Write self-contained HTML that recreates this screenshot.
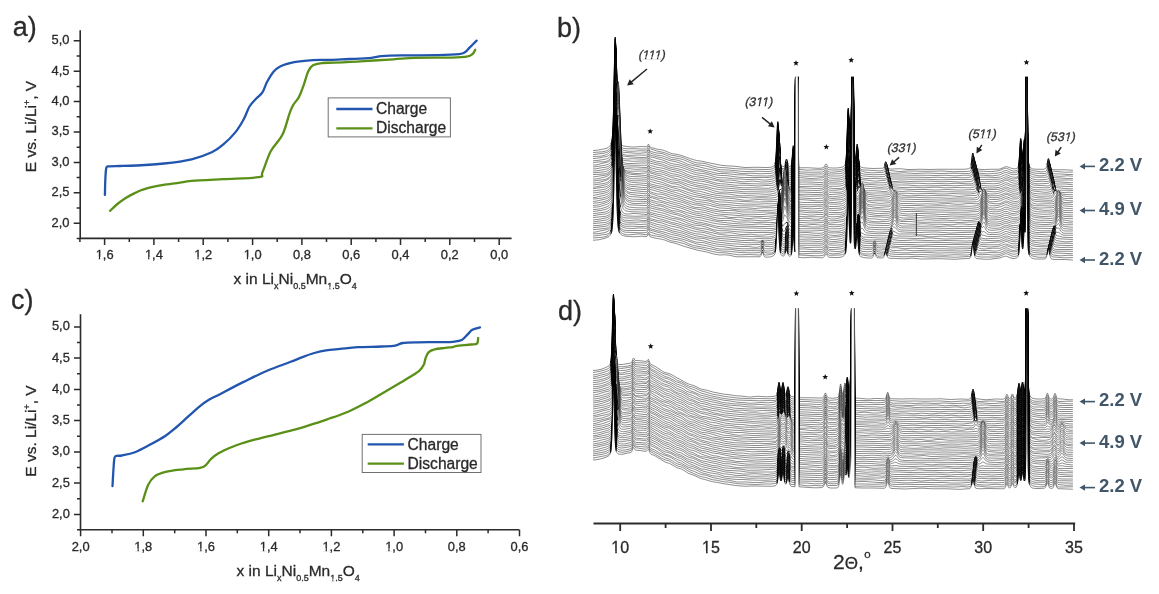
<!DOCTYPE html>
<html><head><meta charset="utf-8"><style>
html,body{margin:0;padding:0;background:#fff;}
svg{display:block;filter:blur(0.6px);}
text{font-family:"Liberation Sans", sans-serif;}
</style></head><body>
<svg width="1159" height="594" viewBox="0 0 1159 594">
<rect width="1159" height="594" fill="#fff"/>
<path d="M80.2 30.2V238.4H511.6" fill="none" stroke="#2b2b2b" stroke-width="1.6"/>
<text x="69.5" y="226.6" text-anchor="end" font-size="12.9" fill="#2a2a2a" stroke="#2a2a2a" stroke-width="0.30">2,0</text>
<text x="69.5" y="196.2" text-anchor="end" font-size="12.9" fill="#2a2a2a" stroke="#2a2a2a" stroke-width="0.30">2,5</text>
<text x="69.5" y="165.8" text-anchor="end" font-size="12.9" fill="#2a2a2a" stroke="#2a2a2a" stroke-width="0.30">3,0</text>
<text x="69.5" y="135.4" text-anchor="end" font-size="12.9" fill="#2a2a2a" stroke="#2a2a2a" stroke-width="0.30">3,5</text>
<text x="69.5" y="105.0" text-anchor="end" font-size="12.9" fill="#2a2a2a" stroke="#2a2a2a" stroke-width="0.30">4,0</text>
<text x="69.5" y="74.6" text-anchor="end" font-size="12.9" fill="#2a2a2a" stroke="#2a2a2a" stroke-width="0.30">4,5</text>
<text x="69.5" y="44.2" text-anchor="end" font-size="12.9" fill="#2a2a2a" stroke="#2a2a2a" stroke-width="0.30">5,0</text>
<text x="104.6" y="259.2" text-anchor="middle" font-size="12.9" fill="#2a2a2a" stroke="#2a2a2a" stroke-width="0.30">1,6</text>
<text x="153.9" y="259.2" text-anchor="middle" font-size="12.9" fill="#2a2a2a" stroke="#2a2a2a" stroke-width="0.30">1,4</text>
<text x="203.2" y="259.2" text-anchor="middle" font-size="12.9" fill="#2a2a2a" stroke="#2a2a2a" stroke-width="0.30">1,2</text>
<text x="252.6" y="259.2" text-anchor="middle" font-size="12.9" fill="#2a2a2a" stroke="#2a2a2a" stroke-width="0.30">1,0</text>
<text x="301.9" y="259.2" text-anchor="middle" font-size="12.9" fill="#2a2a2a" stroke="#2a2a2a" stroke-width="0.30">0,8</text>
<text x="351.2" y="259.2" text-anchor="middle" font-size="12.9" fill="#2a2a2a" stroke="#2a2a2a" stroke-width="0.30">0,6</text>
<text x="400.5" y="259.2" text-anchor="middle" font-size="12.9" fill="#2a2a2a" stroke="#2a2a2a" stroke-width="0.30">0,4</text>
<text x="449.8" y="259.2" text-anchor="middle" font-size="12.9" fill="#2a2a2a" stroke="#2a2a2a" stroke-width="0.30">0,2</text>
<text x="499.2" y="259.2" text-anchor="middle" font-size="12.9" fill="#2a2a2a" stroke="#2a2a2a" stroke-width="0.30">0,0</text>
<path d="M73.7 223.2H80.2M76.7 208.0H80.2M73.7 192.8H80.2M76.7 177.6H80.2M73.7 162.4H80.2M76.7 147.2H80.2M73.7 132.0H80.2M76.7 116.8H80.2M73.7 101.6H80.2M76.7 86.4H80.2M73.7 71.2H80.2M76.7 56.0H80.2M73.7 40.8H80.2M76.7 238.4H80.2M79.9 238.4V241.9M104.6 238.4V244.9M129.3 238.4V241.9M153.9 238.4V244.9M178.6 238.4V241.9M203.2 238.4V244.9M227.9 238.4V241.9M252.6 238.4V244.9M277.2 238.4V241.9M301.9 238.4V244.9M326.5 238.4V241.9M351.2 238.4V244.9M375.9 238.4V241.9M400.5 238.4V244.9M425.2 238.4V241.9M449.8 238.4V244.9M474.5 238.4V241.9M499.2 238.4V244.9" fill="none" stroke="#2b2b2b" stroke-width="1.5"/>
<path d="M104.9 194.9C105.0 192.4 105.1 184.4 105.3 180.0C105.5 175.6 105.7 170.8 106.2 168.5C106.7 166.2 106.2 166.7 108.5 166.3C110.8 165.9 115.3 166.1 120.0 166.0C124.7 165.9 129.1 165.9 136.4 165.5C143.7 165.1 154.8 164.5 164.0 163.5C173.2 162.5 183.6 161.2 191.6 159.3C199.6 157.4 206.5 154.8 211.8 152.3C217.1 149.8 219.7 147.5 223.6 144.2C227.5 140.9 232.0 136.5 235.3 132.4C238.6 128.3 241.2 123.8 243.6 119.5C246.0 115.2 247.3 110.0 249.5 106.5C251.7 103.0 254.3 100.6 256.5 98.3C258.6 96.0 260.6 95.2 262.4 92.4C264.2 89.7 265.3 85.1 267.1 81.8C268.9 78.5 270.8 75.0 273.0 72.4C275.2 69.9 276.6 68.2 280.1 66.5C283.6 64.8 288.7 63.3 294.2 62.2C299.7 61.1 307.0 60.5 313.0 60.1C319.0 59.7 323.9 60.1 330.0 59.9C336.1 59.7 342.4 59.3 349.3 59.0C356.2 58.7 365.9 58.4 371.3 57.9C376.7 57.4 376.7 56.5 381.6 56.1C386.5 55.7 391.4 55.5 400.7 55.4C410.0 55.2 427.5 55.4 437.3 55.2C447.1 55.0 454.7 54.7 459.3 54.2C463.9 53.7 463.5 53.1 465.2 52.0C466.9 50.9 467.7 49.5 469.6 47.6C471.5 45.7 475.4 41.8 476.6 40.6" fill="none" stroke="#2155ae" stroke-width="2.3" stroke-linejoin="round" stroke-linecap="round"/>
<path d="M110.1 210.8C111.2 209.8 114.3 206.6 116.8 204.5C119.3 202.4 122.5 200.0 125.3 198.2C128.1 196.4 130.9 195.0 133.7 193.6C136.5 192.2 139.3 190.9 142.1 189.8C144.9 188.8 147.7 188.0 150.5 187.3C153.3 186.6 156.1 186.1 158.9 185.6C161.7 185.1 163.9 184.8 167.4 184.3C170.9 183.8 176.0 183.2 180.0 182.6C184.0 182.0 184.3 181.5 191.6 180.9C198.9 180.3 212.4 179.7 223.6 179.1C234.8 178.5 252.4 178.3 258.9 177.2C265.4 176.1 260.4 176.8 262.4 172.5C264.4 168.2 267.4 157.6 270.7 151.3C274.0 145.0 279.3 141.1 282.4 134.8C285.5 128.5 287.7 118.5 289.5 113.6C291.3 108.7 291.4 108.0 293.0 105.3C294.6 102.5 297.1 100.4 298.9 97.1C300.7 93.8 302.0 89.6 303.6 85.3C305.2 81.0 306.7 74.5 308.3 71.2C309.9 67.9 310.6 66.7 313.0 65.3C315.4 63.9 318.9 63.5 322.5 63.0C326.1 62.5 327.8 62.9 334.7 62.6C341.6 62.3 354.2 61.7 364.0 61.1C373.8 60.5 384.8 59.8 393.3 59.3C401.9 58.8 405.5 58.2 415.3 57.9C425.1 57.6 443.4 57.8 452.0 57.6C460.6 57.4 463.3 57.3 466.7 56.7C470.1 56.1 471.1 55.4 472.5 54.2C473.9 53.1 474.8 50.5 475.2 49.8" fill="none" stroke="#5a9018" stroke-width="2.3" stroke-linejoin="round" stroke-linecap="round"/>
<rect x="328.2" y="97.9" width="122.2" height="39.0" fill="#fff" stroke="#707070" stroke-width="1"/>
<path d="M336.3 109.0H372.5" stroke="#2155ae" stroke-width="2.3"/>
<path d="M336.3 128.4H372.5" stroke="#5a9018" stroke-width="2.3"/>
<text x="376.0" y="114.1" font-size="15.6" fill="#2a2a2a" stroke="#2a2a2a" stroke-width="0.30">Charge</text>
<text x="376.0" y="133.4" font-size="15.6" fill="#2a2a2a" stroke="#2a2a2a" stroke-width="0.30">Discharge</text>
<text x="233.5" y="283.5" font-size="15.5" fill="#2a2a2a" stroke="#2a2a2a" stroke-width="0.30">x in Li<tspan font-size="9" dy="5">x</tspan><tspan dy="-5">Ni</tspan><tspan font-size="9" dy="5">0.5</tspan><tspan dy="-5">Mn</tspan><tspan font-size="9" dy="5">1.5</tspan><tspan dy="-5">O</tspan><tspan font-size="9" dy="5">4</tspan></text>
<text transform="translate(35.8 126.5) rotate(-90)" text-anchor="middle" font-size="15.5" fill="#2a2a2a" stroke="#2a2a2a" stroke-width="0.30">E vs. Li/Li<tspan font-size="9" dy="-6">+</tspan><tspan dy="6">, V</tspan></text>
<text x="12.8" y="36.4" font-size="27" fill="#2a2a2a" stroke="#2a2a2a" stroke-width="0.30">a)</text>
<path d="M80.5 314.3V529.8H519.3" fill="none" stroke="#2b2b2b" stroke-width="1.6"/>
<text x="69.8" y="517.8" text-anchor="end" font-size="12.9" fill="#2a2a2a" stroke="#2a2a2a" stroke-width="0.30">2,0</text>
<text x="69.8" y="486.5" text-anchor="end" font-size="12.9" fill="#2a2a2a" stroke="#2a2a2a" stroke-width="0.30">2,5</text>
<text x="69.8" y="455.3" text-anchor="end" font-size="12.9" fill="#2a2a2a" stroke="#2a2a2a" stroke-width="0.30">3,0</text>
<text x="69.8" y="424.0" text-anchor="end" font-size="12.9" fill="#2a2a2a" stroke="#2a2a2a" stroke-width="0.30">3,5</text>
<text x="69.8" y="392.8" text-anchor="end" font-size="12.9" fill="#2a2a2a" stroke="#2a2a2a" stroke-width="0.30">4,0</text>
<text x="69.8" y="361.5" text-anchor="end" font-size="12.9" fill="#2a2a2a" stroke="#2a2a2a" stroke-width="0.30">4,5</text>
<text x="69.8" y="330.3" text-anchor="end" font-size="12.9" fill="#2a2a2a" stroke="#2a2a2a" stroke-width="0.30">5,0</text>
<text x="80.6" y="550.6" text-anchor="middle" font-size="12.9" fill="#2a2a2a" stroke="#2a2a2a" stroke-width="0.30">2,0</text>
<text x="143.3" y="550.6" text-anchor="middle" font-size="12.9" fill="#2a2a2a" stroke="#2a2a2a" stroke-width="0.30">1,8</text>
<text x="206.0" y="550.6" text-anchor="middle" font-size="12.9" fill="#2a2a2a" stroke="#2a2a2a" stroke-width="0.30">1,6</text>
<text x="268.7" y="550.6" text-anchor="middle" font-size="12.9" fill="#2a2a2a" stroke="#2a2a2a" stroke-width="0.30">1,4</text>
<text x="331.4" y="550.6" text-anchor="middle" font-size="12.9" fill="#2a2a2a" stroke="#2a2a2a" stroke-width="0.30">1,2</text>
<text x="394.1" y="550.6" text-anchor="middle" font-size="12.9" fill="#2a2a2a" stroke="#2a2a2a" stroke-width="0.30">1,0</text>
<text x="456.8" y="550.6" text-anchor="middle" font-size="12.9" fill="#2a2a2a" stroke="#2a2a2a" stroke-width="0.30">0,8</text>
<text x="519.5" y="550.6" text-anchor="middle" font-size="12.9" fill="#2a2a2a" stroke="#2a2a2a" stroke-width="0.30">0,6</text>
<path d="M74.0 514.4H80.5M77.0 498.8H80.5M74.0 483.1H80.5M77.0 467.5H80.5M74.0 451.9H80.5M77.0 436.3H80.5M74.0 420.6H80.5M77.0 405.0H80.5M74.0 389.4H80.5M77.0 373.8H80.5M74.0 358.1H80.5M77.0 342.5H80.5M74.0 326.9H80.5M77.0 529.8H80.5M80.6 529.8V536.3M112.0 529.8V533.3M143.3 529.8V536.3M174.7 529.8V533.3M206.0 529.8V536.3M237.3 529.8V533.3M268.7 529.8V536.3M300.0 529.8V533.3M331.4 529.8V536.3M362.8 529.8V533.3M394.1 529.8V536.3M425.5 529.8V533.3M456.8 529.8V536.3M488.1 529.8V533.3M519.5 529.8V536.3" fill="none" stroke="#2b2b2b" stroke-width="1.5"/>
<path d="M112.5 486.1C112.7 483.0 113.2 472.3 113.6 467.5C113.9 462.7 114.0 459.4 114.6 457.5C115.2 455.6 115.8 456.1 117.0 455.8C118.2 455.5 118.9 456.1 121.9 455.5C124.9 454.9 130.3 454.0 135.0 452.2C139.7 450.4 145.2 447.3 150.3 444.6C155.4 441.9 161.2 438.7 165.6 435.8C170.0 432.9 172.9 430.1 176.6 427.0C180.2 423.9 183.6 420.7 187.5 417.2C191.4 413.7 196.4 409.0 200.0 406.1C203.6 403.2 206.0 401.6 209.3 399.6C212.6 397.6 214.3 397.1 220.0 394.2C225.7 391.2 235.7 385.8 243.6 381.9C251.5 378.0 259.3 374.0 267.2 370.7C275.1 367.4 284.8 364.1 290.7 361.8C296.6 359.5 298.6 358.6 302.5 357.1C306.4 355.6 310.4 354.1 314.3 353.0C318.2 351.9 321.8 351.0 326.1 350.3C330.4 349.6 334.7 349.4 340.0 348.9C345.3 348.4 350.9 347.6 357.8 347.2C364.7 346.8 375.2 346.8 381.4 346.5C387.6 346.2 391.6 346.2 395.2 345.6C398.8 345.0 398.9 343.6 402.7 343.0C406.5 342.4 411.6 342.4 417.9 342.3C424.2 342.2 434.8 342.2 440.6 342.1C446.4 342.0 449.2 342.2 452.7 341.8C456.2 341.4 459.3 341.3 461.8 340.0C464.3 338.7 466.1 335.9 467.9 334.2C469.7 332.5 470.4 330.8 472.4 329.7C474.4 328.6 478.7 327.8 480.0 327.4" fill="none" stroke="#2155ae" stroke-width="2.3" stroke-linejoin="round" stroke-linecap="round"/>
<path d="M142.7 501.4C143.6 498.7 146.1 489.2 148.1 485.0C150.1 480.8 151.8 478.5 154.7 476.3C157.6 474.1 160.8 473.1 165.6 471.9C170.3 470.7 177.5 470.0 183.2 469.3C188.9 468.6 196.3 468.5 200.0 467.8C203.7 467.1 203.8 466.9 205.6 465.4C207.4 463.9 208.9 460.9 211.1 458.9C213.2 456.9 215.7 455.0 218.5 453.3C221.3 451.6 224.7 450.1 227.8 448.7C230.9 447.3 232.4 446.6 237.0 445.0C241.6 443.4 249.4 441.1 255.6 439.4C261.8 437.7 267.9 436.3 274.1 434.8C280.3 433.3 286.4 431.9 292.6 430.2C298.8 428.5 304.9 426.6 311.1 424.6C317.3 422.7 323.4 420.6 329.6 418.5C335.8 416.4 341.9 414.4 348.1 411.7C354.3 409.0 361.4 405.2 366.7 402.4C372.0 399.6 375.2 397.6 380.0 394.8C384.8 392.0 390.1 388.8 395.2 385.8C400.2 382.8 406.3 379.2 410.3 376.7C414.3 374.2 417.1 372.6 419.4 370.6C421.7 368.6 422.9 366.5 423.9 364.5C424.9 362.5 424.7 360.5 425.5 358.5C426.3 356.5 427.0 353.9 428.5 352.4C430.0 350.9 431.7 350.1 434.5 349.4C437.3 348.6 442.2 348.3 445.2 347.9C448.2 347.5 450.9 347.4 452.7 347.1C454.5 346.8 452.8 346.5 455.8 346.1C458.8 345.7 467.4 344.9 470.9 344.5C474.4 344.1 475.8 344.7 477.0 343.6C478.2 342.5 478.0 338.9 478.2 338.0" fill="none" stroke="#5a9018" stroke-width="2.3" stroke-linejoin="round" stroke-linecap="round"/>
<rect x="362.2" y="434.4" width="118.8" height="38.1" fill="#fff" stroke="#707070" stroke-width="1"/>
<path d="M367.7 444.3H403.9" stroke="#2155ae" stroke-width="2.3"/>
<path d="M367.7 463.7H403.9" stroke="#5a9018" stroke-width="2.3"/>
<text x="407.6" y="449.7" font-size="15.6" fill="#2a2a2a" stroke="#2a2a2a" stroke-width="0.30">Charge</text>
<text x="407.6" y="469.0" font-size="15.6" fill="#2a2a2a" stroke="#2a2a2a" stroke-width="0.30">Discharge</text>
<text x="236.5" y="575.6" font-size="15.5" fill="#2a2a2a" stroke="#2a2a2a" stroke-width="0.30">x in Li<tspan font-size="9" dy="5">x</tspan><tspan dy="-5">Ni</tspan><tspan font-size="9" dy="5">0.5</tspan><tspan dy="-5">Mn</tspan><tspan font-size="9" dy="5">1.5</tspan><tspan dy="-5">O</tspan><tspan font-size="9" dy="5">4</tspan></text>
<text transform="translate(35.8 431.0) rotate(-90)" text-anchor="middle" font-size="15.5" fill="#2a2a2a" stroke="#2a2a2a" stroke-width="0.30">E vs. Li/Li<tspan font-size="9" dy="-6">+</tspan><tspan dy="6">, V</tspan></text>
<text x="11.0" y="309.3" font-size="27" fill="#2a2a2a" stroke="#2a2a2a" stroke-width="0.30">c)</text>
<defs><path id="b0" d="M2372 602l16-1 15-3 17-3 9-3 4-2 3-3 3-3 2-2 3-6 3-10 2-14 1-11 2-35 1-27 2-78 4-211 1-33 1-8 1 18 1 41 3 161 2 87 1 32 2 41 2 22 2 12 2 6 3 5 4 5 4 2 6 3 6 1 8 1 18 2 11 0 28-2 20 1 2 0 2-2 4-8 1 0 1 1 4 9 2 1 3 2 15 4 12 3 12 2 8 1 8 3 24 10 8 2 20 3 12 3 12 4 24 9 16 5 12 3 20 3 28 6 48 10 20 2 36 2 32 4 8 1 12 0 28-1 40 1 13 0 10-1 5-1 4-2 3-1 3-3 2-3 1-3 2-11 2-21 1-16 4-93 1-19 1-9 1 4 1 16 3 72 2 39 2 24 2 12 2 6 1 1 2 2 2 2 3 1 2 0 2-1 2-3 1-2 2-7 3-12 1-3 1-1 1 1 1 3 4 16 2 6 1 1 2 2 2 1 2-1 2-1 2-4 2-10 2-22 3-40 1-6 1 3 1 10 4 52 1 2 1-294 1-52 11 0 1 320 1 47 8 0 29 0 36 2 12 0 8-1 4-1 3-2 3-4 4-8 1-1 1 0 1 0 1 1 4 8 2 3 2 2 3 1 12 1 16 0 11-1 10-2 4-1 4-2 3-3 2-3 2-4 1-3 2-13 2-27 1-21 4-129 1-23 1-7 1 12 5 142 1 16 1 9 1 2 1-4 1-17 1-44 2-245 6 0 1 17 1 162 1 86 1 39 1 17 1 8 1 3 1 1 1-3 2-14 3-34 1-8 1-1 1 6 4 50 2 18 1 6 2 6 2 3 2 2 5 2 6 1 9 1 12 1 17 1 38-1 3-1 2-2 1-2 2-6 3-11 1-2 1-2 1 1 1 2 4 15 1 3 2 4 1 1 2 1 6 2 9 0 21-1 10 0 31 3 8 0 40-1 40 1 32-1 56 0 40 0 10 0 9-1 7-1 4-2 2-1 2-4 2-8 1-5 4-33 1-7 1-3 1 2 1 5 4 33 2 12 1 3 2 5 2 2 2 1 4 1 6 1 13 1 10 0 26-1 28 0 5-1 5-1 5-2 11-5 3-1 3 0 5 0 12 5 6 2 8 1 7 0 5-2 3-2 2-4 2-10 2-20 4-68 1-12 1-3 1 6 1 13 3 49 1 10 1 6 1 0 1-5 1-12 3-53 1-11 1 0 2 15 1-6 1-45 2-217 5 0 2 264 1 50 1 21 1 10 2 10 2 6 3 5 3 2 5 3 6 1 8 1 13 0 18 0 4-1 3 0 2-2 1-1 2-5 2-8 4-22 1-3 1 0 1 2 1 5 3 18 2 9 2 5 1 1 2 2 5 1 8 1 38 0 35 2l0 2-132-2-332-1-254-2-178-2-329-3-88-1-96-8-20-3-48-12-28-5-12-2-12-4-32-12-16-5-32-7-32-11-20-4-21-6-10-2-43-1-77 3-15 2-37 6-56 5z"/><path id="b1" d="M2372 610l39-3 9-2 7-2 4-2 3-2 3-3 3-3 4-8 3-9 2-12 1-10 2-32 1-24 2-73 4-210 1-40 1-18 1 9 1 33 5 252 2 61 2 34 2 18 2 10 2 5 3 5 3 4 4 3 6 2 6 1 8 1 28 0 37 1 11 0 3 0 2-2 4-9 1 0 1 0 4 9 2 2 2 0 10 3 18 6 20 4 8 2 20 8 8 2 28 5 16 4 12 5 28 12 8 2 12 3 20 1 12 2 12 4 20 6 12 3 12 2 24 1 40 4 56 2 65 1 10 0 8-1 5-1 4-2 3-1 3-2 2-3 1-3 2-8 2-17 1-14 2-39 3-72 1-16 1-4 1 8 1 19 3 73 2 37 2 21 2 11 2 5 3 4 4 2 2 0 2-1 2-2 2-4 4-16 1-3 1-2 1 1 1 2 4 17 2 5 1 2 2 2 2 0 2 0 2-2 2-4 2-11 2-21 3-41 1-6 1 2 1 10 4 52 1 2 1-295 1-58 11 0 1 326 1 47 25 3 12 1 12-1 24-1 22 0 3-1 3-2 2-3 4-7 1-1 1-1 1 1 1 1 4 8 2 3 2 1 3 1 10 1 22 0 11-1 8-1 6-3 3-2 2-3 2-4 1-3 2-11 2-25 1-20 4-127 1-27 1-12 1 8 1 23 4 118 1 17 1 10 1 4 1-4 1-16 1-44 2-253 6 0 1 25 1 163 1 85 1 39 1 18 1 8 1 4 1 1 1-2 2-12 3-33 1-10 1-4 1 2 1 9 4 51 2 16 2 7 2 4 2 1 3 2 4 1 10 1 51 3 11 0 9-1 2-1 2-1 2-3 2-4 4-15 1-3 1-1 1 1 1 2 5 18 2 3 2 2 2 1 4 1 24 3 9 1 8 0 25-2 12 0 48 1 40 0 40-1 32 2 12 1 32-1 23 0 8-1 4 0 3-2 2-4 1-3 2-10 4-32 1-7 1-4 1 0 1 5 4 33 2 12 1 3 2 5 1 1 2 1 6 1 38 2 10 0 11 0 15-2 10-2 8-3 12-5 3-1 3 0 3 0 3 1 12 6 7 3 7 1 8-1 5-1 3-3 2-3 2-9 2-18 4-66 1-15 1-6 1 2 1 11 4 61 1 7 1 1 1-4 1-11 3-53 1-11 1-2 2 15 1-6 1-45 2-223 5 0 2 272 1 50 1 20 1 10 2 10 2 6 3 5 3 3 4 2 6 1 13 2 16 2 11 0 5-1 3 0 3-2 2-4 1-2 2-9 4-23 1-3 1 0 1 2 4 23 2 8 2 5 1 1 2 2 6 1 36 3 11 1 31-1l0 3-132-2-332-1-254-2-178-2-329-3-88-1-96-8-20-3-48-12-28-4-12-3-12-4-32-12-16-5-32-7-32-11-20-4-21-6-10-2-43 0-77 2-15 2-37 6-56 5z"/><path id="b2" d="M2372 619l12-2 36-5 6-2 5-2 6-4 3-3 2-3 2-4 2-5 2-8 2-15 1-11 2-39 1-29 2-83 4-208 1-27 1-1 1 25 1 45 4 207 2 67 2 38 1 12 2 14 2 8 2 4 3 5 4 4 5 3 6 2 10 2 12 1 11 0 31-2 25 1 2 0 1-1 4-8 1-1 1 1 4 9 2 1 2 1 24 6 20 2 4 1 8 3 20 9 8 3 8 1 20 3 12 3 12 4 28 12 12 4 8 2 20 2 12 2 12 3 28 8 16 4 8 1 32 1 48 5 16 1 16 0 37-1 37 1 8 0 6-1 5-1 4-1 3-2 3-3 2-3 1-3 2-9 2-20 1-15 5-113 1-12 1 1 1 12 4 94 2 33 2 19 2 10 2 4 3 3 3 2 2 0 2 0 1-1 2-3 1-3 5-19 1-1 1 0 1 2 4 17 2 6 1 2 2 2 2 1 2-1 2-1 2-4 2-11 2-21 3-40 1-6 1 2 1 10 4 52 1 2 1-294 1-68 11 0 1 335 1 48 37 2 12 0 46-1 3-1 3-2 2-3 4-7 1-2 1 0 1 1 1 1 4 8 2 3 2 1 3 1 9 1 15-1 19-2 10-2 4-2 3-2 2-2 2-4 2-7 2-15 2-31 1-24 4-129 1-17 1 2 1 20 3 93 2 45 1 11 1 5 1-3 1-16 1-43 1-96 1-165 6 0 1 33 1 163 1 85 1 40 1 17 1 9 1 4 1 1 1-1 1-3 2-16 3-35 1-7 1-1 1 6 4 51 2 17 1 6 2 6 2 3 2 1 6 2 9 3 12 2 11 1 15 0 37-2 3-1 2-3 1-2 2-5 3-11 1-3 1-1 1 2 1 2 4 15 1 3 2 4 2 2 2 1 8 1 13 0 24-1 11-1 44 3 48-2 48 2 60-1 45 1 13 0 6-1 3-2 2-2 2-5 2-9 1-7 4-33 1-4 1-1 1 4 4 33 2 12 1 4 2 5 2 2 2 1 4 1 6 1 25 2 14 0 14-1 15-1 9-2 8-2 13-6 5-1 3 0 3 1 12 6 6 2 7 0 7 0 6-2 2-1 2-1 2-4 2-7 2-16 1-12 4-69 1-9 1-1 1 8 4 61 1 8 1 3 1-3 1-10 3-52 1-12 1-2 2 13 1-5 1-44 2-230 5 0 2 280 1 50 1 20 1 10 2 11 2 5 3 5 3 3 4 2 5 1 10 2 31 1 7 0 4-1 2-2 1-1 2-4 2-9 4-22 1-3 1 0 1 3 4 22 2 9 2 5 1 1 2 1 2 1 4 1 26 1 30 2 10 0 10 0l0 1-132-2-332 0-254-3-178-2-329-3-88-1-96-8-20-3-48-12-28-4-12-3-12-4-32-12-16-5-32-7-32-11-20-4-21-6-10-2-43 0-77 2-15 2-37 6-56 5z"/><path id="b3" d="M2372 626l24-1 10-1 13-3 8-3 4-2 4-3 3-3 3-3 4-7 3-10 2-13 1-11 2-34 1-26 2-77 4-210 1-35 1-10 1 16 1 39 5 250 1 32 2 43 2 23 2 12 2 6 3 6 3 4 4 2 4 2 7 1 20 1 26 2 8 0 32-2 2 0 2-2 4-8 1-1 1 1 4 9 2 2 3 1 15 5 12 3 12 1 8 2 8 3 20 8 8 3 4 0 16 2 8 2 12 4 24 11 12 3 36 8 20 5 8 2 28 5 28 7 12 1 24 0 8 0 8 1 24 4 12 1 28-1 28 1 11 1 38-1 10-1 4-1 4-1 3-2 2-2 2-4 1-3 2-11 2-22 1-16 4-94 1-18 1-8 1 5 1 16 3 73 2 38 2 23 2 12 2 6 3 3 2 1 3 1 2 0 1-1 2-2 1-3 5-19 1-2 1 0 1 2 1 3 3 13 2 7 1 2 2 2 2 1 2 0 2-2 2-4 2-10 2-22 3-40 1-6 1 2 1 10 4 52 1 2 1-295 1-75 11 0 1 343 1 47 25 2 12 1 12 0 24-1 23 0 3-1 2-2 2-2 4-8 1-1 1-1 1 1 1 1 4 8 2 3 2 1 3 1 9 0 29-1 9-1 6-2 4-1 3-2 2-2 2-4 2-6 2-13 2-29 1-23 4-129 1-21 1-4 1 16 3 92 2 47 1 13 1 7 1-2 1-16 1-43 1-96 1-172 6 0 1 41 1 163 1 86 1 39 1 18 1 9 1 4 1 2 1 0 1-3 2-13 4-44 1-4 1 3 1 10 3 39 2 20 1 6 2 7 2 4 2 1 4 2 7 2 10 1 12 1 19 1 34-1 6 0 3-1 2-3 2-5 4-14 1-2 1-1 1 1 1 3 4 14 2 5 1 2 2 1 2 1 4 1 9 0 28 0 45 1 56 0 40 1 40-1 28 2 8 0 8 0 26-2 22 0 5 0 3-1 2-1 2-3 1-2 2-9 1-7 4-33 1-5 1 0 1 3 1 7 3 25 2 13 1 4 2 5 1 1 2 2 5 0 19 1 25 2 10 0 10-1 11-1 8-2 7-3 12-5 3-1 3 0 5 1 12 5 7 2 8 1 8-1 5-1 3-2 2-4 2-10 2-19 4-68 1-12 1-5 1 5 1 13 3 47 1 10 1 4 1-2 1-9 4-64 1-3 2 13 1-5 1-44 2-238 5 0 2 288 1 50 1 20 1 10 2 10 2 6 3 5 2 2 3 1 7 3 10 2 12 2 10 0 12-1 9-2 3-2 2-3 1-3 2-8 4-23 1-3 1 0 1 3 4 23 2 9 1 3 2 3 3 2 4 2 6 1 11 1 9 0 18-1 8-1 9 1 14 1l0 3-132-2-332-1-254-2-178-3-329-2-88-2-96-8-20-3-48-12-28-4-12-3-12-4-32-11-16-6-32-7-32-11-20-4-21-6-10-1-43-1-77 3-15 1-37 6-56 5z"/><path id="b4" d="M2372 634l16-1 32-6 7-1 5-2 3-2 3-2 3-3 2-3 2-3 2-6 2-8 2-16 1-13 2-42 1-31 2-87 3-163 1-41 1-21 1 7 1 31 5 252 2 63 2 35 2 18 2 10 2 5 3 5 4 5 4 2 6 2 10 3 12 0 10 0 29-1 28 1 2-1 2-2 4-8 1-1 1 1 4 8 1 2 2 1 13 3 16 4 16 3 28 10 8 2 20 4 8 2 52 19 20 6 8 2 36 7 32 8 8 2 8 1 8 0 16 0 12 1 36 4 36 1 28 3 59 1 8-1 6 0 5-2 4-1 3-2 3-2 2-3 1-3 2-8 2-18 1-14 5-112 1-15 1-4 1 10 1 19 3 73 2 36 2 20 2 11 2 4 3 4 2 1 2 0 2 0 1 0 2-3 1-2 2-7 3-12 1-3 1 0 1 1 1 3 4 17 2 5 1 1 2 2 3 0 2-2 2-4 2-10 2-22 3-40 1-6 1 2 1 10 4 52 1 2 1-294 1-83 11 0 1 351 1 47 13 2 16 1 32-1 26 1 8 0 3-1 3-2 2-3 4-8 1-1 1-1 1 1 1 1 4 7 2 3 2 2 2 0 6 1 31 0 9-1 7-2 6-3 3-2 2-3 2-4 1-3 2-13 2-26 1-21 4-128 1-25 1-9 1 11 5 139 1 15 1 8 1-1 1-15 1-42 1-96 1-179 1 0 5 0 1 50 1 163 1 85 1 40 1 18 1 9 1 5 1 2 1 1 1-2 2-11 4-45 1-6 1 0 1 6 4 51 2 17 2 9 2 4 2 1 5 2 7 1 39 3 19 0 23-1 2-1 2-1 2-3 2-5 4-14 1-2 1-1 1 1 1 3 4 15 2 5 2 2 2 1 7 2 11 0 30 0 33 1 32 0 40 1 36-1 36 2 32-1 33 1 10 0 11-1 8-2 4-1 2-1 2-3 2-6 1-5 5-39 1-6 1-1 1 2 1 7 4 33 2 10 2 6 2 2 2 1 6 2 8 0 30 0 26 1 8-1 5 0 5-2 5-2 11-5 3-1 3 0 3 0 3 1 12 6 7 2 8 1 7 0 5-2 3-2 2-4 2-8 2-18 4-66 1-15 1-8 1 2 1 10 3 47 1 11 1 5 1-1 1-8 4-63 1-4 2 12 1-5 1-44 2-244 5 0 2 296 1 50 1 20 1 10 2 11 2 5 3 5 3 3 5 3 6 1 8 1 8 0 32 0 6-1 2-1 1-2 2-4 2-9 4-22 1-3 1 1 1 3 4 22 2 9 2 5 1 1 2 1 3 1 5 1 22 1 25 2 13 0 10 0l0 2-132-2-332-1-254-2-178-3-329-2-88-2-96-8-20-3-48-11-28-5-12-3-12-3-32-12-16-5-32-8-32-11-20-4-21-5-10-2-43-1-77 3-15 1-37 6-56 5z"/><path id="b5" d="M2372 643l16-1 32-5 6-2 5-1 4-3 3-2 3-3 2-3 3-6 2-6 1-4 2-15 1-11 2-37 1-29 2-81 4-210 1-28 1-4 1 23 1 43 4 208 2 68 2 40 2 20 2 11 2 6 3 5 3 3 4 3 5 2 5 1 7 1 39 3 20 1 14 0 6-1 3-1 2-3 3-7 1-1 1 1 4 8 2 2 13 2 17 5 16 4 8 3 20 8 8 3 8 2 16 3 12 2 16 5 28 11 16 5 8 1 24 4 40 11 12 2 8 2 12 1 16 0 12 1 44 6 24 1 71 0 22 0 15-2 4 0 4-2 3-1 2-2 2-3 1-3 2-10 2-20 1-15 4-92 1-20 1-11 1 2 1 13 5 112 2 26 2 13 2 6 2 3 2 1 2 1 2 1 2-1 2-2 1-2 2-6 3-13 1-3 1-1 1 0 1 3 4 16 2 6 1 1 2 2 1 0 2 0 2-1 2-4 2-11 2-21 3-41 1-6 1 3 1 9 4 53 1 1 1-294 1-91 11 0 1 359 1 47 33 3 16 1 20-1 25-2 4 0 3-3 2-3 4-7 1-2 1 0 1 1 1 1 4 8 2 3 3 2 3 1 15 1 16 0 11-1 9-3 6-2 3-3 2-2 2-4 1-3 2-11 2-24 1-20 5-154 1-14 1 6 1 21 4 117 1 16 1 9 1 0 1-13 1-42 1-96 1-178 1-8 5 0 1 57 1 163 1 86 1 39 1 18 1 9 1 6 1 3 1 1 1-1 1-4 2-14 4-44 1-3 1 3 1 10 3 40 2 19 1 6 2 7 2 3 2 2 3 1 5 2 11 1 38 0 31 1 7 0 3-2 2-2 2-5 4-15 1-2 1 0 1 1 5 18 2 4 1 1 2 2 5 1 40 0 47 1 48 0 56 2 52-1 57 0 14 0 4-1 3-1 2-3 1-2 2-8 1-6 4-34 1-5 1-3 1 2 1 6 4 33 2 11 2 6 2 2 2 2 6 1 9 0 62-1 5-1 5-1 15-6 3-1 3-1 5 1 12 5 6 2 7 1 8-1 6-2 4-2 2-3 2-7 2-16 1-12 4-69 1-10 1-2 1 7 4 58 1 7 1 1 1-7 1-12 3-50 1-4 2 11 1-5 1-44 2-250 5 0 2 304 1 50 1 20 1 10 2 11 2 6 3 5 3 3 5 2 7 2 11 2 11 0 23-1 9-1 3-1 2-4 1-2 2-9 4-22 1-3 1 0 1 3 4 23 2 9 2 4 1 2 2 1 5 1 10 1 41 0 20 1l0 3-132-2-332-1-254-2-178-2-329-3-88-2-96-7-20-4-48-11-28-5-12-3-12-3-32-12-16-5-32-7-32-12-20-3-21-6-10-2-43-1-77 3-15 2-37 6-56 4z"/><path id="b6" d="M2372 651l20-3 28-1 5-2 5-2 4-2 3-2 5-6 4-7 3-11 2-12 1-11 2-33 1-26 2-75 4-212 1-36 1-13 1 14 1 36 5 251 2 59 2 32 2 17 2 9 2 6 3 5 3 3 4 3 5 2 5 1 7 1 22-1 28 1 28 0 2-1 2-1 4-9 1 0 1 1 4 8 2 2 3 2 19 6 8 2 12 1 8 2 8 2 20 9 8 2 8 2 16 2 12 3 12 4 32 12 12 4 12 3 20 2 12 2 12 3 24 8 8 2 12 2 16 0 8 0 32 4 28 1 20 2 16 0 20-1 8 0 8 1 17 2 8 0 7 0 8-1 15-3 5-2 3-2 2-1 2-3 2-5 1-4 2-16 1-13 2-37 3-73 1-17 1-7 1 6 1 18 3 73 2 38 2 23 2 11 2 5 1 2 2 2 2 1 2 0 2 0 1-1 2-3 1-3 5-19 1-2 1 0 2 6 3 12 2 6 1 2 2 2 1 0 2 0 2-2 2-4 2-10 2-22 3-40 1-6 1 3 1 10 4 52 1 2 1-294 1-100 11 0 1 368 1 47 7 1 10 0 79 0 3-1 2-2 2-2 4-8 1-1 1 0 1 0 1 1 4 8 2 3 2 2 3 1 10 0 28-1 9-1 7-2 4-2 3-2 2-2 2-4 2-6 2-15 2-31 1-24 4-130 1-18 1 0 1 18 4 117 1 19 1 10 1 1 1-13 1-41 1-95 1-179 1-16 5 0 1 66 1 163 1 86 1 39 1 18 1 9 1 6 1 3 1 1 1 0 1-2 2-13 4-45 1-6 1 0 1 7 4 51 2 16 2 8 2 4 2 2 3 1 5 1 44 5 11 0 19-2 15-1 3-1 2-2 2-5 4-14 1-2 1 0 1 2 1 3 4 15 2 4 1 1 2 2 2 1 4 1 8 0 25-2 35 2 28-1 32 0 28 0 36 2 36-1 40 2 24-1 17-1 6-1 4-2 2-1 2-4 2-8 1-6 4-33 1-6 1-3 1 1 1 6 4 33 2 11 1 4 2 4 2 2 2 1 8 2 11 1 9-1 24-1 25 0 5-1 4-1 14-7 3-1 3 0 3 0 3 1 13 5 7 2 8 1 7 0 4-2 3-2 2-4 2-9 2-19 5-81 1-6 1 5 1 11 3 45 1 8 1 2 1-5 1-12 3-49 1-6 1 4 1 6 1-5 1-43 2-258 5 0 2 312 1 50 1 21 1 9 2 11 2 6 3 5 4 4 5 2 6 1 11 1 22-1 20 1 4 0 2-2 1-1 2-5 2-8 4-22 1-3 1 0 1 3 4 23 2 8 2 5 2 2 2 1 3 0 22 1 28 2 10 1 10-1l0 2-132-2-332-1-254-2-178-2-329-3-88-2-96-7-20-3-48-12-28-5-12-3-12-3-32-12-16-5-32-7-32-11-20-4-21-6-10-2-43-1-77 3-15 2-37 6-56 4z"/><path id="b7" d="M2372 660l8 0 12-2 18-5 15-3 9-3 3-2 3-2 4-5 2-3 2-5 2-9 2-15 1-12 2-41 1-31 2-85 3-163 1-42 1-23 1 4 1 30 4 208 2 80 1 28 2 36 2 19 2 9 2 6 3 5 3 3 4 3 4 1 6 1 7 1 23 2 11 0 20-1 24 0 2 0 2-2 4-8 1-1 1 1 4 8 1 1 2 2 25 7 16 3 8 2 24 10 8 2 8 2 16 3 12 3 12 3 28 11 16 5 12 3 20 3 16 3 20 5 28 8 12 2 12 0 24 0 8 1 12 1 20 4 12 1 8 0 20-2 12 0 12 0 22 3 12 0 14-1 15-2 9-2 3-1 3-2 2-3 1-3 2-9 2-18 1-14 5-112 1-14 1-2 1 11 4 93 2 35 2 20 2 9 2 5 3 3 3 1 2 0 1-1 2-3 1-2 5-20 1-2 1 0 1 2 4 16 2 6 1 2 2 2 2 1 2-1 2-2 1-3 2-10 2-21 3-41 1-5 1 2 1 10 4 53 1 1 1-294 1-108 11 0 1 376 1 48 11 0 30 0 40 2 13 0 4-1 3-3 2-3 4-8 1-1 1 0 1 0 1 1 4 8 2 3 2 1 3 1 12 1 20-1 13-1 9-2 4-2 3-2 2-2 2-3 2-6 2-14 2-28 1-22 4-129 1-23 1-5 1 13 4 117 1 20 1 12 1 2 1-12 1-41 1-94 1-179 1-23 5 0 1 73 1 163 1 86 1 40 1 17 1 10 2 8 1 2 1 0 1-1 2-11 4-44 1-9 1-3 1 4 1 10 3 40 2 18 1 6 2 7 2 3 2 2 5 2 8 2 10 2 9 1 13 0 28-1 21 0 4 0 3-1 2-3 2-5 4-14 1-2 1 0 1 1 4 15 2 5 1 2 2 2 2 1 2 0 6 0 17-1 10 0 32 2 40 0 36 2 36-1 40 1 40-2 39 2 10 0 8 0 5-1 3-1 2-2 2-3 2-8 1-5 4-33 1-7 1-4 1 1 1 5 4 32 2 12 1 4 2 5 1 1 2 1 3 1 4 1 13 0 33 1 15-1 7-1 6-2 5-2 12-6 3-1 3-1 3 0 3 1 13 7 7 2 8 2 4 0 4-1 4-1 3-2 2-4 2-7 2-17 1-14 3-53 1-15 1-9 1 1 1 9 3 45 1 9 1 4 1-4 1-11 3-49 1-6 1 3 1 6 1-5 1-43 2-265 5 0 1 198 1 122 1 50 1 20 1 10 2 11 2 6 3 5 4 3 6 3 8 2 8 1 12 0 27-1 8-1 3-2 2-3 1-3 2-8 3-18 1-5 1-2 1 0 1 4 4 22 2 9 2 4 1 2 2 1 3 1 6 1 32 0 31 3l0 1-132-2-332-1-254-2-178-2-329-3-88-1-96-8-20-3-48-12-28-5-12-2-12-4-32-12-16-5-32-7-32-11-20-4-21-6-10-2-43-1-77 3-15 2-37 6-56 5z"/><path id="b8" d="M2372 668l8-1 8-1 32-5 7-2 6-2 6-4 3-3 2-3 3-6 2-6 1-4 2-14 1-11 2-36 1-28 2-80 4-210 1-31 1-6 1 21 1 42 3 162 2 85 1 31 2 41 2 21 2 11 2 7 3 5 4 5 5 3 6 2 11 3 13 0 12 0 27-2 24 0 2-1 2-1 4-8 1-1 1 1 4 8 1 1 2 2 29 7 16 3 8 3 20 8 8 2 8 2 16 3 8 2 12 4 20 9 12 5 8 3 12 2 28 4 36 8 36 7 24 3 40 3 28 3 12 0 32 1 38 1 15 0 15-2 11-3 3-1 3-2 2-2 2-3 2-7 2-14 2-28 4-93 1-19 1-10 1 3 1 14 5 113 2 24 2 13 2 6 2 2 2 2 2 1 2 0 1-1 2-2 1-2 5-19 1-3 1-1 1 2 1 3 4 17 2 4 1 2 2 1 2 0 1 0 2-2 1-3 2-11 2-21 3-40 1-6 1 3 1 9 4 53 1 1 1-294 1-116 11 0 1 384 1 48 13 1 36-1 36 2 10-1 3 0 3-3 2-3 4-7 1-2 1 0 1 0 1 1 4 8 2 3 2 1 3 1 8 0 30 0 10-1 7-2 3-2 3-2 2-2 2-3 2-6 2-11 2-26 1-20 4-129 1-26 1-10 1 8 1 24 2 64 2 49 1 14 1 3 1-11 1-39 1-95 1-178 1-31 5 0 1 82 1 164 1 85 1 40 1 18 1 10 2 9 1 2 1 1 1-1 1-3 2-13 4-46 1-6 1 1 1 8 4 51 2 16 2 8 2 3 2 2 5 2 7 0 26 1 27 2 19 0 10-1 5 0 3-1 2-3 1-1 2-6 4-14 1-2 1 0 1 2 4 15 1 3 2 4 1 1 2 1 3 1 4 1 15 0 36 0 44 3 36 0 32 0 40-1 40 1 37-2 27 0 7 0 4-1 2-2 2-3 1-2 2-10 1-7 4-32 1-5 1 0 1 4 4 33 2 12 1 4 2 5 2 2 2 1 4 1 6 1 24 2 14 0 13-1 8-1 7-2 6-2 13-6 3-1 3 0 5 1 13 6 6 2 8 1 8-1 5-1 4-3 2-3 2-7 2-15 1-12 4-69 1-11 1-3 1 7 3 43 1 11 1 4 1-2 1-9 3-48 1-7 1 2 1 6 1-5 1-43 2-271 5 0 1 206 1 122 1 50 1 21 1 9 2 11 2 6 3 5 3 2 4 2 5 2 10 1 19 1 23 1 7 1 4-1 2-1 1-1 2-3 1-3 2-9 3-17 1-5 1-3 1 1 1 3 4 23 2 8 2 4 2 2 3 1 6 1 43 2 19 0l0 2-132-2-332 0-254-3-178-2-329-3-88-1-96-8-20-3-48-12-28-4-12-3-12-4-32-12-16-5-32-7-32-11-20-4-21-6-10-2-43 0-77 2-15 2-37 6-56 5z"/><path id="b9" d="M2372 676l12-1 22-4 17-2 5-2 5-1 6-4 3-3 2-2 3-5 3-10 2-12 1-10 2-33 1-25 2-73 4-211 1-39 1-15 1 11 1 35 5 251 2 60 2 33 2 17 2 9 2 5 3 5 3 3 4 3 5 2 6 1 7 1 20 1 12 0 44 0 2-1 2-1 4-9 1-1 1 1 4 9 2 2 2 1 28 8 16 2 8 2 32 11 16 3 12 3 16 6 28 11 16 5 12 3 16 1 12 2 12 3 28 8 16 4 12 1 20 1 40 5 16 0 32 0 41 3 18-1 41-2 7-2 3-2 2-2 2-4 1-3 2-12 2-22 1-18 4-93 1-17 1-6 1 8 1 18 3 72 2 38 2 21 2 11 2 5 1 2 2 1 3 1 2 0 1-1 2-4 1-3 4-16 1-3 1-1 1 1 1 3 4 17 2 5 1 1 2 2 2 0 1 0 2-2 1-3 2-10 2-21 3-41 1-5 1 2 1 10 4 53 1 2 1-295 1-124 11 0 1 393 1 48 9 1 12 0 36-1 30 0 8 0 3-1 3-2 2-3 4-7 1-2 1 0 1 0 1 1 4 8 2 3 2 2 3 1 12 0 24 0 11-2 8-2 4-2 3-2 2-2 2-4 2-8 2-15 2-33 1-25 4-130 1-15 1 3 1 20 4 114 1 15 1 6 1-10 1-39 1-94 1-178 1-38 5 0 3 338 1 40 1 18 1 9 2 10 1 2 1 1 1 0 1-2 2-12 4-45 1-8 1-3 1 5 1 10 3 40 2 18 2 9 2 5 2 2 5 2 9 1 45 4 12 1 11 0 10-1 8 0 2-1 2-1 2-2 1-2 2-6 3-11 1-3 1-2 1 1 1 2 5 17 1 2 2 3 2 2 2 0 10 1 24 2 44-1 40 2 12 0 24-2 12 0 12 0 24 2 12 0 40-1 39 1 11 0 9-1 6-1 4-1 2-2 2-3 2-6 1-5 5-40 1-5 1-1 1 4 1 6 3 26 2 13 1 4 2 6 2 2 2 1 4 1 6 1 17 2 16 0 16-1 8-1 7-1 7-3 12-6 3-1 3 0 3 0 3 1 12 5 7 3 8 0 5 0 4 0 5-2 3-3 2-3 2-9 2-19 4-67 1-14 1-7 1 4 4 52 1 7 1-1 1-9 3-46 1-8 1 2 1 6 1-5 1-43 2-279 5 0 1 215 1 122 1 50 1 21 1 9 2 11 2 6 3 5 3 2 5 3 7 1 15 1 27 1 13 0 7-1 3-2 2-4 1-3 2-9 3-17 1-5 1-2 1 0 1 3 4 23 2 8 2 5 2 2 3 1 5 1 30 3 17 1 14 0l0 2-132-2-332-1-254-2-178-3-329-3-88-1-96-8-20-3-48-12-28-4-12-3-12-4-32-12-16-5-32-7-32-11-20-4-21-6-10-1-43-1-77 3-15 1-37 6-56 5z"/><path id="b10" d="M2372 684l16-1 20-3 14-3 5-1 5-2 4-2 3-3 5-5 2-3 2-5 2-6 1-5 2-15 1-12 2-40 1-29 2-84 3-163 1-44 1-25 1 2 1 27 5 252 2 65 2 38 2 19 2 10 2 6 3 6 3 3 4 3 5 2 6 1 8 1 35 0 16 1 17 1 7 0 2 0 2-2 4-8 1-1 1 1 4 8 2 2 2 1 28 7 16 3 8 2 28 10 8 2 16 3 12 3 12 4 32 12 12 4 12 2 20 2 12 2 16 4 28 8 12 3 8 1 32 2 44 5 16 1 40 0 47 2 12 0 11-2 6-1 4-1 4-2 3-2 2-3 2-4 2-9 2-19 1-15 5-112 1-13 1-1 1 11 1 21 4 91 2 27 2 13 2 7 2 3 2 2 2 0 2 0 1-1 2-3 1-2 4-16 1-3 1-2 1 1 1 2 4 17 2 6 1 1 2 2 2 1 1-1 2-2 1-2 2-11 2-21 3-41 1-6 1 3 1 10 4 52 1 2 1-294 1-132 11 0 1 399 1 48 61 3 16 0 17-1 4-1 3-2 2-3 4-8 1-1 1-1 1 1 1 1 4 8 2 2 2 2 3 1 16 2 20 0 11-1 8-2 4-2 3-2 2-3 2-3 2-7 2-14 2-30 1-23 4-131 1-20 1-2 1 17 3 89 2 42 1 6 1-9 1-38 1-93 1-177 1-47 5 0 1 99 1 163 1 86 1 39 1 18 1 10 2 9 1 3 1 1 1 0 1-1 1-4 1-5 1-9 4-46 1-5 1 2 1 8 3 39 2 20 2 11 2 5 2 3 3 1 4 1 12 2 38 1 35 1 7 0 4 0 3-1 2-3 1-2 2-5 3-11 1-3 1-2 1 1 1 2 4 14 2 5 1 2 2 2 2 0 3 1 32 0 42 2 44 0 44 2 52-2 16 1 28 1 16 0 21-1 19-1 5-1 3-1 2-2 2-4 2-9 1-6 4-33 1-5 1-2 1 3 1 6 4 33 2 11 2 5 2 3 2 1 7 1 11 1 31-1 15-1 6 0 5-2 5-1 11-5 3-1 3 0 5 1 12 5 7 2 8 1 9-1 5-2 2-1 2-2 2-3 2-8 2-16 1-13 4-69 1-10 1 0 1 8 3 42 1 7 1 1 1-7 3-45 1-8 1 1 1 5 1-5 1-42 2-285 5 0 1 222 1 122 1 50 1 21 1 10 2 10 2 6 3 5 4 4 5 2 7 2 10 1 17 0 27 1 6-1 3 0 2-1 1-1 2-4 1-2 2-9 3-18 1-4 1-3 1 1 1 4 4 22 2 8 2 5 2 2 4 1 8 1 36 0 19 1l0 3-132-2-332-1-254-2-178-3-329-2-88-2-96-8-20-3-48-12-28-4-12-3-12-4-32-11-16-6-32-7-32-11-20-4-21-6-10-1-43-1-77 3-15 1-37 6-56 5z"/><path id="b11" d="M2372 691l31-2 9-1 10-2 8-3 4-2 4-3 3-3 3-3 2-3 2-5 3-10 2-13 1-10 2-34 1-26 2-74 4-201 1-32 1-10 1 15 1 35 5 224 2 51 2 31 3 25 2 10 3 10 3 8 3 4 4 4 4 2 8 1 35 3 8 0 24-1 12 0 2 0 2-2 4-8 1-1 1 1 4 9 2 2 3 2 11 3 12 4 8 1 8 0 8 2 8 3 20 8 8 3 20 2 8 2 12 5 24 10 8 3 8 2 16 4 20 3 36 7 32 8 8 1 4 1 32 2 32 3 24 2 52 1 38 1 13 0 14-1 8-2 3-1 3-2 2-1 2-4 2-6 2-14 2-26 4-87 1-17 1-8 1 3 1 14 3 67 2 35 2 22 2 10 1 2 1 2 2 0 3 0 3-2 2-2 1-2 4-13 1-2 1-2 1 1 1 2 4 16 2 6 1 2 2 2 2 0 1 0 1 0 1-1 1-3 2-10 2-21 3-40 1-5 1 2 1 10 4 53 1 2 1-294 1-141 11 0 1 409 1 48 9 0 24 0 32 1 12 0 16-2 4-1 3-2 3-3 4-8 1-1 1-1 1 1 1 1 4 8 2 3 3 3 4 1 10 0 12 0 25-3 5-1 4-1 3-2 3-3 2-3 1-2 2-8 2-17 2-36 1-26 3-96 1-23 1-8 1 10 3 77 2 38 1 6 1-9 1-38 1-93 1-176 1-43 5 0 2 265 1 87 1 40 1 19 2 16 1 4 2 5 1 0 1 0 1-3 1-4 2-16 3-33 1-8 1-1 1 5 1 9 4 45 1 7 2 8 2 3 6 3 7 5 4 2 5 1 7 0 26 0 24 2 9 1 10 0 8-2 3-1 2-2 1-2 2-6 3-10 1-3 1-1 1 0 1 2 4 13 1 3 2 3 1 1 2 0 5 1 9 3 5 0 10 1 31-2 32 2 60 1 76 0 40 1 46 0 7-1 4-1 3-2 2-3 1-4 2-10 4-30 1-6 1-2 1 2 1 5 3 23 2 12 2 7 1 2 2 2 2 0 5 0 3 0 11 3 10 1 14 1 12 0 7-1 7-2 7-2 12-6 3-1 3 0 3 0 3 1 12 6 6 2 4 1 4 0 8-1 6-2 4-2 2-2 2-4 2-10 2-19 5-76 1-4 1 5 3 35 1 7 1 1 1-7 3-43 1-9 1-1 1 3 1-6 1-43 2-283 5 0 1 227 1 123 1 51 1 21 1 10 2 11 2 6 3 5 3 3 4 1 5 2 36 4 8 1 12 0 11-2 4-1 2-3 1-2 2-6 5-25 1-3 1 1 1 3 4 21 2 7 2 4 2 2 7 1 10 3 6 1 7 0 21-1 14 1l0 3-132-2-332-1-254-2-178-3-329-2-88-2-96-8-20-3-48-11-28-5-12-3-12-3-32-12-16-5-32-8-32-11-20-4-21-5-10-2-43-1-77 3-15 1-37 6-56 5z"/><path id="b12" d="M2372 698l28-1 11-1 10-1 8-3 4-2 4-3 3-3 3-3 3-5 2-4 3-10 2-11 1-9 2-29 1-21 2-62 4-180 1-36 1-20 1 0 1 18 4 138 2 56 2 39 3 41 4 38 2 14 3 17 2 7 3 8 2 4 2 2 4 4 4 2 5 1 5 1 6 1 10 0 31-1 24 1 2 0 2-2 4-8 1-1 1 1 4 9 2 2 3 1 23 6 8 2 12 1 8 2 32 12 24 6 12 3 16 5 28 10 12 4 12 3 16 2 12 2 40 10 16 3 8 1 32 2 40 4 20 2 36 0 45 1 15 0 12-1 12-2 4-1 3-1 2-2 2-2 2-4 1-4 2-13 1-11 2-30 3-55 1-13 1-3 1 6 1 14 4 67 1 12 2 13 1 3 1 1 1 0 2-2 5-8 2-1 3-2 4-4 1 1 1 1 1 3 4 15 2 6 1 2 2 2 2 2 2 0 1-1 1-2 2-10 2-20 3-39 1-6 1 3 1 10 4 53 1 1 1-294 1-148 11 0 1 416 1 48 13 0 44 2 24 0 14-1 3-1 3-2 2-3 4-8 1-1 1 0 1 0 1 1 4 8 2 3 2 2 3 1 5 0 11 0 20 0 12-1 8-3 4-2 3-2 2-2 2-4 2-7 2-14 2-29 5-129 1-12 1 1 1 13 2 38 2 26 1 3 1-11 1-39 1-93 1-176 1-22 5 0 1 97 1 166 1 88 1 42 1 20 1 11 2 12 1 4 2 4 1 0 1-1 1-2 1-5 5-41 1-4 1 2 1 6 4 35 1 5 1 4 1 2 1 1 4 0 2 1 2 2 6 10 4 4 4 2 7 2 16 1 32 0 27 0 6 0 3-2 2-2 2-5 3-9 1-2 1-1 1 0 1 1 4 9 2 2 2 1 5 1 10 6 3 1 4 1 30 0 32 2 12 0 36-1 12 0 12 0 24 2 12 0 12 0 32-2 12 1 36 1 13 0 14-1 9-1 6-1 3-1 2-2 2-4 1-4 2-10 3-20 1-5 1-2 1 1 1 3 4 24 1 4 2 5 1 1 1 1 1 0 5-2 2 0 3 2 7 7 3 2 3 1 6 1 10 1 12-1 11-1 10-3 5-2 11-5 3-1 3 0 3 0 3 1 14 6 7 3 8 0 5 0 4-1 5-1 3-3 2-3 2-7 2-14 5-67 1-7 1 0 3 21 1 4 1-1 1-7 4-55 1-3 1 0 1-9 1-45 2-271 5 0 1 227 1 124 1 52 1 22 1 11 2 13 2 6 3 6 4 4 5 3 8 2 13 1 15 1 25 0 12-1 2-1 2-1 2-3 1-2 2-7 3-13 1-4 1-2 1 0 1 3 3 12 2 6 1 2 2 2 1 0 5-1 2 0 2 1 6 5 3 2 3 2 4 1 14 1 25 1l0 2-132-2-332-1-254-2-178-2-329-3-88-2-96-7-20-4-48-11-28-5-12-3-12-3-32-12-16-5-32-7-32-11-20-4-21-6-10-2-43-1-77 3-15 2-37 6-56 4z"/><path id="b13" d="M2372 708l20-3 27-4 6-1 5-2 7-5 3-2 3-4 3-4 2-4 3-10 2-10 2-18 2-30 1-22 2-59 4-155 1-27 1-14 1 1 1 12 5 100 4 70 4 62 4 48 3 24 2 11 2 8 2 5 3 5 3 4 3 2 4 2 5 1 14 3 15 2 8 0 8 0 26-2 4-1 2-1 4-9 1 0 1 0 4 9 3 2 25 8 8 2 8 1 8 3 28 11 8 2 16 2 8 2 12 4 24 9 12 4 24 6 24 4 16 3 12 3 24 8 12 3 12 2 16-1 12 1 28 2 52 4 12 0 27 0 27 2 11 0 15-1 14-3 4-1 3-1 2-2 2-2 2-6 2-11 2-19 4-52 1-7 1-1 1 6 4 46 1 8 1 5 1 3 1 1 1-1 1-2 6-21 1-2 1-2 1 0 2 2 6 10 2 6 4 15 2 5 3 5 2 2 2 1 1 0 1-1 1-3 1-6 2-19 3-38 1-6 1 4 1 10 4 53 1 2 1-294 1-156 11 0 1 425 1 48 9 0 28 0 28 1 31-1 3-1 2-2 2-2 4-8 1-1 1-1 1 1 1 1 4 8 2 3 3 2 3 1 11 0 33-3 8-1 5-2 5-3 2-2 2-3 2-6 2-11 2-21 1-16 4-89 1-16 1-6 1 2 3 23 1 3 1-3 1-15 1-41 1-93 1-171 6 0 1 90 1 169 1 90 1 44 1 21 2 21 2 10 1 4 2 3 1 1 1-1 1-2 2-9 3-20 1-4 1-1 1 2 3 16 2 8 1 1 1 1 1-1 3-3 1-1 1 0 1 1 2 4 7 19 2 3 3 4 3 2 5 1 30 4 10 0 10 0 30-2 5-1 2-1 2-2 2-4 4-10 1-1 1-1 1 1 4 3 5 0 2 1 2 2 7 9 3 2 3 2 7 1 29 3 12 0 32-1 28 1 32-1 32 1 24 0 12 0 24 2 8 1 8-1 24-2 28-1 6 0 4-1 2-1 2-2 2-5 1-3 5-23 1-3 1 0 1 2 4 13 2 3 1 1 1-1 5-4 2 1 1 0 2 3 6 11 3 4 4 4 4 1 6 1 9 0 13 0 10-1 10-3 15-6 5-1 5 1 13 5 7 2 9 1 5-1 5-1 5-1 3-3 2-3 2-7 2-14 5-52 1-5 1 0 2 4 1 0 1-4 2-22 3-44 2-11 1-13 1-47 2-253 5 0 1 224 1 126 1 54 1 23 1 12 2 14 2 8 3 6 2 2 3 3 3 2 4 2 10 2 8 2 12 1 39-1 4 0 2-1 2-2 1-1 3-7 4-13 1-2 1 0 1 1 3 6 2 2 1 0 1 0 3-2 2-1 2 1 2 2 8 11 3 3 3 2 6 1 13 2 12 1 10 0l0 2-132-2-332-1-254-2-178-2-329-3-88-2-96-7-20-3-48-12-28-5-12-2-12-4-32-12-16-5-32-7-32-11-20-4-21-6-10-2-43-1-77 3-15 2-37 6-56 4z"/><path id="b14" d="M2372 716l12 0 16-3 20-5 8-3 8-5 6-5 3-4 2-4 3-7 2-9 2-12 2-21 1-14 3-66 5-156 1-20 1-12 1-4 1 0 1 4 1 6 2 18 1 13 9 172 2 30 3 34 3 22 3 12 2 5 2 4 3 4 4 3 7 2 10 2 47 4 14 1 4-1 2-1 4-9 1-1 1 1 4 8 1 1 2 2 12 2 17 5 16 4 28 10 8 3 8 2 16 2 12 2 12 5 28 12 12 4 12 2 20 2 12 2 12 3 24 8 8 2 8 2 16 1 12 0 12 1 12 1 24 4 16 2 12 0 32 0 32 2 13 0 18 0 29-3 5-1 4-2 2 0 2-2 2-3 1-3 2-9 5-38 1-5 1-1 1 2 3 17 2 7 1 1 1 0 1-3 2-8 6-35 1-3 1-2 1 0 1 2 1 3 9 38 3 11 2 4 3 5 3 4 1 0 1 0 1-1 1-2 1-5 2-19 3-38 1-5 1 3 1 11 4 53 1 2 1-294 1-162 11 0 1 430 1 48 17 2 20 1 12 0 47-1 3-1 2-1 2-3 4-8 1-1 1 0 1 0 1 2 4 8 2 3 3 2 4 1 14 1 16-2 15-2 10-3 5-2 4-4 2-4 1-3 2-8 2-16 1-12 4-68 2-26 1-6 3-9 1-6 1-10 1-20 1-44 2-238 6 0 1 85 1 171 1 93 1 45 1 23 2 23 1 7 2 9 1 3 2 4 1 0 1-1 1-2 2-6 2-8 1-3 1-2 1 0 3 6 1 0 1 0 2-3 4-10 1-2 1 0 1 1 2 6 5 20 3 9 2 5 3 4 3 2 5 2 10 1 14 2 14 1 14 0 22-2 10-1 3-2 2-2 7-13 8-6 2 0 1 0 2 2 7 13 4 6 2 2 3 1 3 1 4 1 13 0 38 0 44 2 48 0 48 2 44-1 39 0 16 0 10-2 3 0 2-2 2-2 1-2 2-5 3-10 1-3 1-1 1 0 3 3 1 0 1 0 2-2 5-9 1-1 1-1 1 1 2 2 7 18 4 7 2 3 2 1 5 2 7 1 11 1 9-1 8 0 9-3 16-7 3-1 3-1 3 0 3 1 13 6 8 3 9 1 5-1 4 0 5-2 3-3 2-3 2-7 2-12 4-33 1-6 3-10 1-6 2-21 3-47 1-13 2-18 1-16 1-50 2-237 5 0 1 223 1 128 1 56 1 25 1 13 2 15 1 5 2 6 3 5 4 4 5 3 8 2 12 2 18 1 19 1 16-1 4-1 3-2 3-4 4-9 2-3 1-1 3 1 2-1 5-7 2-2 1 0 1 1 2 3 6 14 3 5 3 4 3 2 5 1 7 1 10 0 18 0l0 3-132-2-332-1-254-2-178-2-329-3-88-1-96-8-20-3-48-12-28-5-12-2-12-4-32-12-16-5-32-7-32-11-20-4-21-6-10-2-43-1-77 3-15 2-37 6-56 5z"/><path id="b15" d="M2372 724l41-5 8-2 7-2 4-3 4-2 6-6 3-5 2-4 3-8 3-14 2-16 3-37 3-63 6-156 3-44 1-8 1-2 1 3 2 22 9 204 2 34 3 37 3 23 2 9 2 7 2 5 3 5 3 3 3 2 3 1 4 2 9 2 34 1 20 2 7 0 3 0 2-2 4-8 1-1 1 1 4 8 1 1 2 1 13 3 32 8 8 3 16 6 12 4 8 2 12 1 12 3 12 5 24 11 8 3 8 2 12 3 20 2 8 2 32 9 16 3 16 3 52 5 36 2 36 2 16 1 33-1 30 1 11 0 8-1 7-1 6-2 3-1 2-3 2-4 6-21 1-1 1-1 2 2 1 0 1-1 1-1 2-8 2-11 6-48 2-10 1-2 1 0 1 3 1 4 6 40 4 20 2 6 2 4 6 10 2 2 1-1 1-2 1-4 2-18 3-37 1-5 1 3 1 11 4 54 1 2 1-294 1-172 11 0 1 440 1 47 57 4 16-1 21-1 4-1 3-2 2-3 4-8 1-1 1 0 1 0 1 1 4 8 2 3 3 2 3 1 11 1 16-1 16-2 7-1 5-2 5-3 3-2 3-4 2-4 2-7 1-5 3-25 10-132 2-40 1-46 2-216 6 0 1 79 1 173 1 94 1 48 1 24 2 25 1 8 2 10 2 6 2 3 1 1 1 0 1-1 5-8 3-3 1-2 2-5 5-21 1-3 1-1 1-1 1 2 2 6 7 34 2 7 3 7 3 4 4 2 7 2 11 1 13 1 14 0 34 0 5-1 3 0 3-2 3-3 12-22 2-2 1 0 1 0 2 2 7 16 4 7 2 2 3 2 6 1 60 2 44 1 44 1 56 0 62 0 18-1 13 0 8-2 3-1 2-2 5-9 4-4 2-3 2-4 5-15 2-4 1 0 1 0 2 3 7 22 3 8 2 3 2 3 2 1 3 2 6 1 9 0 12 0 9-1 9-2 16-7 3-1 3 0 5 1 13 5 8 3 9 0 5 0 5-1 6-2 3-3 2-3 2-6 3-15 4-26 3-27 6-90 2-24 1-20 1-52 2-223 5 0 1 223 1 130 1 57 1 26 1 14 2 17 1 5 2 7 3 6 4 4 5 3 7 2 13 1 38 2 12 0 7 0 4-2 3-3 9-13 7-17 2-2 1 0 1 1 2 3 8 22 3 5 3 3 4 2 7 1 16 2 14 0l0 2-132-2-332 0-254-3-178-2-329-3-88-1-96-8-20-3-48-12-28-4-12-3-12-4-32-12-16-5-32-7-32-11-20-4-21-6-10-2-43 0-77 2-15 2-37 6-56 5z"/><path id="b16" d="M2372 732l16-1 14-3 18-5 9-4 4-2 4-3 3-3 3-4 3-4 2-5 3-10 2-10 2-14 2-21 2-28 3-60 7-183 2-35 1-9 1-2 1 6 2 31 8 204 2 39 3 41 3 26 2 11 2 7 2 5 3 5 3 4 4 3 4 2 5 2 6 2 6 1 12 0 43 2 3-1 2-1 4-9 1-1 1 1 4 9 1 1 2 1 29 8 12 3 8 2 24 10 8 3 8 2 24 3 12 3 16 6 32 12 12 3 28 6 40 9 16 3 12 1 20 1 16 1 12 1 32 5 16 2 16 0 28-2 14-1 13 1 30 1 14-1 11-1 4-1 3-1 3-3 3-3 3-5 2-4 3-11 2-12 3-24 5-47 2-12 1-2 1 0 1 3 1 6 6 47 3 17 3 10 9 15 1 1 1-1 1-1 1-5 2-17 3-37 1-5 1 4 1 11 4 53 1 2 1-294 1-178 11 0 1 447 1 47 33 2 36 3 12 0 12 0 4-1 3-2 3-4 4-8 1-1 1 0 1 0 1 1 4 8 2 2 2 2 3 1 9 0 31-2 10-1 8-2 5-3 3-3 3-5 2-6 2-10 2-14 3-32 5-81 3-57 1-27 1-48 2-206 6 0 1 79 1 174 1 96 1 48 1 25 1 16 2 18 1 7 2 9 2 5 1 2 2 2 2 1 2-1 2-3 2-4 3-11 6-30 1-3 1-2 1-1 1 2 2 7 7 39 2 8 2 5 3 5 3 2 4 2 6 1 10 1 30 0 29 1 7 0 4-1 2 0 2-2 3-3 4-8 6-16 2-3 1 0 1 0 2 3 7 18 4 7 2 2 3 2 3 1 3 1 60 1 52 0 36 2 16 1 52-2 55 1 31-1 5-1 4-2 3-2 3-5 2-4 2-5 7-25 2-4 1-1 1 1 2 3 7 26 3 8 2 4 2 3 2 1 3 2 5 1 9 0 13-1 8-1 10-2 15-7 3-1 3-1 3 1 3 0 14 7 7 3 4 0 5 1 5 0 5-1 5-2 4-3 3-4 2-5 2-7 2-11 2-16 2-22 9-137 1-22 1-53 2-219 5 0 1 225 1 131 1 59 1 26 1 15 2 17 1 5 2 7 3 6 4 4 3 2 3 2 7 2 12 1 13 1 38 1 9-1 3-1 2-1 2-2 2-3 4-8 7-21 1-2 1-1 1 0 1 1 2 4 6 19 3 8 3 5 3 3 4 2 7 0 10 0 19-1l0 5-132-2-332-1-254-2-178-3-329-3-88-1-96-8-20-3-48-12-28-4-12-3-12-4-32-12-16-5-32-7-32-11-20-4-21-6-10-1-43-1-77 3-15 1-37 6-56 5z"/><path id="b17" d="M2372 740l44-6 7-2 7-3 7-5 3-3 3-4 3-5 2-4 3-10 2-11 2-14 2-21 2-28 4-82 7-184 1-16 1-10 1-3 1 6 2 31 8 206 2 40 3 42 3 26 2 11 2 7 2 6 3 5 4 5 4 3 4 2 4 1 9 2 8 1 27 0 24 2 2 0 2-2 4-8 1-1 1 1 4 9 2 1 2 1 28 8 12 2 8 2 32 11 8 2 16 4 8 2 12 4 28 10 20 6 12 3 20 4 44 10 28 5 60 5 36 2 40 2 22 0 62-2 10-1 3-1 3-1 3-3 2-2 3-8 3-12 2-12 2-16 6-57 2-12 1-2 1 0 1 3 1 5 6 48 3 18 3 9 9 16 1 1 1 0 1-2 1-5 2-17 3-36 1-5 1 4 1 10 4 55 1 2 2-481 11 0 1 457 1 47 9 1 12 1 56 0 17 0 4-1 3-2 2-3 4-8 1-1 1-1 1 1 1 1 4 8 2 3 3 2 3 0 15 1 16-1 13-2 10-3 6-3 4-3 3-4 2-5 2-7 2-11 2-17 2-22 4-64 4-78 1-27 1-48 2-211 6 0 1 85 1 175 1 96 1 48 1 26 1 15 2 19 1 7 2 9 2 5 1 2 2 3 2 1 2-1 2-2 2-5 3-11 6-32 1-4 1-2 1 0 1 1 2 7 5 29 3 14 2 7 3 6 3 3 5 2 14 3 18 2 12 1 12 0 24-2 4 0 3-1 2-1 2-2 3-4 3-7 6-15 2-3 1 0 1 0 2 3 7 18 4 8 2 3 3 2 3 1 4 1 8 0 27 0 36 2 36-1 36 2 12-1 20-1 12-1 12 1 20 2 8 0 12 0 19-2 10-1 10 0 20 1 7 0 3-1 3-1 3-3 2-3 2-4 2-6 7-27 2-4 1-1 1 0 2 4 7 25 3 8 2 4 2 3 2 1 3 2 7 1 16 2 8 0 6 0 5-1 4-1 16-8 3-1 3 0 5 1 13 5 8 3 5 0 5 0 5 0 4-1 5-2 4-3 3-5 2-5 2-9 2-13 3-32 9-139 1-22 1-54 2-224 5 0 1 232 1 132 1 58 1 27 1 14 2 18 1 5 2 7 3 7 2 2 3 3 3 2 4 2 9 2 8 1 8 0 27-1 21 0 5 0 4-2 2-2 2-2 2-4 2-5 7-22 2-3 1 0 1 1 2 4 6 19 2 6 3 5 3 4 3 1 4 1 20 1 14 1l0 4-132-2-332-1-254-2-178-3-329-2-88-2-96-8-20-3-48-12-28-4-12-3-12-4-32-11-16-6-32-7-32-11-20-4-21-6-10-1-43-1-77 3-15 1-37 6-56 5z"/><path id="b18" d="M2372 749l16-2 26-6 9-2 7-3 4-3 4-3 3-3 3-4 4-8 3-10 2-10 2-15 2-20 2-28 4-82 7-184 1-16 1-10 1-2 1 5 2 31 8 206 2 39 3 42 3 26 2 11 2 8 2 5 3 5 3 4 4 3 4 2 4 2 10 2 9 1 26 2 24 2 2 0 2-2 4-8 1 0 1 1 4 8 2 2 2 1 24 6 8 2 8 1 8 1 8 3 24 9 8 2 16 2 12 3 12 5 28 11 12 4 12 2 20 3 8 1 12 3 28 9 16 3 16 2 12 0 12 1 44 5 28 2 44 1 39-2 34 0 11-2 5-1 3-2 3-2 2-3 3-7 3-13 2-12 2-16 6-57 2-12 1-2 1 0 1 3 1 6 6 48 3 17 3 10 9 15 1 1 1 0 1-2 1-4 2-17 3-37 1-4 1 3 1 11 4 54 1 2 2-488 11 0 1 465 1 47 12 2 17 1 44 0 12 0 9-1 4-1 3-2 2-3 4-8 1-2 1 0 1 0 1 2 4 7 2 3 2 1 3 1 20 1 17-1 11-1 5-1 4-2 5-3 4-4 3-5 2-6 2-9 2-13 3-32 4-64 4-79 1-27 1-48 2-218 6 0 1 92 1 175 1 96 1 48 1 26 1 15 2 19 1 7 2 8 2 6 3 5 2 1 2-1 2-2 2-4 3-12 6-31 1-3 1-2 1 0 1 1 1 3 8 44 2 8 2 6 3 5 3 2 4 2 7 1 18 1 35 1 17-1 5 0 4-1 4-3 2-2 2-3 3-6 6-16 2-4 1 0 1 0 2 3 8 21 2 4 2 3 2 2 3 2 3 1 5 0 10 1 11 0 40 0 36 2 12 0 48-1 32 1 36 0 38 1 12 0 13-1 11-1 6-2 4-2 3-2 3-6 2-5 8-29 2-4 1-1 1 1 2 3 7 26 3 9 2 4 2 3 2 2 3 1 5 2 9 0 9 0 11-1 10-3 5-2 12-5 3-1 3-1 5 1 14 7 7 2 5 1 5 0 5 0 5-1 5-2 4-3 3-5 2-5 2-9 2-13 3-31 9-139 1-22 1-53 2-234 5 0 1 242 1 131 1 59 1 26 1 15 2 17 1 6 2 7 3 6 4 5 5 2 7 2 5 1 8 0 26 0 26 1 8-1 3-1 2-1 2-2 2-3 2-4 2-5 7-22 2-3 1 0 1 1 2 4 8 25 3 5 3 4 3 2 5 1 33 2l0 4-132-2-332-1-254-2-178-2-329-3-88-2-96-7-20-4-48-11-28-5-12-3-12-3-32-12-16-5-32-8-32-11-20-4-21-5-10-2-43-1-77 3-15 1-37 6-56 5z"/><path id="b19" d="M2372 755l48-7 6-2 5-2 4-2 3-3 3-3 3-4 4-8 3-9 2-11 2-14 2-21 2-28 4-82 7-184 1-16 1-10 1-3 1 6 2 30 8 207 2 39 3 42 3 26 2 11 2 8 2 5 3 6 4 4 4 3 7 3 9 2 8 1 24 0 22 3 6 0 2 0 2-2 4-8 1-1 1 1 4 8 2 2 2 1 28 7 12 2 8 2 32 11 8 2 12 3 12 4 64 22 12 2 24 3 16 2 12 3 20 7 12 3 8 1 28 1 32 4 16 1 103 2 17-1 17-1 8-2 6-2 4-2 3-2 2-2 2-3 3-9 3-14 3-23 6-56 2-11 1-3 1 1 1 3 1 6 6 48 3 18 3 10 9 15 1 1 1 0 1-2 1-4 2-17 3-37 1-5 1 4 1 10 4 54 1 2 2-497 11 0 1 472 1 48 21 2 16 1 12 0 24-2 23 0 3-1 2-2 2-3 4-7 1-2 1 0 1 1 1 1 4 8 2 3 3 2 3 1 15 0 22-1 11-2 8-2 5-3 4-4 3-5 2-6 2-9 2-13 3-32 4-64 4-78 1-27 1-48 2-228 6 0 1 102 1 174 1 96 1 48 1 26 1 15 2 20 1 6 2 9 2 5 3 5 2 1 2-1 2-2 2-4 3-12 6-31 1-4 1-2 1 0 1 1 2 7 5 29 3 15 2 6 3 6 3 3 5 2 9 2 18 3 13 1 13-1 27-2 4-1 3-1 2-1 2-2 3-4 3-6 6-15 2-3 1-1 1 0 2 3 7 19 4 8 2 2 3 3 3 1 3 0 7 1 25 0 32 2 40-1 48 0 12 0 32 2 40-1 36 1 9 0 11-1 10-1 6-2 4-1 3-3 3-5 2-5 8-29 2-4 1 0 1 0 2 4 7 26 3 9 2 4 2 2 2 2 3 2 5 0 8 1 14-1 9-2 10-2 16-7 5-1 5 1 13 6 8 2 5 1 6 0 5-1 5 0 5-2 3-3 3-4 2-6 2-9 2-13 2-19 2-25 5-83 3-43 1-22 1-53 2-242 5 0 1 249 1 132 1 58 1 27 1 14 2 17 1 6 2 7 3 6 2 3 3 2 3 2 4 2 9 2 12 1 10 0 27-1 15 0 5-1 4-1 2-2 2-3 2-4 2-5 7-21 1-2 1-1 1 0 1 1 2 4 8 25 3 6 3 4 3 1 5 1 19 1 14 1l0 3-132-2-332-1-254-2-178-2-329-3-88-2-96-7-20-4-48-11-28-5-12-3-12-3-32-12-16-5-32-7-32-11-20-4-21-6-10-2-43-1-77 3-15 2-37 6-56 4z"/><path id="b20" d="M2372 764l42-6 8-2 7-4 4-2 4-3 3-3 3-4 3-5 2-5 3-10 2-10 2-14 2-21 2-28 4-82 7-182 1-17 1-9 1-3 1 6 2 31 8 207 2 39 3 43 3 26 2 11 2 7 2 5 3 6 3 3 3 2 6 3 8 2 24 2 24 3 11 1 5-1 3-1 2-3 3-7 1 0 1 0 4 9 1 1 2 1 11 2 18 6 20 5 12 3 28 9 12 4 20 6 28 8 28 10 8 3 8 1 20 2 12 2 12 3 20 6 12 2 12 2 12 0 12 1 28 5 12 1 36 0 28 2 8 1 10-1 28-2 36 0 12-1 8-3 3-1 2-2 2-3 2-4 3-11 3-17 2-16 6-56 2-12 1-2 1 1 1 3 1 5 6 49 3 17 3 10 9 16 1 1 1-1 1-2 1-4 2-17 3-37 1-4 1 3 1 11 4 53 1 2 2-505 11 0 1 480 1 47 29 3 16 1 12 0 38-2 3-1 3-2 2-3 4-7 1-2 1 0 1 1 1 1 4 8 2 3 3 2 3 1 6 0 9 0 21-1 12-1 5-2 4-1 5-3 3-3 3-5 2-6 2-9 2-14 3-31 4-65 4-78 1-27 1-48 2-236 6 0 2 284 1 96 1 48 1 26 1 15 2 19 1 7 2 9 2 5 3 5 2 1 2-1 2-2 2-5 3-11 6-31 1-4 1-2 1 0 1 1 2 8 6 34 2 9 2 7 2 4 3 4 4 3 6 1 8 1 57 2 11 0 6-1 4-2 2-2 2-4 3-6 6-16 2-3 1-1 1 1 2 2 7 19 4 7 2 3 3 2 3 1 3 0 11 1 41 1 16 1 48-1 72 2 40-1 41 1 10 0 11-1 12-1 6-2 4-1 3-3 3-5 2-5 8-29 2-5 1 0 1 0 2 4 7 25 3 9 2 4 2 3 2 2 3 1 5 1 9 1 14 0 9 0 9-2 5-2 10-5 3-1 3 0 5 0 14 6 8 1 5 1 6 0 5-1 5-1 5-2 3-3 3-6 2-6 2-11 2-16 3-36 5-82 3-43 1-22 1-54 2-250 4 0 1 6 1 251 1 132 1 58 1 26 1 15 2 17 1 5 2 8 3 5 4 4 5 3 8 2 19 3 17 2 20 0 11-1 5 0 3-1 2-2 2-1 2-3 2-4 2-6 5-16 2-5 1-2 1-1 1 0 1 1 2 4 8 25 3 6 3 4 3 2 5 1 33 1l0 3-132-2-332-1-254-2-178-2-329-3-88-2-96-7-20-3-48-12-28-5-12-2-12-4-32-12-16-5-32-7-32-11-20-4-21-6-10-2-43-1-77 3-15 2-37 6-56 5z"/><path id="b21" d="M2372 772l16-2 27-4 8-2 7-3 7-5 3-3 3-4 3-5 2-4 3-10 2-10 2-15 2-20 2-28 4-82 7-183 1-17 1-10 1-2 1 5 2 31 8 207 2 39 3 42 3 26 2 11 2 8 2 5 3 5 3 3 4 4 4 2 4 1 10 2 47 4 10 0 4-1 2-1 4-9 1-1 1 1 4 9 1 1 2 1 12 3 17 5 20 5 32 10 24 6 12 4 32 12 20 6 12 4 8 1 28 4 16 3 32 8 12 3 4 0 32 2 32 5 12 0 12 1 28-1 30 2 13 1 49-1 7-1 6-1 5-1 4-2 3-2 2-2 2-3 2-4 3-11 3-17 2-16 6-57 2-12 1-3 1 1 1 3 1 5 6 48 3 18 3 10 9 15 1 1 1 0 1-2 1-4 2-17 3-36 1-5 1 4 1 10 4 55 1 2 2-513 11 0 1 488 1 48 13 1 32 3 12 0 16 0 20-2 4-1 3-2 3-4 4-7 1-2 1 0 1 0 1 2 4 7 2 3 3 3 3 0 15 1 16-1 16-2 5-1 5-2 5-3 2-1 2-3 3-6 2-7 2-11 2-16 3-37 6-107 2-48 1-48 1-95 1-150 6 0 2 293 1 96 1 48 1 25 1 16 2 19 1 6 2 9 2 5 1 2 2 2 2 1 2-1 2-2 2-5 3-11 6-32 1-4 1-2 1 0 1 2 2 7 7 39 2 8 3 8 3 4 4 3 6 2 10 1 13 1 44 2 9 0 6-1 4-2 2-2 2-4 3-6 6-17 2-3 1 0 1 0 2 2 7 18 4 8 2 2 3 2 3 1 4 1 15 1 16 0 36 0 40 2 40 0 40 1 32 0 40 0 43-3 5 0 4-2 3-3 2-3 2-4 2-6 7-25 2-5 1 0 1 0 2 4 7 25 3 9 2 4 2 2 2 2 3 1 5 1 8 1 16 0 9-1 8-2 5-2 10-4 3-1 3-1 3 1 3 0 13 6 8 2 5 1 6 0 5-1 5-1 5-2 3-3 3-6 2-7 2-11 2-16 3-36 5-82 3-43 1-22 1-54 2-258 4 0 1 14 1 252 1 131 1 58 1 27 1 14 2 18 1 5 2 7 3 6 4 4 5 3 8 2 12 2 16 1 36 0 8-1 3-1 2-1 2-2 2-2 2-4 2-6 5-16 2-5 1-2 1-1 1 0 1 1 2 5 8 25 3 6 3 3 4 2 5 1 32 1l0 3-132-2-332-1-254-2-178-2-329-3-88-1-96-8-20-3-48-12-28-5-12-2-12-4-32-12-16-5-32-7-32-11-20-4-21-6-10-2-43 0-77 2-15 2-37 6-56 5z"/><path id="b22" d="M2372 782l48-10 6-2 5-2 7-6 3-3 3-3 4-8 3-10 2-10 2-15 2-20 2-28 4-82 7-183 1-16 1-10 1-3 1 6 2 31 8 206 2 39 3 42 3 26 2 11 2 7 2 5 3 5 3 4 3 2 4 2 4 1 12 3 30 4 16 1 10 1 4-1 2-1 4-9 1 0 1 0 4 9 2 2 2 1 16 5 12 3 16 1 12 3 28 11 8 2 16 3 12 4 32 12 12 4 12 3 24 3 8 2 32 10 16 3 16 3 12 2 28 0 12 0 12 1 24 4 12 1 24 0 30 1 34-1 25 1 9 0 6-1 5-1 4-1 3-2 3-2 2-3 3-8 3-12 2-13 2-16 6-56 2-12 1-3 1 1 1 3 1 5 6 48 3 18 3 10 9 15 1 1 1-1 1-2 1-4 2-17 3-37 1-5 1 4 1 10 4 54 1 2 2-520 11 0 1 495 1 47 29 4 12 1 12 0 42-1 3 0 3-3 2-2 4-8 1-2 1 0 1 0 1 2 4 7 2 3 2 2 3 1 41 0 9-1 7-2 5-3 4-4 3-6 2-6 2-9 2-13 3-32 4-65 4-78 1-27 1-48 1-95 1-157 6 0 2 300 1 96 1 48 1 25 1 16 2 19 1 6 2 9 2 5 3 5 2 1 2-1 2-2 2-5 3-11 6-32 1-3 1-2 1-1 1 2 2 7 5 29 3 15 2 6 3 7 3 3 5 2 11 3 13 2 10 1 11 0 35-1 4-1 3-1 2-1 2-2 3-4 3-6 6-16 2-3 1-1 1 0 2 3 8 21 2 3 2 3 3 3 3 1 4 1 6 1 18 2 12 0 32-2 12 0 52 2 28 2 8 0 12 0 28-2 36 1 24 0 23 0 11-1 5-1 4-1 3-3 3-4 2-5 2-6 7-26 2-5 1-1 1 1 2 3 7 26 2 6 2 4 2 4 2 2 2 1 3 2 7 1 10 1 9 1 8-1 5 0 5-2 16-7 3 0 3-1 5 1 12 6 7 2 4 0 5 0 10-2 6-2 4-2 3-3 3-6 2-7 2-11 2-16 2-22 9-139 1-21 1-54 2-265 4 0 1 21 1 252 1 132 1 58 1 27 1 14 2 18 1 5 2 7 3 7 4 4 5 3 8 2 17 2 19 1 16 0 19-2 3-1 3-2 2-2 2-2 2-4 2-6 5-16 2-5 1-1 1-1 1 0 1 1 2 4 6 20 3 8 3 5 3 3 4 2 6 1 30 1l0 2-132-2-332 0-254-3-178-2-329-3-88-1-96-8-20-3-48-12-28-4-12-3-12-4-32-12-16-5-32-7-32-11-20-4-21-6-10-2-43 0-77 2-15 2-37 6-56 5z"/><path id="b23" d="M2372 790l8 0 12-3 30-7 5-2 5-2 4-3 3-2 5-6 4-8 3-10 2-10 2-15 2-21 2-28 4-82 7-184 1-17 1-10 1-2 1 5 2 31 8 207 2 39 3 42 3 26 2 11 2 8 2 5 3 6 4 4 4 3 3 2 4 2 8 1 25 2 24 2 10 1 4-1 2-2 4-8 1-1 1 1 4 8 2 2 13 4 17 6 4 1 20 4 12 3 24 7 40 11 12 4 24 11 8 3 4 1 8 1 16 1 8 1 8 2 24 7 12 3 52 7 8 0 20 1 8 0 8 1 20 4 8 0 32 0 22 1 9 0 9 0 24-3 27 0 8-1 3-1 3-2 2-2 2-3 3-7 3-13 2-12 2-16 6-57 2-12 1-2 1 0 1 3 1 6 6 48 3 18 3 10 9 16 1 1 1 0 1-2 1-4 2-18 3-36 1-5 1 4 1 11 4 54 1 2 2-531 11 0 1 505 1 47 17 1 24 3 8 0 8 0 20-2 19 0 3-1 2-2 2-2 4-8 1-1 1-1 1 1 1 1 4 8 2 2 2 2 3 1 5 0 19-1 23 0 7-1 5-2 5-3 3-4 3-7 2-7 2-11 2-17 3-36 6-109 2-48 1-48 1-95 1-165 6 0 2 309 1 95 1 49 1 25 1 16 2 19 1 6 2 9 2 6 3 4 2 1 2 0 2-2 2-5 3-12 6-31 1-4 1-2 1 0 1 1 2 8 5 28 3 14 2 7 3 6 3 3 5 2 16 3 12 2 8 1 9 0 19-1 18 0 3-1 3-1 3-2 3-4 3-6 6-16 2-3 1-1 1 0 2 3 7 18 4 7 2 3 3 2 3 1 5 0 30 3 12 0 20-2 12 0 28 2 32 0 24 2 8 0 8 0 28-2 32 1 29-1 27 1 10-1 5-1 4-1 3-3 3-4 2-5 2-6 7-26 2-4 1-1 1 0 2 4 7 26 2 6 2 4 2 4 2 2 2 2 3 1 6 2 9 0 11 1 7-1 10-2 5-2 12-6 3-1 3 0 5 1 13 5 7 2 5 0 5 0 6-1 5-1 5-2 4-3 3-5 2-5 2-9 2-13 2-19 2-25 5-82 3-43 1-22 1-54 2-273 4 0 1 30 1 251 1 132 1 58 1 27 1 15 2 17 1 5 2 8 3 6 2 2 3 3 3 1 4 2 9 2 14 2 15 1 28-1 11-1 3-1 2-1 2-2 2-3 2-4 2-5 7-22 1-2 1-1 1 0 1 1 2 4 8 25 3 6 3 4 4 2 5 1 32 1l0 4-132-2-332-1-254-2-178-3-329-3-88-1-96-8-20-3-48-12-28-4-12-3-12-4-32-12-16-5-32-7-32-11-20-4-21-6-10-1-43-1-77 3-15 1-37 6-56 5z"/><path id="b24" d="M2372 796l16-1 21-3 12-3 5-2 4-2 4-2 4-3 3-3 3-4 4-8 3-10 2-10 2-15 2-20 2-28 4-83 7-183 1-17 1-10 1-2 1 5 2 31 8 206 2 39 3 42 3 25 2 11 2 8 2 5 3 5 3 3 4 4 4 2 5 2 6 2 7 1 19 3 24 2 10 0 4 0 2-2 4-8 1-1 1 1 4 9 2 2 2 0 28 8 16 2 8 2 28 10 8 2 16 4 12 3 36 13 16 5 16 3 16 3 12 2 12 3 32 9 16 3 8 1 32 2 64 5 55 2 18 0 17-1 23-1 8-2 7-1 5-2 3-1 3-3 2-3 2-4 2-6 3-15 3-22 6-57 2-12 1-2 1 1 1 3 1 5 6 49 3 17 3 10 9 16 1 1 1-1 1-1 1-5 2-17 3-36 1-5 1 4 1 10 4 55 1 2 2-538 11 0 1 513 1 48 13 1 20 1 40 0 22 0 3-1 3-2 2-3 4-8 1-1 1-1 1 1 1 1 4 8 2 3 3 2 3 0 7 1 12 0 18-1 12-2 5-2 4-1 5-4 3-3 3-7 2-7 2-11 2-16 3-36 6-108 2-48 1-48 1-95 1-173 1-1 5 0 2 317 1 96 1 49 1 25 1 15 2 19 1 7 2 9 2 5 1 2 2 2 2 1 2 0 2-2 2-5 3-12 6-31 1-4 1-2 1 0 1 1 2 8 7 39 2 8 2 5 3 5 3 3 4 1 7 1 16 1 46 2 11 0 6-1 4-2 2-2 2-3 3-7 6-15 2-3 1-1 1 1 2 2 7 19 4 8 2 2 3 2 3 1 5 1 9 1 13 0 44-1 20 0 56 2 20 1 68-2 20 0 37 1 15-1 5-1 3-1 3-3 2-3 2-4 2-6 7-26 2-5 1 0 1 0 2 4 7 25 3 9 2 4 2 2 2 2 3 2 5 1 10 0 13 0 9-1 5-1 5-2 15-6 5-1 5 1 14 6 7 2 5 1 5 0 5-1 5-1 5-2 4-3 3-5 2-6 2-8 2-14 2-19 2-26 5-82 3-43 1-22 1-54 2-281 4 0 1 37 1 252 1 131 1 59 1 26 1 15 2 17 1 5 2 8 3 6 4 4 5 3 7 2 13 2 32 2 18 1 10-1 3-1 2-1 2-2 2-3 2-4 2-5 7-22 2-3 1 0 1 1 2 4 8 25 3 6 3 3 4 2 6 1 31 1l0 4-132-2-332-1-254-2-178-3-329-2-88-2-96-8-20-3-48-12-28-4-12-3-12-4-32-11-16-6-32-7-32-11-20-4-21-5-10-2-43-1-77 3-15 1-37 6-56 5z"/><path id="b25" d="M2372 806l8-1 12-2 30-7 5-2 5-2 4-3 3-2 5-6 4-8 3-10 2-10 2-15 2-20 2-28 4-83 7-183 1-17 1-10 1-2 1 5 2 31 8 207 2 39 3 42 3 26 2 11 2 8 2 5 3 5 3 4 4 3 6 3 8 2 27 2 24 3 9 1 4-1 2-1 2-2 3-7 1-1 1 0 4 8 1 1 2 1 8 2 5 1 20 7 20 6 48 13 20 6 28 9 28 10 8 2 4 1 16 1 12 2 8 2 20 7 12 3 8 1 24 1 8 1 16 4 8 1 8 0 20-1 8 0 8 2 12 2 8 1 12 0 20-2 8 0 9 0 19 2 12 0 43-5 3 0 3-2 2-2 2-2 2-4 2-7 3-14 3-23 6-57 2-12 1-2 1 0 1 3 1 6 6 47 3 18 3 9 9 15 1 1 1 0 1-2 1-4 2-17 3-36 1-5 1 4 1 11 4 54 1 2 2-546 11 0 1 522 1 48 8 0 17-1 8 0 8 1 16 2 8 1 8 0 8-1 14-3 4-1 3-3 5-10 1-1 1 0 1 0 1 2 4 8 3 4 2 2 2 0 8 2 8 0 12-1 22-5 6-2 4-1 3-2 2-2 3-3 3-8 2-9 2-13 2-19 3-41 5-93 2-47 1-48 1-95 1-174 1-9 5 0 2 326 1 95 1 49 1 25 1 15 2 19 1 6 2 9 2 5 1 2 2 3 2 0 2 0 2-2 2-5 3-12 6-31 1-3 1-2 1 0 1 1 2 8 6 35 2 9 2 7 3 6 3 3 4 2 5 1 25 1 23 3 9 0 12-1 11-2 3-1 2-2 2-1 2-3 3-6 7-18 2-3 1 0 1 0 2 3 7 19 4 8 2 3 3 3 3 1 4 1 9 0 18-2 8 0 8 0 20 3 8 0 8 0 20-2 8 0 32 2 8 0 24-1 32 2 32-2 8 1 23 1 14 0 26-4 4-1 3-3 3-4 2-4 3-9 6-21 2-5 1 0 1 0 2 4 7 26 3 9 2 4 2 2 2 2 2 1 3 1 5 0 34-2 7-2 14-5 5-1 5 0 13 5 8 2 6 0 6 0 6-1 4 0 3-1 3-2 2-2 2-4 3-9 3-18 2-19 2-26 5-82 3-43 1-22 1-54 2-290 4 0 1 46 1 252 1 131 1 58 1 27 1 15 2 17 1 5 2 7 3 7 2 2 3 3 3 1 4 2 9 2 8 1 8 1 24 0 21 1 7-1 3-1 2-1 2-2 2-3 2-4 2-5 7-22 2-3 1-1 1 1 2 4 8 25 3 5 3 4 4 2 5 1 18 3 14 1l0 2-132-2-332-1-254-2-178-2-329-3-88-2-96-7-20-4-48-11-28-5-12-3-12-3-32-12-16-5-32-8-32-11-20-4-21-5-10-2-43-1-77 3-15 2-37 5-56 5z"/><path id="b26" d="M2372 813l20-2 18-3 11-3 8-3 4-2 4-4 3-3 3-3 3-6 2-4 3-10 2-10 2-15 2-21 2-28 4-82 7-184 1-16 1-10 1-2 1 5 2 31 8 207 2 39 3 42 3 26 2 11 2 8 3 7 3 5 4 4 4 3 4 2 5 2 6 2 6 1 10 0 20 1 24 0 2 0 2-1 4-9 1 0 1 0 4 9 2 2 2 1 24 7 8 1 12 2 8 2 24 9 8 3 20 4 16 4 40 15 12 4 12 2 16 3 12 2 12 3 24 7 16 4 8 1 8 1 20-1 12 1 12 1 28 4 12 1 12 1 24-1 42 3 10 0 9 0 23-3 20-3 5-1 3-2 3-2 2-3 2-4 2-6 3-15 3-22 6-57 2-11 1-3 1 1 1 3 1 5 6 49 3 18 3 9 9 16 1 1 1-1 1-1 1-5 2-17 3-36 1-5 1 3 1 11 4 54 1 2 2-554 11 0 1 529 1 48 13 1 20 1 53 0 9 0 3-1 3-2 2-3 4-7 1-1 1-1 1 1 1 1 4 8 2 2 3 3 3 0 15 0 23-2 12-2 8-2 5-4 3-3 3-6 2-8 2-11 2-16 2-22 2-30 5-92 2-48 1-48 1-95 1-174 1-16 5 0 2 333 1 96 1 48 1 25 1 16 2 19 1 6 2 9 2 5 1 2 2 2 2 1 2 0 2-3 2-4 3-12 6-31 1-4 1-2 1 0 1 1 2 8 7 40 2 8 3 7 3 5 2 1 3 2 8 2 11 2 12 1 13 0 36-2 5-1 3-1 2-1 2-1 3-5 3-6 6-16 2-3 1 0 1 0 2 3 7 18 4 8 2 2 3 2 3 1 3 1 36 0 36 3 16 0 44 0 52 0 52 1 69-3 4 0 3-2 3-2 2-3 2-5 2-5 7-26 2-4 1-1 1 0 2 4 7 26 3 8 2 4 2 3 2 2 3 1 5 1 8 0 16 0 9-1 8-2 15-6 3-1 3 0 5 1 13 5 7 1 9 0 6-1 5-1 6-2 4-3 3-5 2-5 2-9 2-13 2-19 2-26 5-82 3-43 1-21 1-54 2-297 4 0 1 54 1 252 1 131 1 58 1 27 1 15 2 17 1 6 2 7 3 7 4 4 3 2 3 2 7 2 8 1 15 0 35 1 8 0 5-1 3-1 3-1 2-2 2-3 4-10 7-22 2-2 1-1 1 1 2 4 8 25 3 6 3 3 4 3 5 1 12 1 20 1l0 3-132-2-332-1-254-2-178-2-329-3-88-2-96-7-20-4-48-11-28-5-12-3-12-3-32-12-16-5-32-7-32-11-20-4-21-6-10-2-43-1-77 3-15 2-37 6-56 4z"/><path id="b27" d="M2372 822l12-1 12-2 24-7 6-2 5-3 7-5 3-3 3-3 4-8 3-10 2-10 2-14 2-20 2-28 4-82 7-183 1-17 1-9 1-3 1 5 2 31 8 207 2 39 3 42 3 26 2 10 2 8 2 5 3 5 4 5 4 3 5 3 5 1 6 2 6 1 10 0 20 0 24 1 2-1 2-1 4-8 1-1 1 1 4 9 2 2 2 0 28 9 12 2 8 2 32 11 28 7 36 12 28 8 12 3 20 3 16 4 12 3 24 7 12 3 12 1 16 0 12 0 12 1 20 4 12 1 36 0 32 2 33-1 26 1 10 0 6 0 6-2 5-1 4-2 3-2 2-3 2-3 2-4 3-11 3-17 2-16 6-57 2-12 1-2 1 1 1 3 1 5 6 49 3 18 3 10 9 16 1 1 1 0 1-2 1-4 2-18 3-36 1-5 1 4 1 11 4 54 1 2 2-563 11 0 1 537 1 48 45 3 12 0 20-1 19-1 3-1 2-1 2-3 4-7 1-2 1 0 1 0 1 2 4 8 2 3 3 2 3 1 6 0 9-1 25-3 12-2 7-2 3-2 2-2 3-4 3-7 2-9 2-14 2-19 3-41 5-93 2-47 1-48 1-95 1-174 1-25 5 0 2 342 1 96 1 48 1 26 1 15 2 19 1 7 2 8 2 6 3 4 2 1 2 0 2-3 2-4 3-12 6-31 1-4 1-2 1 0 1 1 2 8 7 39 2 8 2 5 3 5 3 2 4 2 6 1 57 3 15 0 5 0 3-1 4-2 2-2 2-4 3-6 6-16 2-3 1-1 1 1 2 2 7 18 4 8 2 2 3 3 3 1 3 0 48 3 12 0 24-2 12 0 32 2 36 0 28 2 12 0 24-3 8 0 12 0 24 2 8 0 9-1 12-1 7-2 4-1 3-3 3-5 2-5 8-29 2-4 1-1 1 1 2 4 7 26 3 8 2 4 2 3 2 2 3 1 5 1 7 0 18 0 9-1 8-2 14-6 3-1 3 0 5 1 12 4 8 2 5 0 6-1 7 0 5-2 3-1 3-1 2-2 2-4 3-9 3-18 2-18 2-26 5-82 3-42 1-22 1-54 2-307 4 0 1 63 1 252 1 132 1 58 1 26 1 15 2 17 2 10 3 7 2 3 2 2 5 3 8 3 17 2 17 1 16 0 22-2 3-1 3-2 2-1 2-3 2-4 2-5 5-16 2-6 1-1 1-1 1 0 1 1 2 4 6 20 3 7 3 6 3 3 4 1 5 1 31 0l0 4-132-2-332-1-254-2-178-2-329-3-88-2-96-7-20-3-48-12-28-5-12-2-12-4-32-12-16-5-32-7-32-11-20-4-21-6-10-2-43-1-77 3-15 2-37 6-56 5z"/><path id="b28" d="M2372 829l16-1 12-2 20-6 6-2 5-2 7-5 3-3 3-3 2-3 2-5 3-9 2-10 2-14 2-21 2-28 3-60 7-183 2-35 1-9 1-2 1 5 2 31 8 203 2 38 3 42 3 25 2 10 2 7 2 5 3 6 4 4 4 3 8 4 9 3 9 2 10 0 24-1 16 0 2 0 2-1 4-8 1-1 1 1 4 9 2 2 2 1 10 3 10 3 8 1 12 1 8 2 8 4 16 7 8 4 8 2 12 1 8 1 8 2 12 4 20 9 8 3 8 2 12 3 24 3 40 10 20 4 16 3 56 6 48 3 24 1 32-2 29 2 11 0 8-1 9-1 9-2 5-2 3-1 3-3 4-5 2-4 3-8 3-16 3-24 5-46 2-12 1-2 1 1 1 3 1 5 6 47 3 18 3 9 9 15 1 1 1-1 1-2 1-4 2-18 3-36 1-5 1 3 1 11 4 54 1 2 2-570 11 0 1 545 1 48 13 2 12 1 8 0 20-2 8 0 26 2 8 0 3-1 3-2 2-3 4-8 1-2 1 0 1 0 1 1 4 8 2 3 2 1 3 1 32 1 7 0 6-1 5-1 8-3 5-3 4-5 3-6 2-8 2-11 2-17 4-53 5-89 2-47 1-47 1-95 1-174 1-35 5 0 2 351 1 96 1 48 1 25 1 16 2 18 1 7 2 9 2 5 1 2 2 2 2 1 2-1 2-3 2-4 3-11 6-30 1-4 1-2 1 0 1 1 2 8 7 38 2 8 2 5 3 5 3 2 5 2 8 2 16 1 40 1 13 0 7-1 4-2 2-2 2-3 3-6 7-17 2-3 1-1 1 1 2 2 8 21 2 4 2 3 2 2 3 2 4 1 5 1 12 0 32 0 32 1 8 0 28-1 8 0 28 2 36-2 36 3 33-2 28 1 12 0 7-1 5-2 4-3 3-4 3-6 2-5 7-25 2-5 1 0 1 0 2 4 7 25 3 9 2 3 2 3 2 2 3 2 6 1 8 0 9 0 12-1 10-2 15-6 3-1 3-1 3 0 3 1 13 6 8 2 5 0 6 0 6 0 5-1 3-2 3-2 2-2 2-4 3-10 3-18 2-18 2-25 5-82 3-42 1-22 1-53 2-317 4 0 1 72 1 251 1 132 1 58 1 26 1 15 2 17 2 9 3 8 2 3 2 2 3 2 3 1 8 3 12 2 12 0 41 0 6 0 3-1 3-2 2-2 2-3 4-9 7-21 2-2 1 0 1 0 2 4 8 25 3 6 3 3 3 2 5 1 19 2 14 1l0 2-132-2-332-1-254-2-178-2-329-3-88-1-96-8-20-3-48-12-28-5-12-2-12-4-32-12-16-5-32-7-32-11-20-4-21-6-10-2-43 0-77 2-15 2-37 6-56 5z"/><path id="b29" d="M2372 838l16-1 14-2 18-5 8-3 4-2 4-3 6-6 3-4 2-4 3-8 3-14 2-15 3-38 3-62 6-156 3-44 1-8 1-2 1 3 2 22 9 203 2 35 3 37 3 22 2 10 2 6 2 5 3 5 3 3 4 3 4 2 5 1 11 2 57 2 2 0 2-2 4-8 1-1 1 1 4 9 2 2 2 1 24 7 8 2 12 2 8 2 28 10 8 2 12 3 12 3 44 15 16 5 12 3 24 4 36 9 20 4 16 2 16 1 36 4 20 1 44 2 39 1 28 0 23-1 12-1 6-2 2-1 2-2 3-7 5-18 1-1 1-1 3 2 1 0 1-2 1-3 3-16 6-48 2-10 1-2 1 1 1 2 1 5 6 39 4 19 2 6 2 4 6 10 2 2 1-1 1-2 1-5 2-18 3-37 1-4 1 3 1 10 4 54 1 2 2-579 11 0 1 554 1 47 17 1 36 2 24 0 17-1 4-1 3-2 2-3 4-8 1-1 1-1 1 1 1 1 4 8 2 2 3 3 3 0 19 1 18-1 12-2 5-1 4-2 5-3 2-3 2-3 2-5 1-4 2-12 3-31 9-120 2-41 1-46 1-94 1-174 1-61 5 0 2 365 1 94 1 48 1 24 2 25 1 8 2 10 2 6 2 4 1 0 1 0 1-1 5-8 3-2 1-2 2-5 5-20 1-3 1-2 1 0 1 2 2 6 7 35 2 7 2 5 3 4 3 2 5 2 8 1 16 1 45 1 10-1 5 0 3-2 3-3 12-22 2-2 1-1 1 1 2 2 7 16 4 7 2 2 2 1 3 1 3 1 77 2 60-1 56 2 52 0 38 0 16 0 5-1 3-1 2-1 2-2 5-9 4-4 2-3 2-5 5-14 2-4 1-1 1 0 2 4 7 22 3 7 2 4 2 2 2 2 3 1 6 1 12 1 11 0 8-1 5-1 4-1 15-7 3-1 3-1 5 1 14 5 8 2 5 1 5 0 5-1 5-1 3-1 3-2 2-3 2-4 3-13 5-32 2-16 2-22 5-79 2-23 1-20 1-52 2-337 4 0 1 86 1 250 1 131 1 57 1 26 2 23 1 7 2 9 3 8 3 4 2 1 3 2 7 3 7 1 13 1 37 1 14 0 3 0 2-1 3-3 9-13 7-16 2-3 1 0 1 1 2 4 8 21 3 5 3 3 4 2 5 1 32 2l0 2-132-2-332 0-254-3-178-2-329-3-88-1-96-8-20-3-48-12-28-4-12-3-12-4-32-12-16-5-32-7-32-11-20-4-21-6-10-2-43 0-77 2-15 2-37 6-56 5z"/><path id="b30" d="M2372 846l16-2 19-3 13-3 9-3 7-4 3-2 3-3 3-4 2-4 3-8 2-8 2-13 2-20 1-14 3-66 5-157 1-20 1-11 1-5 1 0 1 4 1 5 2 19 1 13 9 171 2 31 3 34 3 21 2 10 2 6 2 5 3 4 3 3 4 3 5 2 5 1 13 2 15 1 39 1 3-1 2-1 4-9 1-1 1 1 4 9 2 1 2 1 28 7 12 2 8 2 8 3 24 8 8 2 16 3 8 3 16 5 32 13 16 5 12 3 20 3 40 10 16 4 16 2 28 0 60 4 103 3 15 0 10-1 6-2 2-1 2-3 2-4 2-9 5-38 1-5 1-2 1 2 3 17 2 8 1 1 1-1 1-3 2-8 6-35 1-3 1-2 1 0 1 2 1 3 9 39 3 10 2 5 3 5 3 3 1 1 1 0 1-1 1-2 1-5 2-19 3-38 1-5 1 4 1 10 4 53 1 2 2-588 11 0 1 563 1 47 9 1 16 0 56 0 14 0 3-1 3-2 2-3 4-8 1-1 1 0 1 0 1 1 4 8 2 3 3 2 3 1 7 0 12 0 18 0 12-2 5-1 4-2 5-4 3-4 2-4 2-9 2-16 1-12 4-69 2-25 1-6 3-10 1-6 1-10 1-20 1-43 3-368 5 0 2 385 1 92 1 46 1 23 2 23 1 7 2 9 1 3 2 3 1 1 1-1 1-2 2-6 2-8 1-3 1-2 1 0 3 6 1 1 1 0 2-4 4-10 1-1 1 0 1 1 2 6 7 27 2 5 3 5 3 3 4 2 6 1 8 1 19 1 27 1 17 0 8-1 3-1 3-3 7-13 8-6 2 0 1 0 2 2 7 13 4 5 2 2 3 1 7 2 13 0 22 1 120 0 107 2 18 0 13-1 8 0 2-1 2-1 2-2 1-2 2-5 3-10 1-3 1-1 1 0 3 3 1 0 1 0 2-2 5-9 1-1 1 0 1 0 2 2 7 18 3 6 2 2 2 2 2 1 3 1 7 1 11 0 11-1 8-1 5-1 5-1 15-8 5-1 5 1 14 6 8 2 5 1 5 0 5-1 5-1 4-2 2-2 2-3 1-3 2-9 1-7 4-33 1-5 3-11 1-6 2-20 3-47 1-13 2-18 1-17 1-49 1-130 1-237 4 0 1 105 1 248 1 129 1 55 1 25 2 22 1 6 2 9 3 7 2 2 2 2 5 3 7 3 10 1 18 2 22 0 16 0 5-1 3-1 3-4 4-10 2-3 1-1 3 1 2-1 5-7 2-2 1 0 1 1 2 3 8 17 3 4 3 2 4 2 6 1 31 0l0 4-132-2-332-1-254-2-178-3-329-2-88-2-96-8-20-3-48-12-28-4-12-3-12-4-32-11-16-6-32-7-32-11-20-4-21-6-10-1-43-1-77 3-15 1-37 6-56 5z"/><path id="b31" d="M2372 855l20-3 24-3 8-2 7-3 7-4 3-3 3-4 4-7 3-10 2-10 2-18 2-30 1-22 2-60 4-155 1-27 1-13 1 1 1 12 5 99 4 70 4 62 4 48 3 24 2 11 2 8 2 5 3 6 3 3 4 3 5 2 5 2 6 1 7 1 10 0 24 0 24 1 2-1 2-1 4-9 1 0 1 1 4 8 2 2 2 1 24 6 8 2 8 1 8 2 8 2 20 8 8 3 24 6 12 3 16 5 28 10 12 4 12 2 16 2 16 3 12 3 28 8 16 3 8 1 44 2 36 3 12 1 32 1 39 1 15 0 17-1 14-2 5-2 3-1 2-2 2-3 2-5 2-11 2-19 4-53 1-7 1 0 1 6 4 45 1 8 1 6 1 3 1 1 1-1 1-2 6-21 1-2 1-1 1 0 2 2 6 10 2 7 4 15 2 5 3 5 2 2 2 1 1 0 1-1 1-3 1-6 2-19 3-39 1-5 1 3 1 10 4 53 1 2 2-597 10 0 1 1 1 570 1 48 17 1 28 0 50-2 3 0 3-2 2-3 4-8 1-1 1 0 1 0 1 1 4 8 2 3 3 3 4 1 8 1 10 0 8 0 8 0 7-1 6-2 5-1 4-2 5-3 2-3 2-3 2-6 2-11 2-21 1-16 4-90 1-15 1-7 1 3 3 23 1 3 1-4 1-14 1-41 1-93 2-317 5 0 2 405 1 90 1 44 1 21 1 13 1 8 2 10 1 4 2 3 1 1 1-1 1-2 2-9 3-20 1-4 1-2 1 3 3 16 2 7 1 2 1 0 1 0 3-3 1-1 1 0 1 1 2 4 7 19 2 3 3 4 3 2 5 2 10 2 15 1 16 1 14 0 18-1 7-1 4-1 3-2 2-2 2-4 4-10 1-2 1 0 1 0 4 3 5 1 2 1 2 2 7 9 2 2 3 2 3 1 4 1 15 1 23 1 44 1 16-1 32-1 12 0 16 1 28 2 16 1 12-1 36-1 34-1 13-1 5 0 3-1 2-1 2-3 2-6 1-4 4-19 1-2 1 0 1 1 4 14 2 3 1 0 1 0 5-4 2 0 1 1 2 3 6 11 3 4 4 3 5 2 7 1 10 0 10-1 8-1 9-2 5-3 12-6 3-1 3-1 3 1 3 0 14 7 8 2 5 1 5 0 5 0 4-1 3-2 2-1 2-4 1-2 2-10 1-8 5-53 1-4 1 0 2 4 1 0 1-5 2-21 3-44 2-11 1-13 1-47 1-129 1-253 1-19 3 0 3 499 1 54 1 23 2 20 2 10 3 8 3 4 2 2 3 2 4 1 4 1 11 2 11 0 44-1 4 0 2-1 2-1 1-2 3-6 4-14 1-1 1-1 1 2 3 6 2 3 1 0 1 0 3-2 2 0 2 0 2 2 8 13 3 3 3 1 5 2 7 0 29 0l0 3-132-2-332-1-254-2-178-3-329-2-88-2-96-8-20-3-48-12-28-4-12-3-12-4-32-11-16-6-32-7-32-11-20-4-21-5-10-2-43-1-77 3-15 1-37 6-56 5z"/><path id="b32" d="M2372 863l28-5 21-2 6-2 5-2 4-2 3-2 5-5 4-7 3-10 2-11 1-9 2-28 1-22 2-61 4-180 1-37 1-20 1 0 1 18 4 138 2 56 2 39 3 41 4 37 2 14 3 16 2 8 3 8 3 4 4 4 4 2 4 1 11 2 11 1 28 1 27 1 3 0 2-2 4-8 1-1 1 1 4 8 1 1 2 2 29 7 16 3 8 2 20 7 8 3 8 2 16 2 8 2 12 4 28 12 12 4 8 2 8 1 20 2 8 2 12 3 28 10 8 2 8 1 16 2 24 0 40 4 32 2 32 1 37 0 29 0 11 0 9-2 3-1 3-1 2-2 2-3 2-7 2-13 1-10 2-30 3-56 1-12 1-4 1 6 1 14 4 67 2 20 1 5 1 3 1 1 1 0 1-1 6-9 2-1 3-2 4-3 1 0 1 1 1 3 4 16 3 8 2 2 2 2 2 0 1-1 1-2 1-4 1-6 2-20 3-39 1-6 1 3 1 10 4 53 1 2 2-607 10 0 1 9 1 571 1 47 33-1 32 3 12 0 9 0 8-1 4-1 3-2 2-3 4-8 1-1 1-1 1 1 1 1 4 7 2 3 2 2 3 1 20 1 19-1 12-1 4-1 4-2 3-2 2-2 3-5 2-7 2-14 2-29 5-128 1-13 1 1 1 13 2 38 2 27 1 3 1-11 1-39 1-93 2-362 4 0 1 4 1 257 1 166 1 89 1 41 1 20 2 18 2 9 2 4 1 1 1-1 1-3 1-4 5-42 1-3 1 1 1 6 4 34 1 6 1 3 1 2 1 1 4 0 2 1 2 2 6 9 4 4 4 2 6 1 21 2 20 1 31-1 10 0 3-2 2-3 2-4 3-9 1-2 1-2 1 1 1 1 4 9 2 3 2 0 5 2 8 5 3 2 3 1 4 0 7 0 22 0 12 0 12 0 24 3 12 0 12 0 24-2 12 0 40 1 36 0 36 0 23 0 27-1 4-1 3-1 2-1 2-5 2-7 4-26 1-5 1-2 1 1 1 3 4 24 1 4 2 5 1 1 1 1 1 0 5-2 2 0 3 2 7 6 3 2 3 1 6 1 13 0 14 0 9-1 5-1 4-1 16-8 3-1 3 0 5 1 13 5 8 1 5 1 6 0 5-1 4 0 2-1 2-2 2-3 2-6 1-6 2-20 4-55 1-7 1 0 3 21 1 5 1-1 1-7 4-54 1-4 1 0 1-9 1-45 1-128 1-254 1-53 3 0 1 148 1 243 1 124 1 53 1 22 2 18 2 8 2 5 3 5 4 3 6 2 7 1 43 3 12 1 8-1 4-1 2-2 1-2 2-5 4-18 1-3 1-2 1 0 1 3 3 11 2 7 1 2 2 1 1 0 5-1 2 1 2 1 6 5 3 2 3 1 4 1 6 1 10 0 23 0l0 3-132-2-332-1-254-2-178-2-329-3-88-2-96-7-20-4-48-11-28-5-12-3-12-3-32-12-16-5-32-7-32-12-20-4-21-5-10-2-43-1-77 3-15 2-37 6-56 4z"/><path id="b33" d="M2372 870l43-4 8-1 7-3 4-2 4-3 3-3 3-3 4-8 3-10 2-14 1-10 2-34 1-26 2-74 4-201 1-32 1-10 1 15 1 35 5 224 1 29 2 40 1 14 2 18 2 12 2 9 2 7 3 8 3 5 4 4 3 2 3 1 7 1 7 0 18-2 9 0 12 1 20 2 11 1 3-1 2-2 4-8 1-1 1 1 4 8 1 1 2 1 11 2 18 6 16 3 36 11 24 6 40 14 36 11 8 2 32 4 12 3 12 3 20 7 12 3 8 0 24-1 8 0 8 1 24 4 12 2 12 0 24-1 8 0 22 3 10 0 14 0 38-4 4-1 4-1 3-1 2-2 2-3 1-3 2-10 2-19 1-15 4-86 1-18 1-8 1 3 1 14 3 67 2 36 2 21 2 10 2 4 2 1 3-1 3-1 2-3 1-2 4-12 1-2 1-1 1 0 1 3 4 16 2 6 1 2 2 2 2 1 2-1 1-1 1-2 2-11 2-20 3-40 1-6 1 3 1 10 4 52 1 2 2-615 10 0 1 17 1 571 1 48 33-1 28 2 8 1 12-1 12-1 4-1 3-1 3-4 4-8 1-1 1-1 1 1 1 1 4 8 3 4 3 2 4 0 9 1 8 1 12-1 7-1 7-2 6-1 5-3 5-3 2-2 2-3 2-6 2-12 2-26 1-20 4-123 1-22 1-8 1 10 3 77 2 39 1 6 1-9 1-38 1-92 2-398 4 0 1 25 1 256 1 164 1 87 1 40 1 19 2 16 1 5 2 5 1 0 1 0 1-3 1-4 2-16 3-33 1-7 1-2 1 5 1 9 4 45 1 6 2 8 1 2 2 1 5 2 9 5 7 1 21 2 14 1 44 0 6 0 3-2 2-3 2-5 3-11 1-2 1-1 1 0 1 2 4 13 1 2 2 4 1 0 2 1 17 3 51 1 28-1 12 0 28 3 12 0 12 0 20-2 8 0 12 0 20 2 12 0 36-1 34 1 15-1 6-1 3-1 2-2 2-4 2-7 1-6 4-31 1-5 1-3 1 2 1 5 4 31 2 9 2 5 1 2 2 1 8 0 11 4 8 1 15 0 16 0 8-1 6-1 6-2 13-6 3-1 3 0 5 0 12 5 8 2 5 1 6 0 5-1 4-1 4-2 2-3 2-6 1-5 2-19 5-76 1-4 1 5 3 34 1 8 1 0 1-6 3-44 1-9 1-1 1 4 1-6 1-43 1-128 1-255 1-81 3 0 2 407 1 123 1 51 1 21 1 10 2 11 2 6 3 5 4 3 6 3 12 1 34 2 13 0 10-1 2 0 2-1 2-3 1-2 2-6 5-25 1-3 1 1 1 3 5 25 2 5 2 2 2 1 7 1 13 4 8 1 17 1 19 0l0 2-132-2-332-1-254-2-178-2-329-3-88-2-96-7-20-4-48-11-28-5-12-3-12-3-32-12-16-5-32-7-32-11-20-4-21-6-10-2-43-1-77 3-15 2-37 6-56 4z"/><path id="b34" d="M2372 880l16-2 14-2 20-4 6-2 5-2 4-3 3-2 3-3 2-3 2-3 2-6 2-8 2-15 1-12 2-39 1-30 2-84 3-162 1-45 1-24 1 1 1 28 5 252 1 37 2 50 2 27 1 8 2 11 2 5 2 4 3 4 3 3 4 2 4 1 5 1 7 1 40 1 33-1 4 0 2-1 2-3 3-7 1-1 1 1 4 9 1 1 2 1 11 3 18 6 20 5 28 9 8 3 16 3 12 3 44 14 24 7 20 4 36 8 36 8 8 1 28 3 68 4 40 1 40 2 13 0 11-1 10-2 4-2 3-2 2-1 2-3 2-4 1-4 2-13 2-26 5-113 1-13 1 0 1 11 1 21 4 91 2 27 2 14 2 6 2 3 2 2 2 1 2 0 1-1 2-3 1-2 4-16 1-3 1-1 1 0 1 3 4 17 2 6 1 1 2 2 2 1 1-1 2-2 1-2 2-11 2-21 3-41 1-5 1 2 1 10 4 52 1 2 2-623 10 0 1 25 1 571 1 47 25 1 40 1 20 0 10 0 3-1 3-2 2-3 4-8 1-1 1 0 1 0 1 1 4 8 2 3 3 2 3 1 15-1 22-1 13-3 4-1 4-1 4-3 3-5 2-6 2-14 2-30 1-23 4-130 1-20 1-2 1 17 3 90 2 41 1 7 1-9 1-38 1-93 2-420 4 0 1 41 1 254 1 164 1 85 1 40 1 18 2 16 1 3 1 3 1 1 1 0 1-1 1-4 1-6 5-54 1-5 1 1 1 8 4 50 1 9 2 11 1 3 2 3 3 2 5 2 64 4 20 0 12-1 3-1 2-2 1-2 2-6 3-11 1-3 1-1 1 0 1 2 4 15 1 3 2 3 1 2 2 1 6 1 12 0 36 1 32 1 12 0 12 0 28-2 12 0 12 1 28 2 16 1 77-2 29-1 9 0 4-1 2-1 2-3 1-2 2-9 1-6 4-33 1-5 1-2 1 3 1 6 4 33 2 11 2 5 2 3 2 1 6 1 9 1 51-2 5-1 5-1 5-2 10-4 3-1 3 0 5 0 13 5 7 2 5 0 5 0 5 0 4-1 4-2 3-3 2-5 1-4 2-17 1-13 4-68 1-10 1 0 1 8 3 42 1 7 1 1 1-7 3-45 1-8 1 1 1 5 1-5 1-42 1-128 1-255 1-98 3 0 2 418 1 122 1 50 1 21 1 10 2 10 1 3 2 5 3 4 4 3 6 2 6 1 9 1 27 2 15 0 6 0 4-1 2-1 2-1 2-4 1-3 2-9 3-18 1-4 1-3 1 1 1 3 4 23 2 8 2 4 2 2 4 1 8 1 34 2 21 1l0 2-132-2-332-1-254-2-178-2-329-3-88-1-96-8-20-3-48-12-28-5-12-2-12-4-32-12-16-5-32-7-32-11-20-4-21-6-10-2-43-1-77 3-15 2-37 6-56 5z"/><path id="b35" d="M2372 888l46-7 7-1 6-3 7-4 5-5 4-7 3-10 2-12 1-10 2-32 1-25 2-74 4-210 1-38 1-16 1 12 1 35 5 252 1 34 2 45 2 24 2 13 2 7 2 4 3 4 3 3 3 2 4 1 5 1 5 1 56 0 24 1 2-1 2-1 4-8 1-1 1 1 4 9 2 1 3 2 23 6 8 2 12 1 8 2 28 9 24 6 12 4 36 13 16 5 16 4 20 2 12 2 12 3 24 8 8 2 8 2 12 1 16 0 32 3 28 2 24 2 12 1 12 1 26-2 31 1 8 0 10-1 12-3 4-1 3-2 2-2 2-4 2-8 2-16 1-13 2-39 3-72 1-17 1-5 1 7 1 18 3 74 2 37 2 22 2 11 2 5 1 2 2 1 3 2 2-1 1-1 2-3 1-3 4-16 1-3 1-2 1 1 1 3 4 16 2 6 1 1 2 2 2 0 1-1 2-2 1-3 2-10 2-22 3-40 1-6 1 3 1 10 4 52 1 2 2-630 10 0 1 34 1 571 1 47 6 1 7 0 28-1 32 2 8 0 11-1 5-1 3-2 3-4 4-8 1-1 1-1 1 1 1 1 4 8 3 4 3 2 5 1 8 1 8 0 12-1 16-3 6-2 4-1 3-2 2-2 3-5 2-7 2-16 2-32 1-25 4-130 1-15 1 3 1 21 4 114 1 15 1 6 1-10 1-39 1-94 2-429 4 0 1 48 1 254 1 163 1 86 1 40 1 18 1 9 1 6 2 6 1 1 1-1 1-2 1-5 2-16 3-36 1-9 1-2 1 5 1 10 4 50 1 7 2 10 2 4 2 2 2 2 8 2 11 3 13 1 28-1 30 1 6 0 4-1 3-2 2-3 2-5 3-12 1-3 1-2 1 1 1 2 5 17 2 4 2 2 2 1 3 0 23 3 9 0 8 0 24-1 12-1 28 1 32 1 32 1 12 0 20-1 12 0 81 2 11-1 9 0 6-2 3-1 2-2 2-4 2-9 1-7 4-33 1-5 1-1 1 3 1 7 3 25 2 13 1 4 2 5 2 3 2 1 5 1 9 0 41 2 11-1 6 0 5-2 5-2 11-6 3-1 3 0 3 0 3 1 13 5 7 2 4 1 5 0 5-1 4-1 4-2 2-2 1-1 2-6 1-5 2-19 4-68 1-14 1-6 1 3 4 53 1 6 1-1 1-8 3-46 1-8 1 2 1 6 1-5 1-43 1-128 1-255 1-107 3 0 2 426 1 123 1 50 1 21 1 9 2 11 1 4 2 4 3 4 4 3 6 3 6 0 9 1 39 0 7 0 4-1 2-1 2-1 2-4 1-3 2-9 3-17 1-5 1-2 1 0 1 3 4 23 2 8 2 5 1 1 2 1 4 2 8 1 14 2 9 1 12 0 21-2l0 3-132-2-332-1-254-2-178-2-329-3-88-1-96-8-20-3-48-12-28-5-12-2-12-4-32-12-16-5-32-7-32-11-20-4-21-6-10-2-43 0-77 2-15 2-37 6-56 5z"/><path id="b36" d="M2372 895l24-3 24-2 6-2 5-2 4-2 3-2 5-6 2-3 2-4 3-11 2-14 1-11 2-37 1-28 2-79 4-210 1-31 1-6 1 21 1 42 3 162 2 86 1 30 2 41 2 22 1 6 2 9 2 5 2 3 3 4 3 3 4 2 4 2 5 1 5 0 8 1 26-2 12 0 20 2 10 0 4-1 2-1 4-9 1-1 1 1 4 8 1 1 2 1 11 2 18 6 12 2 8 2 24 9 12 3 20 4 12 3 12 5 24 10 12 4 8 2 8 2 20 2 8 2 36 9 12 3 12 2 12 1 48 4 36 4 12 0 16 0 12 0 30 2 6 0 6-2 2 0 5 1 3 1 33-4 4 0 3-2 2-1 2-2 2-5 2-10 2-20 1-16 4-92 1-20 1-10 1 3 1 14 5 112 2 24 2 13 2 5 2 3 2 1 2 1 2 0 1-1 2-3 1-2 5-20 1-2 1-1 1 1 1 3 4 17 2 5 1 1 2 2 2 0 1-1 2-2 1-2 2-11 2-21 3-40 1-6 1 3 1 10 4 53 1 2 2-639 10 0 1 42 1 571 1 47 8 1 21-1 8 0 24 1 12 1 12-1 9 0 4-1 3-2 2-3 4-8 1-1 1-1 1 1 1 1 4 8 2 3 3 2 4 1 6 1 8 0 16-1 18-3 5-1 4-2 4-4 2-3 1-2 2-8 2-17 2-35 1-27 4-127 1-11 1 9 1 24 2 63 2 49 1 14 1 4 1-12 1-39 1-95 2-438 4 0 1 56 1 254 1 163 1 86 1 40 1 18 1 9 1 5 1 4 1 2 1 0 1-1 1-3 1-5 2-19 3-35 1-6 1 1 1 7 3 39 2 21 1 7 2 8 2 3 2 2 2 1 8 3 12 2 10 1 10 0 4 0 5-2 2-1 8 2 14 1 19 1 6 0 3-2 2-3 2-5 4-14 1-2 1 0 1 2 4 14 1 3 2 4 1 1 2 2 4 1 74 1 52-1 44 1 36 0 44 2 49-1 15-1 5-1 3-1 2-2 2-5 2-9 1-7 4-33 1-4 1 0 1 4 4 32 2 13 1 4 2 5 2 2 2 1 4 1 5 1 13 0 49-3 5 0 5-2 15-6 5-1 5 1 13 4 8 2 11 1 5-1 4-1 3-1 2-3 2-7 1-6 2-20 4-68 1-12 1-2 1 6 3 44 1 11 1 5 1-3 1-9 3-48 1-7 1 3 1 5 1-5 1-43 1-128 1-256 1-117 3 0 2 435 1 122 1 51 1 20 1 9 2 11 1 3 2 4 3 4 4 3 6 2 19 3 16 2 14-1 13-1 4-2 2-3 1-2 2-6 4-23 1-5 1-2 1 0 1 4 4 23 2 8 2 4 1 2 2 1 6 2 10 1 9 0 25 0 20 1l0 2-132-2-332 0-254-3-178-2-329-3-88-1-96-8-20-3-48-12-28-4-12-3-12-4-32-12-16-5-32-7-32-11-20-4-21-6-10-2-43 0-77 2-15 2-37 6-56 5z"/><path id="b37" d="M2372 903l20-1 21-3 10-2 8-3 4-2 3-2 3-3 2-3 2-3 2-5 2-6 1-5 2-16 1-12 2-41 1-31 2-85 3-163 1-43 1-22 1 4 1 29 5 252 1 36 2 49 2 27 1 8 2 9 2 6 2 4 3 4 3 3 4 2 5 2 6 1 8 1 14 0 36-1 24 0 2 0 2-2 4-8 1-1 1 1 4 9 1 1 2 1 25 8 24 5 8 2 20 8 8 3 20 4 12 3 16 5 32 11 16 5 36 6 48 10 16 3 96 8 24 1 16 0 15 0 6-1 3-2 5-6 1-1 1 0 1 0 5 7 2 2 2 0 5 1 10 0 14-1 7-2 3-1 2-2 2-3 1-3 2-9 2-18 1-14 5-112 1-14 1-2 1 10 4 93 2 35 2 20 2 10 2 4 3 3 3 1 2 0 1-1 2-2 1-3 5-19 1-2 1 0 1 2 4 16 2 6 1 2 2 2 2 1 2-1 2-2 1-2 2-11 2-21 3-41 1-5 1 2 1 10 4 53 1 1 2-647 10 0 1 50 1 571 1 48 7 0 10 0 36 0 34 0 8 0 3-1 3-2 2-3 4-7 1-2 1 0 1 0 1 2 4 7 2 3 2 2 3 1 12 0 29-2 10-1 4-1 3-1 3-3 2-2 2-3 1-2 2-9 2-19 2-39 4-130 1-22 1-5 1 13 3 90 2 47 1 12 1 2 1-12 1-40 1-95 2-447 4 0 1 64 1 255 1 162 1 86 1 40 1 18 1 9 1 5 1 4 1 2 1 0 1-2 2-10 4-45 1-9 1-3 1 4 1 10 4 50 1 8 2 10 2 5 3 2 5 2 7 1 18 2 12 0 2 0 2-2 5-6 1-1 1 0 1 1 5 7 2 1 2 1 6 0 14 0 10 0 5-1 3-2 2-2 2-6 4-14 1-2 1 0 1 2 1 3 4 15 1 2 2 3 2 2 2 1 10 1 20 1 44 0 44 2 16-1 44-1 44 0 44 0 41 1 11-1 4-1 3-1 2-4 1-3 2-10 4-32 1-7 1-4 1 1 1 4 4 33 2 12 1 4 2 4 2 2 2 1 7 1 15 1 31 0 15 0 6-1 6-2 6-3 11-5 3-2 3 0 3 0 3 1 13 6 8 2 5 0 5 0 4 0 4-1 2-1 2-1 2-4 2-7 1-7 2-24 4-68 1-8 1 0 1 10 3 45 1 9 1 4 1-4 1-11 3-49 1-6 1 3 1 6 1-4 1-44 1-128 1-257 1-124 3 0 2 442 1 123 1 50 1 20 1 10 2 11 1 3 2 4 3 4 4 3 6 2 11 2 24 3 16 0 10-1 2 0 2-2 2-3 1-3 2-9 3-18 1-4 1-3 1 0 1 3 4 23 2 8 2 5 1 1 2 1 5 1 10 1 36 1 21 0l0 3-132-2-332-1-254-2-178-3-329-2-88-2-96-8-20-3-48-12-28-4-12-3-12-4-32-11-16-6-32-7-32-11-20-4-21-6-10-1-43-1-77 3-15 1-37 6-56 5z"/><path id="b38" d="M2372 911l16-2 28-3 7-1 6-2 7-5 3-2 3-4 4-7 3-10 2-13 1-10 2-33 1-26 2-75 4-211 1-37 1-13 1 14 1 37 5 251 1 33 2 45 2 23 1 7 2 9 2 6 2 4 3 3 3 3 3 2 4 1 8 2 27-1 31 2 16-1 8 0 3-2 2-2 3-7 1-1 1 1 4 8 2 2 26 9 8 3 12 1 8 2 12 4 16 6 8 3 28 6 12 3 12 4 24 10 8 2 12 3 16 1 12 1 8 2 20 7 12 3 12 2 28 3 28 4 28 1 28 3 16 0 40-1 4 0 2-1 2-2 2-4 3-8 1-1 1 0 1 1 5 12 1 2 2 1 3 1 6 0 8 0 9-1 9-2 3-1 3-3 2-2 1-3 2-7 2-16 1-13 2-38 3-72 1-18 1-6 1 6 1 17 3 73 2 38 2 23 2 11 2 5 3 4 2 1 2 0 2 0 1-1 2-3 1-3 4-15 1-4 1-2 1 1 1 2 4 17 2 5 1 2 2 2 2 0 2 0 2-2 1-3 2-11 2-21 3-40 1-6 1 2 1 10 4 53 1 1 2-655 10 0 1 58 1 571 1 47 7 1 10 0 28 0 36 0 14-1 3-1 3-2 2-3 4-7 1-2 1 0 1 0 1 2 4 7 2 3 3 2 3 1 19 1 19-1 11-1 4-1 4-2 4-4 3-4 2-7 2-14 2-31 1-24 4-130 1-18 1 0 1 18 3 92 2 43 1 11 1 1 1-13 1-41 1-95 2-447 1-9 3 0 1 72 1 255 1 163 1 85 1 40 1 18 1 9 1 5 1 4 1 1 1 0 1-3 1-5 2-17 3-35 1-7 1 1 1 7 4 51 1 9 2 12 2 6 2 2 2 2 3 1 7 1 8 1 10 1 10-1 4 0 2-1 2-2 5-12 1-1 1 0 1 1 3 8 2 4 2 3 2 1 6 1 11 0 10 0 6 0 3-2 2-3 2-5 4-15 1-2 1 0 1 2 1 3 4 14 2 4 2 3 2 1 8 1 14 1 13 0 34-1 36 1 36-1 36 1 36 0 24 2 12 0 32-1 27 1 10-1 4-1 3-1 2-3 2-5 2-11 4-33 1-6 1-3 1 1 1 5 4 33 2 11 2 6 2 3 2 1 7 1 22 2 11 1 12-1 19-1 9-2 8-2 12-5 5-1 5 1 14 5 7 2 5 0 5 0 5 0 4-2 4-2 2-2 2-6 1-5 2-19 5-81 1-5 1 4 1 12 3 45 1 8 1 2 1-5 1-12 3-49 1-5 1 4 1 6 1-5 1-43 1-129 1-257 1-134 3 0 2 451 1 122 1 50 1 21 1 9 2 11 2 5 3 5 4 3 5 2 6 1 15 2 16 1 13 0 6 0 5-1 2-1 2-2 2-3 1-3 2-9 3-17 1-5 1-3 1 0 1 4 4 22 2 9 2 5 1 1 2 2 3 1 6 1 8 1 7 1 10 0 22-1 8 1 10 0l0 3-132-2-332-1-254-2-178-3-329-2-88-2-96-8-20-3-48-12-28-4-12-3-12-4-32-11-16-6-32-7-32-11-20-4-21-5-10-2-43-1-77 3-15 1-37 6-56 5z"/><path id="b39" d="M2372 919l46-5 6-1 6-2 4-2 3-3 5-5 2-4 2-4 2-6 1-5 2-14 1-12 2-37 1-29 2-81 4-209 1-29 1-3 1 23 1 43 4 208 1 38 2 53 2 29 1 9 2 11 2 6 2 4 3 4 4 4 4 2 4 2 5 1 5 0 27 0 24 1 20 0 8-1 3-1 2-3 3-7 1-1 1 1 4 9 2 2 26 9 8 2 16 2 12 3 28 10 28 7 12 3 32 11 12 4 12 3 20 3 40 10 20 4 12 2 36 3 28 4 8 1 8 0 28 0 8 0 20 3 13 0 9-2 2 0 2-2 2-2 1-2 4-12 1-2 1 0 1 1 5 13 1 2 2 2 4 1 9 0 9 1 7-1 4-1 3-1 3-2 2-2 2-3 1-3 2-10 2-20 1-15 4-93 1-20 1-11 1 2 1 13 5 112 2 25 2 13 2 6 2 3 2 2 2 0 2 1 2-1 2-2 1-2 2-6 3-12 1-3 1-2 1 1 1 3 4 17 2 5 1 2 2 2 2 0 2 0 2-3 1-2 2-11 2-21 3-41 1-6 1 3 1 10 4 52 1 1 2-662 10 0 1 65 1 570 1 48 21 2 12 1 32-1 30 0 3-1 3-2 2-2 4-8 1-1 1-1 1 1 1 1 4 8 2 3 3 2 4 1 8 0 10 0 16-1 8-1 6-2 4-1 4-2 4-3 3-5 2-8 2-16 2-33 5-154 1-13 1 5 1 22 3 93 2 40 1 9 1 0 1-13 1-42 1-96 2-447 1-18 3 0 1 82 1 254 1 163 1 86 1 39 1 18 1 9 1 5 1 3 1 1 1-1 1-4 1-6 4-44 1-9 1-3 1 3 1 10 4 50 1 8 2 10 2 5 3 2 6 3 12 2 9 1 8 0 6 0 3-1 2-2 1-1 5-14 1-1 1 0 1 1 3 9 2 4 1 2 2 2 4 1 16 1 8 0 4 0 3-2 2-2 2-5 4-15 1-2 1-1 1 2 1 2 3 12 2 5 1 2 2 2 2 1 2 0 20 0 23 3 10 1 8-1 20-1 12 0 36 2 44 0 32 0 36 1 32-1 26 0 14-1 6-1 3-1 2-2 2-4 2-8 1-6 4-33 1-6 1-2 1 2 1 6 4 33 2 11 1 3 2 4 2 2 2 1 9 2 11 1 9-1 24-2 26 0 5 0 4-2 14-6 3-1 3-1 5 1 14 5 8 2 5 1 5 0 4-1 3 0 3-2 2-3 2-7 1-6 2-22 4-68 1-11 1-1 1 7 4 58 1 7 1 0 1-6 1-13 3-50 1-4 2 11 1-5 1-44 1-129 1-257 1-142 3 0 2 459 1 122 1 50 1 21 1 10 2 10 1 3 2 5 3 4 2 2 3 2 6 2 10 1 8 1 33-1 6 0 3-2 2-3 1-3 2-8 4-23 1-2 1 0 1 3 4 23 2 8 2 5 1 1 2 2 5 1 9 1 62 0l0 3-132-2-332-1-254-2-178-2-329-3-88-2-96-7-20-4-48-11-28-5-12-3-12-3-32-12-16-5-32-7-32-12-20-4-21-5-10-2-43-1-77 3-15 2-37 6-56 4z"/><path id="b40" d="M2372 929l8-1 8-1 20-5 17-3 8-3 3-1 3-3 4-5 2-3 2-6 2-8 2-16 1-13 2-42 1-31 2-87 3-163 1-42 1-20 1 7 1 31 5 252 1 35 2 47 2 26 1 7 2 10 2 5 2 4 3 4 3 2 5 3 6 2 8 2 8 0 12 1 31-2 28 1 2 0 2-1 4-9 1 0 1 0 4 9 2 2 2 1 28 8 16 3 8 2 32 10 28 6 16 5 12 4 24 10 12 4 8 2 20 1 8 1 12 3 20 6 8 2 8 2 32 3 32 5 40 3 12 0 55 0 5 0 2-1 1-1 2-4 4-11 1-2 1 0 1 2 5 13 1 1 2 2 3 1 6 0 12 0 8-1 4-1 3-1 4-3 2-3 1-2 2-8 2-18 1-14 5-112 1-15 1-3 1 9 1 20 3 72 2 36 2 20 2 10 2 5 3 3 2 1 2 0 2 0 1-1 2-3 1-2 2-7 3-12 1-3 1-1 1 2 1 3 4 16 2 6 2 2 2 1 2 0 2-1 1-1 1-3 2-10 2-21 3-41 1-5 1 2 1 10 4 53 1 1 2-671 10 0 1 74 1 570 1 48 25 0 24 2 8 1 12 0 26-2 3-1 3-2 2-3 4-8 1-1 1 0 1 0 1 2 4 8 2 2 3 3 3 1 6 0 9 0 25-2 10-1 4-1 3-2 4-3 2-3 1-3 2-8 2-18 2-36 1-28 3-101 1-25 1-8 1 10 5 140 1 15 1 7 1-1 1-14 1-43 1-95 2-448 1-26 3 0 1 89 2 417 1 86 1 39 1 18 1 9 1 5 1 3 1 0 1-2 2-11 4-44 1-7 1 0 1 6 5 61 2 12 1 3 2 4 2 2 2 1 4 1 4 1 28 1 6-1 2-1 2-2 5-13 1-1 1 0 1 2 3 9 2 4 1 2 2 2 3 1 7 0 10 0 9-1 2-1 2-1 2-3 2-5 4-14 1-2 1-1 1 2 1 2 4 15 1 3 2 3 2 2 2 1 4 1 6 1 13 0 22-1 10-1 33 3 36-1 36 2 32-1 44 0 44 1 37-2 4-1 3-2 2-2 1-3 2-8 1-6 4-33 1-6 1-1 1 3 1 6 4 33 2 10 2 6 2 2 2 1 3 1 5 0 18 0 9 0 27 2 12 0 6-1 6-2 5-2 13-6 3-1 3-1 5 1 13 7 7 2 4 1 5 0 4-1 4-1 4-2 2-1 1-2 2-5 1-5 2-18 4-66 1-15 1-8 1 2 1 10 3 47 1 11 1 5 1-1 1-7 4-63 1-4 2 12 1-5 1-44 1-130 1-257 1-150 3 0 2 467 1 122 1 51 1 20 1 10 2 10 2 6 3 5 4 4 6 2 5 1 7 1 19 1 15 0 10-1 2-1 2-1 2-4 1-2 2-9 4-23 1-2 1 0 1 3 4 22 2 9 2 4 1 2 2 1 6 2 14 1 12 0 27 0 19 1l0 3-132-2-332-1-254-2-178-2-329-3-88-2-96-7-20-3-48-12-28-5-12-3-12-3-32-12-16-5-32-7-32-11-20-4-21-6-10-2-43-1-77 3-15 2-37 6-56 4z"/><path id="b41" d="M2372 935l16 0 16-2 16-3 8-3 7-4 3-3 3-3 2-3 2-4 3-11 2-13 1-10 2-34 1-27 2-76 4-211 1-35 1-11 1 17 1 38 5 251 1 32 2 43 2 23 1 6 2 9 2 5 2 4 3 4 3 2 4 2 4 2 5 1 6 1 76 0 4-1 2-1 2-2 3-7 1-1 1 1 4 8 1 1 2 1 11 3 18 5 12 3 8 2 32 12 8 2 20 4 20 5 16 5 28 10 12 4 40 7 12 3 28 8 12 2 8 0 24 1 12 0 12 2 20 3 12 1 12 0 28-1 30 1 3 0 2-2 2-3 4-11 1-2 1 0 1 1 5 14 1 1 2 2 3 1 5 0 7 0 8-1 9-2 3-1 3-2 2-2 2-4 2-7 2-16 1-13 2-37 3-73 1-18 1-8 1 5 1 17 3 72 2 39 2 23 2 12 2 5 1 2 2 2 2 1 3 1 2-1 1 0 2-3 1-3 5-19 1-2 1-1 1 2 1 4 4 16 2 5 1 1 2 2 2 0 2-1 2-2 1-3 2-10 2-21 3-41 1-6 1 3 1 10 4 52 1 2 2-679 10 0 1 82 1 571 1 48 7 1 10 0 44 0 20 0 13-1 4-1 3-2 2-3 4-8 1-2 1 0 1 0 1 2 4 7 2 3 3 2 3 1 23 2 14 0 6-1 5-1 4-1 4-2 4-3 3-5 2-7 2-13 2-29 1-23 4-130 1-21 1-3 1 15 3 92 2 47 1 14 1 6 1-2 1-15 1-43 1-96 2-448 1-33 3 0 1 96 2 417 1 86 1 39 1 18 1 9 1 5 1 2 1 0 1-3 1-5 2-19 2-24 1-9 1-4 1 4 1 9 3 40 2 19 2 11 1 3 2 3 2 2 3 2 4 1 5 0 14 1 12-1 5 0 3-2 2-2 5-13 1-2 1 1 1 1 3 9 2 5 1 1 2 2 4 1 7 1 9 1 7-1 2 0 2-2 2-2 2-5 4-15 1-2 1-1 1 1 1 3 4 14 2 5 1 1 2 2 2 0 4 1 34 3 13 0 15 0 32-1 24-1 28 1 32 2 16 0 40-1 44 1 34-2 4-1 3-1 2-2 2-4 2-9 1-7 4-32 1-5 1-1 1 3 1 7 4 33 2 10 1 4 2 3 2 2 2 1 6 1 9 0 34-2 25 1 7 0 5-1 4-1 5-2 11-6 3-1 3 0 5 1 13 5 7 1 5 1 5-1 4 0 4-1 3-2 2-2 2-6 1-6 2-20 4-67 1-13 1-4 1 5 1 13 3 47 1 10 1 4 1-2 1-9 4-64 1-3 2 13 1-5 1-44 1-130 2-417 3 0 2 476 1 122 1 50 1 20 1 10 2 11 2 5 3 5 4 4 6 2 12 2 16 1 15 1 6-1 5-1 2 0 2-2 2-3 1-3 2-8 4-23 1-3 1 0 1 3 4 22 2 9 2 4 1 2 2 1 4 1 9 1 67 3l0 2-132-2-332-1-254-2-178-2-329-3-88-1-96-8-20-3-48-12-28-5-12-2-12-4-32-12-16-5-32-7-32-11-20-4-21-6-10-2-43-1-77 3-15 2-37 6-56 5z"/><path id="b42" d="M2372 944l12-1 20-3 16-2 6-1 5-2 3-1 3-3 3-3 2-3 3-6 2-6 1-5 2-15 1-11 2-39 1-29 2-83 4-209 1-27 1-1 1 26 1 44 4 207 1 37 2 52 2 28 1 8 2 10 2 6 2 4 3 4 3 3 4 2 5 2 6 2 6 0 50 2 16 0 10-1 4-1 2-2 4-8 1-1 1 0 4 9 1 1 2 1 10 3 19 6 16 3 8 2 8 3 16 6 8 3 8 2 16 2 12 3 12 4 24 11 12 4 12 3 24 4 24 5 48 10 8 1 32 1 8 1 24 3 12 1 28 1 24 0 16 0 7-1 3-1 2-3 1-2 4-11 1-2 1 0 1 2 5 13 1 2 2 2 4 1 7 1 8 0 7 0 4-1 4-2 3-2 2-2 2-3 1-3 2-9 2-20 1-15 5-112 1-12 1 0 1 13 4 93 2 34 2 19 2 9 2 4 3 3 3 1 2 1 2-1 1 0 2-3 1-3 5-19 1-2 1 0 1 2 4 16 2 6 1 2 2 2 2 1 3-1 2-3 1-2 2-11 2-21 3-41 1-5 1 2 1 10 4 52 1 2 2-687 10 0 1 91 1 571 1 47 10 2 11 0 32-2 28 0 14-1 3 0 3-3 2-2 4-8 1-1 1-1 1 1 1 1 4 8 3 4 3 2 5 1 8 1 8 0 12-1 8-1 7-2 6-2 4-2 4-3 3-5 2-7 2-15 2-31 1-25 4-129 1-16 1 2 1 19 3 94 2 45 1 11 1 5 1-2 1-16 1-43 1-97 2-448 1-42 3 0 1 105 2 417 1 86 1 39 1 17 1 9 1 4 1 2 1-1 1-4 1-6 4-44 1-7 1 0 1 6 4 51 2 17 2 9 1 3 2 3 3 2 4 1 5 2 6 1 13 0 7 0 6-1 3-1 2-2 2-4 4-11 1-1 1 0 1 2 3 8 2 5 1 1 2 2 4 1 8 1 9 0 5 0 3-1 2-3 1-2 2-6 3-11 1-3 1-1 1 1 1 3 4 14 2 5 1 1 2 2 2 1 4 0 27 2 10 0 27-1 36 2 28-1 32 2 32 0 28 1 12-1 24-1 34 1 9 0 8 0 7-2 4-1 2-1 2-4 2-6 1-6 5-40 1-4 1 0 1 4 4 33 2 12 1 4 2 5 2 2 2 1 4 1 6 1 29-1 27 2 13 0 6-1 5-2 6-2 12-6 3-1 3-1 5 1 13 6 7 2 4 1 5 0 5-1 4-1 2-1 2-1 2-4 2-7 1-6 2-22 4-68 1-10 1 0 1 8 4 61 1 8 1 3 1-3 1-10 3-52 1-12 1-2 2 14 1-5 1-44 1-131 2-427 3 0 2 485 1 123 1 50 1 20 1 10 2 10 2 6 3 5 3 2 5 2 9 2 30 0 10 0 6-1 3-2 2-3 1-3 2-8 4-22 1-3 1 0 1 2 4 23 2 9 2 4 1 2 2 1 3 2 7 1 17 2 11 0 25-2 19 1l0 3-132-2-332-1-254-2-178-2-329-3-88-1-96-8-20-3-48-12-28-5-12-2-12-4-32-12-16-5-32-7-32-11-20-4-21-6-10-2-43 0-77 2-15 2-37 6-56 5z"/><path id="b43" d="M2372 952l24-2 14-1 10-2 8-3 4-2 3-3 5-5 4-7 3-10 2-12 1-9 2-32 1-24 2-73 4-210 1-40 1-18 1 9 1 33 5 252 1 34 2 47 2 25 1 7 2 10 2 5 2 4 3 4 3 3 4 2 5 2 6 2 6 1 12 0 22-2 12-1 8 0 24 3 2-1 2-1 4-8 1-1 1 1 4 9 2 1 2 1 24 5 16 2 8 2 8 3 20 9 8 3 8 1 20 4 12 3 12 4 28 11 12 4 8 1 16 2 12 3 12 3 24 6 16 3 12 2 16 0 12 1 32 5 12 2 16 0 32-1 37 2 4 0 2-2 2-3 4-11 1-2 1 0 1 1 5 13 1 2 2 1 2 1 3 0 12-1 7-1 6-2 4-1 3-2 2-3 2-4 2-8 2-17 1-13 2-39 3-73 1-16 1-4 1 9 1 18 3 73 2 37 2 21 2 11 2 5 3 4 4 2 2 0 2 0 2-2 2-5 4-16 1-3 1-2 1 1 1 3 4 16 2 6 1 2 2 2 2 0 3-1 2-2 1-3 2-10 2-22 3-40 1-6 1 2 1 10 4 52 1 2 2-696 10 0 1 98 1 571 1 47 69 3 16 0 9-1 4-1 3-2 2-3 4-8 1-1 1-1 1 1 1 1 4 8 2 2 2 2 3 1 10 0 32-1 9-1 6-2 4-3 2-3 1-3 2-7 2-17 2-34 4-127 1-27 1-12 1 8 1 23 3 94 2 41 1 10 1 4 1-4 1-17 1-43 1-97 2-448 1-51 3 0 1 113 2 417 1 85 1 40 1 17 1 8 1 4 1 1 1-2 2-12 3-34 1-10 1-4 1 3 1 8 3 40 2 20 2 11 1 3 2 3 2 2 3 2 10 2 19 3 8 0 4 0 3-2 2-2 5-13 1-2 1 1 1 1 3 9 2 4 1 2 2 2 3 0 5 1 9-1 6 0 2-1 2-1 2-2 2-5 4-15 1-2 1-1 1 0 1 3 4 14 1 3 2 4 2 2 2 0 8 2 25 1 17 1 16 0 28-1 16 0 12 0 36 2 12 0 32-1 12 0 48 2 20-1 34-2 4 0 3-2 2-2 2-5 2-10 4-32 1-7 1-4 1 1 1 5 4 33 2 12 1 3 2 5 2 2 2 1 7 1 12 1 45 0 16-1 7-1 6-2 5-2 12-6 3-1 3 0 3 0 3 1 13 6 7 3 4 0 5 1 4-1 4-1 2-1 2-1 2-4 2-8 1-8 2-24 4-67 1-7 1 2 1 11 4 61 1 7 1 1 1-4 1-11 3-53 1-12 1-1 2 14 1-5 1-45 1-131 2-434 3 0 2 491 1 122 1 50 1 20 1 10 2 11 2 5 3 5 4 4 6 2 12 3 14 2 14 0 6 0 4-1 2-1 2-1 2-4 1-2 2-9 4-23 1-3 1 0 1 3 4 22 2 9 2 4 1 2 2 1 3 1 5 1 37 3 15 0 24-1l0 3-132-2-332 0-254-3-178-2-329-3-88-1-96-8-20-3-48-12-28-4-12-3-12-4-32-12-16-5-32-7-32-11-20-4-21-6-10-2-43 0-77 2-15 2-37 6-56 5z"/><path id="b44" d="M2372 961l12-1 12-1 24-6 10-4 6-3 3-3 2-3 3-5 2-6 1-4 2-14 1-10 2-35 1-28 2-77 4-211 1-33 1-8 1 19 1 40 4 209 1 39 2 56 2 30 2 16 2 8 2 5 3 5 3 2 5 3 6 2 9 2 14 1 17 1 30-2 20 1 2 0 2-2 4-8 1-1 1 1 4 9 2 2 3 1 23 6 8 1 8 1 8 2 8 2 20 8 8 2 20 5 28 10 52 15 40 8 28 8 12 2 12 2 20-1 8 1 12 1 20 5 8 1 8 0 12 0 28 0 41 0 4 0 2-2 2-3 4-11 1-2 1 0 1 1 5 14 1 1 2 2 3 1 4 1 6-1 7 0 5-1 5-2 3-1 3-2 2-2 2-4 2-7 2-15 2-29 4-93 1-18 1-9 1 4 1 15 3 73 2 39 2 24 2 12 2 6 3 4 2 1 3 1 2 0 2-1 2-2 1-2 2-7 3-12 1-3 1-1 1 1 1 3 4 16 2 5 1 2 2 2 3 0 2-1 2-2 1-3 2-11 2-21 3-40 1-6 1 3 1 10 4 52 1 2 2-704 10 0 1 107 1 571 1 48 8 0 9 1 32-2 8 0 24 2 7 0 6 0 4-1 3-3 2-3 4-8 1-1 1 0 1 0 1 1 4 8 2 2 3 3 3 0 23 1 14 0 11-2 4-2 4-2 4-3 2-4 1-2 2-8 2-19 2-37 1-28 3-101 1-24 1-6 1 12 4 120 2 37 1 9 1 3 1-4 1-17 1-44 1-97 2-448 1-59 3 0 1 121 2 417 1 85 1 39 1 17 1 8 1 4 1 0 1-3 1-6 4-42 1-7 1-2 1 6 4 51 2 18 2 9 1 3 2 3 3 2 4 1 5 2 7 1 14 1 7 0 5 0 3-1 2-2 2-4 4-11 1-2 1 0 1 2 3 8 2 5 1 1 2 2 3 1 5 0 10 1 5-1 2 0 1-1 2-3 2-6 3-11 1-3 1-1 1 1 1 2 4 15 2 5 1 1 2 2 2 1 3 0 24 1 32 1 9 0 20-2 12 0 8 1 24 2 12 0 40-1 28 0 44 2 12 0 24-2 25-1 4 0 3-2 2-4 1-3 2-10 4-33 1-7 1-3 1 2 1 5 4 33 2 11 1 4 2 4 2 2 2 1 7 1 28 2 9 0 9 0 39-5 7-2 13-5 5 0 3 0 3 1 12 5 7 2 4 1 5 0 5-1 4-1 4-3 2-2 2-7 1-6 2-20 4-68 1-12 1-3 1 6 1 13 3 49 1 10 1 6 1 0 1-5 1-12 3-53 1-11 1 0 2 15 1-6 1-45 1-131 2-443 3 0 2 499 1 122 1 51 1 20 1 10 2 10 1 4 2 4 3 4 4 3 6 3 11 2 12 0 15 0 6 0 4-1 3-2 2-3 1-3 2-8 4-22 1-4 1 0 1 3 1 5 3 18 2 8 2 5 1 2 2 1 5 2 9 1 9 0 28 0 35 2l0 2-132-2-332-1-254-2-178-3-329-2-88-2-96-8-20-3-48-12-28-4-12-3-12-4-32-11-16-6-32-7-32-11-20-4-21-6-10-1-43-1-77 3-15 1-37 6-56 5z"/></defs>
<g transform="scale(0.25)" fill="#fff" stroke="#000" stroke-width="1.80" stroke-linejoin="round">
<use href="#b0" stroke-dasharray="6255.9 99999"/><use href="#b0" fill="none" stroke-width="3.60" stroke-dasharray="0 80.6 854.4 652.9 337.0 33.9 38.0 21.7 146.1 932.4 1196.3 114.9 35.0 350.4 101.3 187.6 931.1 85.4 52.1 99999"/>
<use href="#b1" stroke-dasharray="6301.1 99999"/><use href="#b1" fill="none" stroke-width="3.60" stroke-dasharray="0 81.1 851.8 658.2 340.1 26.4 43.0 21.8 146.1 947.1 1209.9 115.5 42.4 341.6 105.1 194.9 932.6 88.5 53.1 99999"/>
<use href="#b2" stroke-dasharray="6327.7 99999"/><use href="#b2" fill="none" stroke-width="3.60" stroke-dasharray="0 79.8 848.4 657.7 339.4 24.5 41.8 22.6 145.1 962.3 1226.7 117.6 36.0 354.2 95.4 192.3 941.7 89.9 52.0 99999"/>
<use href="#b3" stroke-dasharray="6379.7 99999"/><use href="#b3" fill="none" stroke-width="3.60" stroke-dasharray="0 82.0 855.3 655.5 337.0 25.4 41.6 23.9 145.2 977.0 1242.9 119.0 37.3 351.9 95.0 183.7 962.4 91.7 54.0 99999"/>
<use href="#b4" stroke-dasharray="6416.2 99999"/><use href="#b4" fill="none" stroke-width="3.60" stroke-dasharray="0 79.7 850.8 658.9 341.1 29.8 38.6 19.9 145.2 994.5 1261.4 113.8 38.3 351.5 99.6 187.4 962.5 94.3 52.5 99999"/>
<use href="#b5" stroke-dasharray="6446.9 99999"/><use href="#b5" fill="none" stroke-width="3.60" stroke-dasharray="0 76.3 858.2 653.5 335.1 30.3 38.6 20.3 146.3 1014.2 1264.1 121.1 38.9 349.2 101.3 183.0 973.5 96.1 53.0 99999"/>
<use href="#b6" stroke-dasharray="6495.3 99999"/><use href="#b6" fill="none" stroke-width="3.60" stroke-dasharray="0 83.0 854.7 660.7 337.0 24.9 41.6 21.7 146.1 1027.0 1275.1 124.6 38.7 349.9 100.5 177.0 990.3 97.9 53.0 99999"/>
<use href="#b7" stroke-dasharray="6525.5 99999"/><use href="#b7" fill="none" stroke-width="3.60" stroke-dasharray="0 80.9 847.9 658.6 338.3 22.0 42.6 21.9 144.4 1043.6 1294.3 124.8 34.7 351.9 100.5 184.1 992.4 99.5 53.1 99999"/>
<use href="#b8" stroke-dasharray="6569.5 99999"/><use href="#b8" fill="none" stroke-width="3.60" stroke-dasharray="0 83.9 854.4 659.3 331.9 22.7 47.1 17.9 145.3 1066.0 1302.6 128.7 35.6 355.7 94.9 180.9 1000.3 102.2 53.4 99999"/>
<use href="#b9" stroke-dasharray="6612.7 99999"/><use href="#b9" fill="none" stroke-width="3.60" stroke-dasharray="0 82.1 850.8 662.1 337.0 24.1 43.1 18.6 145.2 1079.5 1322.4 124.8 38.2 352.2 96.4 174.2 1019.6 104.9 52.1 99999"/>
<use href="#b10" stroke-dasharray="6631.4 99999"/><use href="#b10" fill="none" stroke-width="3.60" stroke-dasharray="0 80.4 855.9 653.4 333.3 25.0 43.0 19.3 147.1 1092.5 1332.7 126.9 35.0 354.6 100.3 174.9 1013.5 106.9 53.4 99999"/>
<use href="#b11" stroke-dasharray="6509.2 99999"/><use href="#b11" fill="none" stroke-width="3.60" stroke-dasharray="0 85.8 802.4 677.3 304.0 18.1 38.2 20.0 144.2 1113.7 1281.0 135.7 31.9 347.5 91.5 171.2 1008.8 103.3 54.6 99999"/>
<use href="#b12" stroke-dasharray="6197.4 99999"/><use href="#b12" fill="none" stroke-width="3.60" stroke-dasharray="0 85.9 710.4 701.5 241.1 20.5 27.2 19.9 143.3 1134.0 1057.0 1.0 102.8 148.2 6.1 358.0 66.7 180.6 961.8 115.5 36.2 99999"/>
<use href="#b13" stroke-dasharray="5903.3 99999"/><use href="#b13" fill="none" stroke-width="3.60" stroke-dasharray="0 106.3 571.2 750.6 159.5 90.6 138.9 1149.0 966.8 6.4 64.0 522.3 43.5 182.6 930.7 117.7 25.0 99999"/>
<use href="#b14" stroke-dasharray="5778.3 99999"/><use href="#b14" fill="none" stroke-width="3.60" stroke-dasharray="0 113.2 508.1 764.6 71.6 132.5 137.0 1167.7 918.5 12.3 27.7 560.5 5.6 201.2 935.6 99999"/>
<use href="#b15" stroke-dasharray="5914.0 99999"/><use href="#b15" fill="none" stroke-width="3.60" stroke-dasharray="0 161.2 276.7 991.5 27.5 182.1 135.0 1189.6 927.0 853.7 53.5 0.0 881.5 99999"/>
<use href="#b16" stroke-dasharray="6082.9 99999"/><use href="#b16" fill="none" stroke-width="3.60" stroke-dasharray="0 1719.8 129.9 1251.5 888.5 940.1 909.5 99999"/>
<use href="#b17" stroke-dasharray="6154.7 99999"/><use href="#b17" fill="none" stroke-width="3.60" stroke-dasharray="0 1733.5 129.9 1333.7 841.4 945.5 925.5 99999"/>
<use href="#b18" stroke-dasharray="6200.8 99999"/><use href="#b18" fill="none" stroke-width="3.60" stroke-dasharray="0 1729.7 129.0 1349.0 856.4 947.1 943.5 99999"/>
<use href="#b19" stroke-dasharray="6250.6 99999"/><use href="#b19" fill="none" stroke-width="3.60" stroke-dasharray="0 1731.7 129.9 1366.0 874.4 1040.5 862.3 99999"/>
<use href="#b20" stroke-dasharray="6297.2 99999"/><use href="#b20" fill="none" stroke-width="3.60" stroke-dasharray="0 1733.0 128.0 1381.5 890.4 1039.9 878.4 99999"/>
<use href="#b21" stroke-dasharray="6348.3 99999"/><use href="#b21" fill="none" stroke-width="3.60" stroke-dasharray="0 1733.2 129.9 1347.2 957.5 1040.1 895.4 99999"/>
<use href="#b22" stroke-dasharray="6395.6 99999"/><use href="#b22" fill="none" stroke-width="3.60" stroke-dasharray="0 1731.7 129.9 1413.0 921.4 948.3 1005.5 99999"/>
<use href="#b23" stroke-dasharray="6451.8 99999"/><use href="#b23" fill="none" stroke-width="3.60" stroke-dasharray="0 1735.8 130.9 1381.1 990.5 1040.4 926.3 99999"/>
<use href="#b24" stroke-dasharray="6492.9 99999"/><use href="#b24" fill="none" stroke-width="3.60" stroke-dasharray="0 1731.2 129.9 1397.0 1006.9 1040.7 941.3 99999"/>
<use href="#b25" stroke-dasharray="6543.8 99999"/><use href="#b25" fill="none" stroke-width="3.60" stroke-dasharray="0 1730.1 129.9 1429.7 1006.5 1041.7 959.3 99999"/>
<use href="#b26" stroke-dasharray="6590.6 99999"/><use href="#b26" fill="none" stroke-width="3.60" stroke-dasharray="0 1734.9 128.9 1443.7 1021.5 1040.1 973.3 99999"/>
<use href="#b27" stroke-dasharray="6641.5 99999"/><use href="#b27" fill="none" stroke-width="3.60" stroke-dasharray="0 1733.4 130.9 1460.3 1040.5 1038.5 992.3 99999"/>
<use href="#b28" stroke-dasharray="6664.1 99999"/><use href="#b28" fill="none" stroke-width="3.60" stroke-dasharray="0 1711.6 129.9 1479.7 1053.5 954.0 1091.5 99999"/>
<use href="#b29" stroke-dasharray="6589.1 99999"/><use href="#b29" fill="none" stroke-width="3.60" stroke-dasharray="0 160.9 275.8 993.3 25.1 180.0 134.1 1423.6 1146.9 848.8 48.5 22.1 1095.5 99999"/>
<use href="#b30" stroke-dasharray="6558.1 99999"/><use href="#b30" fill="none" stroke-width="3.60" stroke-dasharray="0 113.5 507.1 765.4 73.4 133.5 137.0 1431.4 1176.5 11.8 27.7 559.8 5.6 204.3 1188.5 99999"/>
<use href="#b31" stroke-dasharray="6785.2 99999"/><use href="#b31" fill="none" stroke-width="3.60" stroke-dasharray="0 106.3 570.2 749.9 160.1 90.7 138.0 1442.8 1259.7 6.4 64.8 527.1 38.6 178.8 1234.0 111.8 26.3 99999"/>
<use href="#b32" stroke-dasharray="7172.0 99999"/><use href="#b32" fill="none" stroke-width="3.60" stroke-dasharray="0 84.5 709.4 700.7 241.1 20.5 27.1 24.0 140.0 1461.1 1385.1 1.4 102.0 146.2 7.3 362.5 62.5 178.0 1291.9 107.4 39.4 99999"/>
<use href="#b33" stroke-dasharray="7586.3 99999"/><use href="#b33" fill="none" stroke-width="3.60" stroke-dasharray="0 85.8 808.5 670.5 308.1 18.9 37.0 19.5 145.1 1476.7 1635.7 133.2 31.9 351.5 93.4 170.5 1363.3 103.1 58.7 99999"/>
<use href="#b34" stroke-dasharray="7798.7 99999"/><use href="#b34" fill="none" stroke-width="3.60" stroke-dasharray="0 82.4 850.6 660.9 330.8 24.3 42.7 19.3 145.2 1484.0 1722.9 126.5 34.7 354.0 100.3 173.5 1400.3 110.4 53.5 99999"/>
<use href="#b35" stroke-dasharray="7882.5 99999"/><use href="#b35" fill="none" stroke-width="3.60" stroke-dasharray="0 83.5 855.0 655.1 340.1 23.9 43.0 20.0 146.1 1502.3 1747.8 123.6 39.1 351.9 95.4 177.8 1432.3 107.7 52.1 99999"/>
<use href="#b36" stroke-dasharray="7939.4 99999"/><use href="#b36" fill="none" stroke-width="3.60" stroke-dasharray="0 83.9 852.8 659.6 335.0 22.7 46.3 18.1 147.1 1518.9 1761.3 129.2 34.6 355.8 95.0 178.8 1454.1 99.9 59.1 99999"/>
<use href="#b37" stroke-dasharray="8006.6 99999"/><use href="#b37" fill="none" stroke-width="3.60" stroke-dasharray="0 79.5 851.1 667.7 338.2 21.3 41.6 20.9 145.3 1534.9 1786.0 129.0 38.7 344.0 104.6 182.6 1475.8 103.0 53.0 99999"/>
<use href="#b38" stroke-dasharray="8094.5 99999"/><use href="#b38" fill="none" stroke-width="3.60" stroke-dasharray="0 83.0 854.7 677.5 339.2 24.8 43.0 20.4 145.3 1547.8 1801.5 140.8 38.7 344.9 104.6 179.3 1504.3 98.6 53.0 99999"/>
<use href="#b39" stroke-dasharray="8155.3 99999"/><use href="#b39" fill="none" stroke-width="3.60" stroke-dasharray="0 78.9 855.6 608.2 4.7 68.7 335.1 30.6 39.8 20.3 146.2 1562.5 1824.4 73.2 3.8 63.0 36.0 352.9 100.4 183.1 1522.1 98.9 53.1 99999"/>
<use href="#b40" stroke-dasharray="8211.3 99999"/><use href="#b40" fill="none" stroke-width="3.60" stroke-dasharray="0 80.0 849.8 610.0 5.5 65.5 338.2 30.4 38.8 20.2 144.4 1582.0 1839.8 74.0 4.7 61.7 38.2 351.4 99.5 188.0 1546.5 94.5 52.1 99999"/>
<use href="#b41" stroke-dasharray="8284.3 99999"/><use href="#b41" fill="none" stroke-width="3.60" stroke-dasharray="0 81.6 853.7 608.6 4.7 65.6 341.1 25.9 46.1 19.9 146.1 1597.0 1863.0 73.8 5.1 59.5 38.3 351.9 99.5 184.4 1575.4 92.1 53.0 99999"/>
<use href="#b42" stroke-dasharray="8327.3 99999"/><use href="#b42" fill="none" stroke-width="3.60" stroke-dasharray="0 75.1 856.1 607.2 5.5 67.0 338.0 24.1 41.6 22.6 145.2 1613.7 1878.3 74.2 4.7 59.7 35.1 353.7 95.0 192.7 1596.2 88.7 52.1 99999"/>
<use href="#b43" stroke-dasharray="8393.8 99999"/><use href="#b43" fill="none" stroke-width="3.60" stroke-dasharray="0 80.7 851.8 610.9 4.7 64.9 340.1 27.1 43.0 22.5 145.2 1629.0 1899.1 75.0 5.1 54.9 37.9 344.8 105.6 194.7 1612.9 88.8 53.0 99999"/>
<use href="#b44" stroke-dasharray="8444.4 99999"/><use href="#b44" fill="none" stroke-width="3.60" stroke-dasharray="0 80.0 849.8 609.2 4.7 71.3 331.9 33.3 38.0 21.7 146.1 1647.8 1914.7 75.2 5.5 54.8 35.2 344.5 105.4 192.2 1636.8 88.1 54.0 99999"/>
</g>
<rect x="792.8" y="73.6" width="8.0" height="3" fill="#fff"/>
<rect x="848.6" y="73.6" width="8.0" height="3" fill="#fff"/>
<rect x="1022.6" y="73.6" width="8.0" height="3" fill="#fff"/>
<defs><path id="d0" d="M2372 1482l12-1 12-2 12-3 15-6 8-4 5-3 2-3 2-3 2-5 2-12 1-10 2-36 2-64 3-125 1-25 1-3 1 21 4 159 1 29 2 38 1 10 2 12 1 3 2 3 2 2 2 2 3 1 5 1 8 0 7-1 28-5 2-1 2-2 2-5 3-9 1-2 1-1 1 1 5 8 2 1 3 0 16 1 23 3 2-1 2-1 4-6 1 0 1 0 1 2 4 11 2 4 3 3 11 5 8 4 24 16 8 5 8 3 12 3 8 3 8 4 20 12 12 6 24 14 8 3 4 2 12 3 4 1 24 12 8 3 16 3 8 2 20 6 16 3 24 5 8 1 20 2 24 4 20 1 24 3 8 1 8 0 20-2 8-1 12 1 20 1 8 0 17-1 13-2 2-1 2-1 2-4 1-3 2-9 4-29 1-6 1-2 1 2 1 5 4 26 1 4 1 1 1-1 1-4 4-25 1-5 1-2 1 2 1 6 4 29 1 5 2 6 1 1 1 0 1-1 1-3 2-7 3-16 1-4 1-1 1 2 1 3 3 16 2 9 1 3 2 4 2 1 2 1 14 2 1-19 1-339 12 0 1 341 1 19 11 1 10 0 28 0 28 1 14 0 3-1 3-2 2-3 5-12 1-1 1 0 1 1 1 2 5 11 2 3 2 1 5 1 12 1 10-1 7-1 3-1 2-1 2-4 1-3 2-11 4-31 1-4 1 0 1 4 3 23 2 11 1 3 1 0 1-1 2-9 4-31 1-4 1 0 3 10 1-1 1-4 3-25 1-3 1 3 4 35 1 4 1 1 1-3 1-6 2-18 2-23 2-31 1-210 1-31 11 0 1 48 1 307 1 7 17 1 21 2 12 1 8 0 20-2 8 0 9 0 17 1 6 0 3-1 2-3 2-5 4-14 1-3 1 0 1 1 1 3 4 14 2 5 1 1 2 1 4 1 44 1 33-1 48 1 40 0 32-1 12 1 24 2 8 0 32-2 8 0 20 1 7 0 4-1 2 0 2-2 2-4 2-7 4-21 1-3 1-2 1 2 1 3 4 21 2 6 2 4 2 2 2 0 26 3 13 1 11-1 25-2 8 0 20 1 6-1 3-1 2-2 2-4 4-10 1-2 1 0 1 1 4 10 2 4 2 2 2 0 2-1 2-3 5-13 1-1 1 0 1 1 4 10 2 3 2 2 1 0 2 0 2-1 1-1 2-3 1-4 2-10 4-32 1-6 1-2 1 1 1 5 3 18 1 4 1 1 1-2 1-4 3-20 1-6 1-2 1 1 1 5 3 20 2 8 1 1 1-2 1-5 1-11 1-28 1-67 1-144 1-76 5 0 1 36 1 165 1 80 1 34 1 15 2 14 1 4 2 5 3 5 3 2 4 3 6 1 8 2 8 0 14 0 10-1 3 0 2-2 1-2 2-4 4-12 1-2 1 0 1 1 1 3 4 13 2 3 1 1 2 2 2 0 3 0 3-1 2-1 1-1 2-4 4-13 1-2 1-1 1 1 1 2 3 9 2 5 2 3 2 2 3 0 16 1 25 3 8 0 9 0l0 1-489-1-215-1-146-2-161 0-68-3-107-4-115 0-44-3-48-6-28-6-24-5-24-6-12-3-8-2-28-13-20-7-28-16-20-8-28-16-16-6-8-3-37-22-9-4-9-3-40-4-41 1-10 1-21 5-17 3-26 7-21 2-36 8-16 2z"/><path id="d1" d="M2372 1490l12-2 16-3 16-4 11-4 6-3 4-3 3-4 2-5 2-9 1-9 2-30 2-58 4-159 1-13 1 10 4 155 1 33 2 44 1 12 2 14 1 4 2 4 2 2 2 2 3 1 5 1 4 1 5 0 9-1 25-4 2-2 2-2 2-5 3-9 1-2 1-1 1 1 5 8 2 1 3 0 18 0 21 2 2-1 2-1 4-6 1 0 1 0 1 2 4 11 2 4 2 3 2 1 14 8 28 17 12 5 16 5 4 2 8 4 20 13 4 2 12 5 4 1 20 12 8 4 4 2 12 2 4 2 8 3 16 8 8 3 16 4 24 8 8 2 16 2 28 6 20 2 28 4 52 3 36-1 44 1 13-1 9-1 2-1 2-2 2-3 1-3 2-9 4-30 1-5 1-3 1 1 1 4 4 26 1 4 1 1 1-1 1-3 4-25 1-5 1-3 1 2 1 5 3 22 2 12 1 4 1 2 1 2 1 0 1-1 1-2 2-8 3-15 1-4 1-1 1 1 1 4 5 25 1 3 2 4 2 2 3 1 13 3 1-19 1-348 12 0 1 350 1 18 81 3 11 0 3-1 2-2 2-3 5-12 1-1 1 0 1 1 1 2 5 11 2 3 2 1 4 1 9 0 13-1 8-1 3-1 2-2 2-3 1-3 2-10 4-32 1-4 1 0 1 4 3 23 2 11 1 3 1 1 1-2 2-9 4-31 1-4 1 0 3 9 1 0 1-4 3-25 1-3 1 3 4 36 1 4 1 0 1-3 1-6 2-17 2-24 2-30 1-210 1-40 11 0 1 58 1 306 1 8 14 0 40 0 48 0 11 0 5 0 3-2 2-2 2-5 4-15 1-2 1-1 1 1 1 3 4 15 1 2 2 4 2 2 2 0 8 1 16 1 17 1 50-1 48 1 48-1 12 0 28 2 16 1 16-1 28-2 26-1 3 0 2-1 2-3 1-2 2-7 4-20 1-4 1-1 1 2 1 4 4 21 2 7 1 2 2 2 2 1 2 1 6 1 9 0 30-2 12 0 12 0 24 2 8 0 5 0 3-1 2-2 1-1 2-4 4-11 1-1 1 0 1 1 4 9 2 4 2 2 2 0 2-1 2-3 5-13 1-2 1 0 1 1 4 9 2 4 2 2 2 0 2-1 2-1 2-4 1-3 2-11 4-32 1-6 1-2 1 2 1 4 3 19 1 4 1 1 1-1 1-5 3-20 1-5 1-3 1 2 1 5 3 20 2 9 1 1 1-2 1-5 1-11 1-28 1-67 1-144 1-85 5 0 1 46 1 165 1 80 1 34 1 15 2 14 1 3 2 6 3 5 3 2 4 2 5 2 9 1 8 0 16-1 8 0 2-1 2-1 2-2 2-5 4-12 1-2 1 0 1 1 1 3 4 12 2 4 1 1 2 2 3 0 3 0 3-1 2-2 1-1 2-5 3-10 1-2 1-1 1 1 1 2 5 15 2 3 3 2 3 0 5 1 31-1 21 0l0 4-489-1-215-2-146-1-161-1-68-3-107-4-115 0-44-3-48-6-28-6-24-4-24-7-12-2-8-3-28-13-20-7-28-16-20-8-28-16-16-6-8-3-37-21-9-5-9-2-40-4-41 0-10 1-21 5-17 3-26 7-21 3-36 7-16 2z"/><path id="d2" d="M2372 1500l8-1 12-3 28-8 10-4 5-2 4-4 2-3 2-6 2-12 1-10 2-37 2-66 3-125 1-23 1-1 1 23 4 159 2 50 1 15 2 16 1 5 2 4 2 3 2 1 3 1 3 1 4 1 5 0 7-1 17-3 12-2 2-1 2-3 2-4 3-9 1-2 1-1 1 1 5 8 2 1 3 1 17 1 22 2 2 0 2-2 4-5 1 0 1 0 1 2 4 11 2 4 2 2 2 2 14 7 28 16 8 4 8 4 12 3 4 2 28 16 4 1 12 4 4 2 8 4 12 8 8 4 4 2 12 4 4 1 24 12 8 3 16 4 20 6 8 2 16 3 24 5 12 2 16 2 20 2 12 1 48 2 40 1 48-1 8 0 6-1 2 0 2-2 2-3 1-2 2-9 4-29 1-6 1-3 1 0 1 4 4 26 1 4 1 2 1-1 1-2 5-31 1-3 1 1 1 4 5 35 1 4 1 3 1 1 1 1 1-1 2-5 4-20 1-4 1-2 1 1 1 3 5 25 1 4 2 4 2 2 3 1 5 1 8 1 1-18 1-357 12 0 1 357 1 19 33 0 12 1 20 2 12 0 8 0 6 0 3-1 3-2 2-4 5-11 1-2 1 0 1 1 1 2 5 12 2 2 2 1 2 1 4 1 15 1 8 0 6-1 2-1 2-1 2-3 1-4 2-10 4-31 1-5 1-1 1 4 3 23 2 11 1 3 1 1 1-1 2-9 4-32 1-4 1-1 3 9 1 0 1-4 3-25 1-3 1 3 4 36 1 4 1 0 1-3 1-6 2-17 2-24 2-30 1-210 1-48 11 0 1 66 1 306 1 8 13 0 33-1 32 2 12 0 17-1 11-1 3-1 2-3 1-2 2-5 3-11 1-3 1-1 1 1 1 3 4 14 1 3 2 4 2 2 2 1 4 1 7 1 14 0 33-1 37 2 40-2 40 2 36-2 40 2 12 0 24-1 27 0 3-1 2-1 2-2 1-3 2-7 4-20 1-4 1 0 1 1 1 4 3 16 2 8 1 3 2 3 1 1 2 1 5 0 24 0 25 2 10 0 10 0 34-3 3-1 2-2 2-4 4-10 1-1 1 0 1 1 1 2 4 10 1 2 2 2 1 0 2 0 2-2 2-3 4-11 1-1 1 0 1 1 4 10 2 3 2 2 2 0 2 0 2-2 2-4 1-3 2-11 4-32 1-6 1-3 1 2 1 4 3 19 1 4 1 1 1-2 1-4 3-21 1-5 1-2 1 1 1 5 3 20 2 9 1 1 1-2 1-5 1-11 1-28 1-67 2-237 5 0 1 54 1 164 1 80 1 35 1 15 2 13 1 4 2 6 2 3 3 3 4 3 5 1 10 1 33 0 3-1 2-3 2-4 4-12 1-2 1 0 1 1 1 3 4 12 2 4 1 1 2 2 3 0 3 0 3-1 2-2 1-2 2-5 3-9 1-3 1-1 1 0 1 2 5 15 2 3 3 2 4 0 37 3 9 0 10 0l0 2-489-1-215-1-146-2-161-1-68-3-107-4-115 1-44-3-48-6-28-7-24-4-24-7-12-2-8-3-28-13-20-6-28-17-20-8-28-16-16-5-8-4-37-21-9-4-9-3-40-4-41 0-10 1-21 6-17 2-26 7-21 3-36 7-16 2z"/><path id="d3" d="M2372 1508l12-2 21-6 18-4 7-2 4-2 4-3 3-5 2-5 2-10 1-8 2-32 2-59 3-127 1-31 1-12 1 13 1 32 4 156 2 42 1 12 2 13 1 3 2 4 2 2 2 2 4 2 5 1 5 0 5 0 11-1 20-5 2-1 2-3 5-14 1-2 1 0 1 0 5 8 3 2 29 4 9 1 4 0 3-3 4-5 1-1 1 0 1 2 5 13 1 2 2 2 15 8 21 14 8 4 8 4 8 2 12 4 4 2 8 4 16 11 8 4 12 3 4 2 8 4 20 13 8 4 12 4 24 11 8 3 16 3 20 6 8 1 16 3 28 6 20 2 28 5 8 1 20 1 28 3 8 0 36-3 24 1 8 0 13-1 13-3 3-1 2-2 2-5 1-3 2-11 4-29 1-4 1 0 1 4 4 27 1 4 1 2 1 0 1-2 1-4 4-26 1-3 1 0 1 4 5 35 1 5 1 3 1 1 1 1 1-1 1-1 2-7 4-20 1-2 1 0 2 8 4 20 1 3 2 5 2 2 2 1 14 2 1-19 1-364 12 0 1 366 1 19 9 1 8 0 28 0 24 2 8 0 8 0 5-1 4-1 3-3 2-3 5-12 1-1 1-1 1 1 1 2 5 12 2 2 2 2 6 1 15 1 8 0 6-1 2-1 2-1 2-3 1-3 2-10 4-32 1-5 1-1 1 4 3 22 2 12 1 3 1 1 1-1 2-8 4-31 1-5 1-1 3 9 1-1 1-3 3-24 1-3 1 2 4 37 1 4 1 0 1-3 1-6 2-17 2-24 2-30 1-210 1-57 11 0 1 74 1 307 1 8 74-1 32 0 12 0 3-2 2-2 1-2 2-6 3-11 1-2 1-2 1 1 1 3 4 14 1 3 2 4 2 2 2 1 7 1 14 1 28 0 30 1 36-2 32 1 32-1 8 0 20 2 8 1 8 0 24-2 28 2 12 0 28-4 3-1 2-1 2-3 2-5 5-25 1-3 1 0 1 2 1 4 3 17 2 8 1 2 2 4 2 1 2 1 4 1 5 0 20-1 9 0 25 2 9 0 12 0 21-2 3 0 2-2 1-1 2-4 4-10 1-1 1 0 1 1 4 10 2 4 2 1 2 1 2-1 2-3 5-12 1-2 1 0 1 1 4 10 2 3 2 2 2 0 2-1 2-1 2-4 1-4 2-10 4-32 1-6 1-2 1 1 1 5 3 18 1 4 1 1 1-1 1-5 3-20 1-6 1-2 1 2 1 4 3 21 2 8 1 1 1-2 1-5 1-12 1-27 1-67 2-245 5 0 1 61 1 164 1 80 1 35 1 15 2 13 1 4 2 5 2 4 3 3 4 2 5 2 10 1 10 1 13 1 9 0 2-1 2-1 2-2 2-4 4-12 1-2 1-1 1 1 1 2 4 13 2 4 1 1 2 2 3 0 3 0 3-1 2-1 1-2 2-5 3-9 1-3 1-1 1 0 1 2 4 13 2 4 2 2 2 1 6 1 37 0 17 0l0 3-489-1-215-1-146-2-161-1-68-3-107-4-115 1-44-3-48-6-28-7-24-4-24-7-12-2-8-2-28-14-20-6-28-17-20-7-28-17-16-5-8-4-37-21-9-4-9-3-40-4-41 0-10 2-21 5-17 2-26 7-21 3-36 7-16 2z"/><path id="d4" d="M2372 1514l12-1 16-3 17-5 12-4 6-3 4-3 3-5 2-6 2-12 1-11 2-38 2-67 3-124 1-21 1 2 1 24 4 159 2 49 2 25 2 10 1 3 2 3 2 2 2 2 3 1 4 1 4 0 4 0 7-2 16-4 12-2 2-2 1-1 2-5 3-9 1-2 1 0 1 1 4 6 2 2 2 1 4 1 37 1 2 0 2-2 4-5 1-1 1 1 1 1 4 11 2 5 2 2 2 2 14 7 24 15 12 6 8 4 12 4 8 3 24 14 4 2 12 4 4 2 20 13 8 3 4 2 12 2 4 2 8 3 16 10 8 3 4 1 16 3 24 6 12 2 20 6 8 2 8 1 20 2 20 3 8 0 24 1 24 3 8 0 8 0 20-2 8 0 8 0 20 2 8 0 12-1 12-2 4-1 2-2 2-3 1-2 2-8 5-35 1-4 1-1 1 3 4 27 1 4 1 3 1 0 1-2 1-4 4-26 1-3 1 0 1 3 1 6 4 29 1 5 1 3 1 2 1 0 1 0 2-4 5-24 1-3 1 0 1 3 1 4 4 21 1 3 2 4 2 3 3 1 13 1 1-18 1-372 12 0 1 373 1 19 37 1 32 4 8 0 10-1 6-2 3-1 3-5 5-11 1-2 1 0 1 1 1 2 5 12 2 3 3 2 7 1 9 1 8 0 7-2 4-1 3-2 2-3 1-3 2-10 4-32 1-6 1-1 1 3 3 23 2 12 1 3 1 1 1-1 1-3 1-5 4-31 1-5 1-1 3 8 1 0 1-4 3-23 1-3 1 3 4 36 1 4 1 0 1-2 1-6 2-18 2-23 2-30 1-211 1-64 11 0 1 81 1 307 1 7 18 0 24 2 8 0 28 0 26 2 6-1 6 0 4-2 2-1 1-2 2-4 5-18 1-2 1 1 1 2 5 17 1 2 2 3 2 1 3 1 22 3 7 0 6 0 21-2 9 0 8 0 20 3 8 0 32-1 28 1 32-1 32 1 24-2 8 0 8 0 20 3 7 0 6 0 9-2 8-1 3-2 2-2 2-4 1-3 5-25 1-3 1 0 1 2 1 5 4 20 2 7 1 2 2 2 2 1 4 1 8 2 9 0 28-2 9 0 26 0 12 0 9-1 3-1 2-2 1-1 2-4 4-10 1-2 1 0 1 1 1 2 4 11 1 1 2 2 1 1 2-1 2-1 2-4 4-10 1-1 1-1 1 1 4 10 2 4 2 2 2 0 2-1 2-1 2-4 1-3 2-11 4-32 1-6 1-2 1 1 1 5 3 18 1 4 1 1 1-1 1-5 3-20 1-5 1-3 1 2 1 5 3 20 2 9 1 1 1-2 1-5 1-11 1-28 1-67 2-254 5 0 1 71 1 165 1 80 1 34 1 15 2 14 1 4 2 5 2 3 3 3 3 2 4 1 6 1 16 0 18 1 5 0 3-1 2-2 1-2 2-5 3-9 1-2 1-1 1 0 1 3 4 12 2 4 1 1 2 1 2 0 3 0 4-1 2-2 1-2 2-4 3-10 1-3 1-1 1 0 1 2 4 12 2 5 2 2 3 2 9 1 12 1 38 0l0 3-489-1-215-1-146-2-161 0-68-4-107-3-115 0-44-3-48-6-28-7-24-4-24-7-12-2-8-2-28-13-20-7-28-17-20-7-28-17-16-5-8-4-37-21-9-4-9-3-40-4-41 0-10 2-21 5-17 3-26 6-21 3-36 7-16 2z"/><path id="d5" d="M2372 1523l16-2 12-2 15-4 12-4 6-3 5-3 2-3 2-3 2-5 2-10 1-9 2-33 2-61 3-126 1-30 1-9 1 14 1 34 4 155 2 41 1 12 2 12 1 4 2 4 2 2 2 1 3 2 4 1 4 0 4 0 8-1 26-4 2-1 2-3 2-4 3-9 1-2 1-1 1 1 5 8 2 1 3 1 16 0 23 3 2-1 2-1 4-6 1 0 1 0 1 2 4 11 2 4 3 3 19 9 24 14 8 4 8 3 12 5 4 1 8 5 12 8 8 5 4 2 12 4 4 2 28 16 4 1 12 4 4 2 20 10 8 3 4 1 16 3 28 7 16 3 24 6 12 2 20 2 24 2 16 1 24 3 12 1 40 0 40 0 11 0 9-2 4-1 2-1 2-3 1-2 2-8 1-6 4-29 1-5 1-1 1 2 4 26 1 5 1 3 1 0 1-2 1-4 4-26 1-4 1-1 1 3 1 6 4 29 1 4 2 6 1 1 1 0 1-2 1-2 2-8 3-15 1-3 1-1 1 2 1 5 4 21 1 3 2 5 2 3 3 1 5 2 8 1 1-19 1-381 12 0 1 382 1 18 33 1 44 2 8 1 6-1 3-1 3-2 2-3 5-12 1-1 1 0 1 1 1 2 5 11 2 3 2 1 5 1 12 0 12 0 7-1 2 0 2-2 2-5 2-9 4-31 1-6 1-1 1 3 5 35 1 3 1 1 1-1 1-2 1-5 4-32 1-5 1-2 1 2 2 6 1 0 1-4 3-24 1-3 1 3 3 29 1 7 1 4 1 0 1-3 1-6 3-29 3-43 1-210 1-72 11 0 1 89 1 306 1 8 20 1 42 1 48 1 8-1 3-1 2-2 1-2 2-5 3-11 1-3 1-2 1 0 1 2 4 15 1 3 2 4 1 1 2 1 5 1 12 1 42-2 49 2 44 0 48 1 44 0 40 1 22-1 8 0 5-1 3-2 2-2 2-4 1-4 5-25 1-2 1-1 1 3 4 20 2 8 1 2 2 3 2 1 2 1 10 1 34 1 53 0 7-1 3-1 2-2 2-4 4-10 1-1 1 0 1 1 4 10 2 4 2 2 2 0 2-1 2-3 5-12 1-1 1-1 1 2 4 9 2 4 2 2 1 0 2 0 2-1 1-1 2-4 1-3 2-11 4-32 1-6 1-2 1 1 1 5 3 19 1 3 1 1 1-1 1-4 3-21 1-6 1-2 1 2 1 4 3 21 2 8 1 0 1-1 1-5 1-12 1-27 1-67 2-262 5 0 1 78 1 164 1 80 1 34 1 16 2 13 1 4 2 5 3 5 3 3 4 2 6 2 8 1 10 1 12 0 10-1 2 0 2-1 2-3 2-3 4-13 1-2 1-1 1 0 1 2 4 13 2 4 1 1 2 1 3 1 3 0 3-1 2-1 1-2 2-4 4-12 1-2 1 0 1 2 4 12 2 5 2 2 3 2 5 1 8 0 46 0l0 3-489-1-215-1-146-2-161 0-68-3-107-4-115 0-44-3-48-6-28-7-24-4-24-7-12-2-8-2-28-13-20-7-28-17-20-7-28-17-16-5-8-3-37-22-9-4-9-3-40-4-41 0-10 2-21 5-17 3-26 6-21 3-36 7-16 3z"/><path id="d6" d="M2372 1531l16-2 13-3 15-4 13-5 7-4 4-3 3-5 2-6 2-12 1-12 2-39 5-191 1-20 1 4 1 26 4 159 2 48 2 24 2 10 1 3 2 3 2 2 2 1 3 2 4 1 4 0 4 0 7-1 15-4 11-2 2-1 2-3 5-14 1-1 1-1 1 1 5 7 2 2 4 1 15 0 23 1 2 0 2-1 4-6 1 0 1 0 1 2 4 11 2 4 2 3 2 1 12 7 22 13 8 5 12 5 16 5 4 1 8 5 12 8 8 5 4 2 12 3 4 2 8 4 16 10 8 4 16 6 20 9 8 4 8 2 12 2 24 8 8 1 20 3 24 4 16 3 20 4 8 1 56 3 40-2 12 0 20 1 12 1 10-1 8-1 3-2 2-1 2-4 1-3 2-10 4-30 1-5 1-1 1 2 1 5 4 25 1 3 1 1 1-1 1-4 4-25 1-5 1-1 1 2 1 6 4 29 1 5 2 6 1 1 1 0 1-1 1-3 2-8 3-15 1-3 1-1 1 2 1 4 4 21 1 4 2 5 2 2 3 2 5 1 8 0 1-18 1-389 12 0 1 389 1 19 37 2 48 2 7 0 3-1 2-2 2-3 5-11 1-1 1-1 1 1 1 2 5 12 2 2 2 1 4 1 8 0 16-2 8-1 2-1 2-2 2-4 1-4 2-12 3-25 1-5 1-2 1 3 1 6 4 28 1 4 1 2 1-1 1-3 1-5 4-31 1-5 1-2 1 1 2 6 1 0 1-4 3-23 1-3 1 3 3 29 1 7 1 4 1 1 1-3 1-6 3-29 3-43 1-210 1-80 11 0 1 98 1 306 1 8 16 1 14 1 40-2 12 0 24 2 7 0 5 0 3-2 2-2 1-1 2-6 4-14 1-2 1 0 1 2 1 3 4 14 2 4 1 1 2 2 6 1 33 1 37-1 40 1 36 0 40 2 44-2 82 1 3-1 2-1 2-2 1-1 2-6 4-21 1-4 1-2 1 0 1 2 4 21 2 7 1 3 2 3 3 1 7 1 28-1 39 1 16-1 13-1 3 0 2-2 1-1 2-4 4-10 1-2 1 0 1 1 1 3 4 10 1 1 2 2 1 1 2-1 2-2 2-3 4-10 1-2 1 0 1 1 4 10 2 3 2 2 1 0 2 0 2-1 1-1 2-3 1-4 2-10 4-32 1-6 1-3 1 2 1 5 3 18 1 4 1 1 1-2 1-4 3-20 1-6 1-2 1 1 1 5 3 21 2 8 1 1 1-2 1-5 1-11 1-28 1-67 2-270 5 0 1 86 1 165 1 80 1 34 1 15 2 14 1 4 2 5 2 3 3 3 4 3 5 1 10 1 33 0 3-1 2-1 1-2 2-5 3-9 1-3 1-1 1 1 1 2 4 12 1 3 2 3 1 1 2 1 5 1 3-1 2-2 1-1 2-4 4-13 1-2 1 0 1 2 1 2 3 10 2 4 2 3 2 1 6 1 18 0 17 0 19 0l0 3-489-1-215-1-146-2-161 0-68-3-107-4-115 0-44-3-48-6-28-6-24-5-24-7-12-2-8-2-28-13-20-7-28-16-20-8-28-16-16-6-8-3-37-22-9-4-9-3-40-4-41 0-10 2-21 5-17 3-26 7-21 2-36 8-16 2z"/><path id="d7" d="M2372 1539l16-2 14-2 13-4 13-4 6-3 5-4 2-2 2-3 2-5 2-11 1-9 2-34 2-62 3-126 1-28 1-7 1 16 5 190 2 40 1 11 2 12 1 4 2 3 2 3 2 1 3 1 4 1 7 1 7-2 16-4 12-2 2-2 1-1 2-5 3-9 1-2 1 0 1 1 4 7 2 2 3 1 6 1 34 0 3-1 2-2 3-4 1-1 1 0 1 2 5 14 1 1 2 3 36 22 8 4 8 4 20 6 8 5 16 11 8 5 8 3 8 2 8 3 28 17 12 4 20 10 12 4 20 4 8 2 16 6 8 2 20 3 24 4 16 2 24 5 12 0 20 0 28 3 12 0 12 0 28-2 40 1 6-1 5-1 2 0 2-2 2-3 1-3 2-10 4-29 1-6 1-2 1 1 1 5 4 26 1 3 1 2 1-1 1-4 4-25 1-5 1-2 1 1 1 6 4 28 1 6 2 6 1 1 1 0 1-1 1-2 2-7 3-16 1-3 1-1 1 1 1 4 5 25 1 3 2 4 2 2 3 1 5 2 7 0 1-18 1-398 12 0 1 399 1 18 29 1 40 3 12 0 9-1 4-1 3-2 2-4 5-12 1-1 1 0 1 1 1 2 5 11 2 3 2 1 6 1 15 2 9-1 6-1 2-1 2-2 2-4 1-4 2-12 3-25 1-6 1-2 1 2 1 6 4 28 1 4 1 1 1 0 1-3 1-5 5-37 1-2 1 1 2 5 1 0 1-3 3-23 1-3 1 3 3 29 1 7 1 4 1 1 1-3 1-6 3-28 3-43 1-210 1-88 11 0 1 106 1 307 1 8 10 0 20-2 12 0 8 1 20 2 12 0 12 0 25-3 3-1 2-3 2-5 4-14 1-2 1 0 1 2 1 3 4 15 2 4 2 3 2 1 3 1 5 0 12 1 20-2 9 0 9 0 21 2 8 1 8 0 24-2 8 0 28 2 8 0 36-2 40 2 32-2 32 1 11-1 5 0 3-1 2-2 2-3 2-6 4-21 1-4 1-2 1 0 1 3 4 20 2 8 1 2 2 3 2 1 2 1 12 1 19 1 37-1 25 0 8 0 3-1 2-1 1-2 2-3 4-11 1-1 1-1 1 2 4 9 2 4 2 2 2 0 2-1 2-3 5-12 1-2 1 0 1 1 4 10 2 4 2 2 1 0 2 0 2-1 1-1 2-3 1-3 2-11 4-32 1-5 1-3 1 2 1 5 3 18 1 4 1 1 1-1 1-5 3-20 1-6 1-2 1 2 1 4 3 21 2 8 1 1 1-2 1-5 1-12 1-27 1-67 2-279 5 0 1 94 1 165 1 80 1 34 1 15 2 13 2 7 3 6 3 3 4 3 5 1 10 2 9 1 11 0 10 0 5-1 2-2 1-1 2-3 4-13 1-3 1-1 1 0 1 2 4 12 1 3 2 3 1 1 2 1 5 1 3-1 2-1 1-2 2-4 4-12 1-2 1 0 1 1 1 3 3 10 2 4 2 3 3 2 8 1 30-1 21 1l0 2-489-1-215-1-146-2-161 0-68-3-107-4-115 0-44-3-48-6-28-6-24-5-24-6-12-3-8-2-28-13-20-7-28-16-20-8-28-16-16-6-8-3-37-22-9-4-9-3-40-4-41 1-10 1-21 5-17 3-26 7-21 3-36 7-16 2z"/><path id="d8" d="M2372 1547l16-1 12-2 11-3 13-4 9-4 6-4 2-2 2-3 2-5 2-9 1-7 2-29 2-55 4-160 1-18 1 6 1 28 4 158 2 46 1 14 2 15 1 4 2 4 2 2 2 2 3 1 3 1 7 1 6-1 16-3 13-2 2-1 2-3 2-5 3-9 1-1 1-1 1 1 5 7 2 2 3 1 15 0 20 4 4 0 2-1 2-1 4-5 1-1 1 0 1 2 5 13 1 2 2 2 2 1 11 5 7 4 28 18 8 3 4 2 12 2 8 3 8 5 12 7 8 5 16 7 20 11 8 4 4 2 12 3 4 2 24 13 8 3 16 3 28 8 20 3 24 5 8 2 56 5 20 3 12 0 28-1 24 2 12 0 47-4 2-1 2-1 2-3 1-3 2-9 4-29 1-6 1-2 1 1 1 4 4 26 1 4 1 1 1 0 1-3 4-26 1-5 1-3 1 2 1 4 5 34 1 4 1 3 1 1 1 0 1 0 1-3 2-7 3-15 1-4 1-2 1 1 1 3 5 26 1 3 2 4 2 2 3 1 12 3 1-19 1-405 12 0 1 406 1 19 21 1 36 2 28 0 7 0 3-1 2-2 2-3 5-11 1-2 1 0 1 1 1 2 5 12 2 2 2 1 4 1 6 0 21-2 6-1 2-1 2-3 2-6 2-11 3-25 1-6 1-2 1 2 1 6 4 29 1 4 1 2 1-1 1-2 1-5 5-37 1-2 1 0 2 5 1 0 1-3 3-23 1-3 1 3 3 29 1 7 1 4 1 0 1-3 1-6 3-29 3-42 1-211 1-95 11 0 1 113 1 306 1 8 18 2 12 1 32-1 28 1 10 1 11-1 7-1 2 0 2-2 2-2 2-6 4-14 1-2 1-1 1 2 1 2 4 15 2 4 1 2 2 1 3 1 4 1 11 0 50 1 36 0 32 2 12-1 20-1 8 0 32 2 36-2 28 2 12 0 33-2 4 0 3-1 2-2 2-3 2-6 5-25 1-2 1 1 1 3 4 21 2 7 1 3 2 2 2 2 2 0 10 1 36 0 50 0 5-1 3-1 2-2 2-4 4-10 1-2 1 0 1 1 4 10 2 4 2 1 2 1 2-1 2-3 5-13 1-2 1 0 1 1 4 10 2 3 2 2 1 1 2 0 2-1 1-1 2-4 1-3 2-11 4-31 1-6 1-2 1 1 1 5 3 19 1 4 1 1 1-2 1-4 3-20 1-5 1-3 1 2 1 5 3 20 2 8 1 1 1-2 1-5 1-11 1-28 1-67 2-287 5 0 2 267 1 80 1 34 1 15 2 13 2 7 2 4 3 3 3 3 5 2 12 2 12 2 10 1 8-1 5-1 2-1 1-1 3-7 4-12 1-2 1 0 2 4 4 12 2 4 1 1 2 1 5 0 3 0 2-1 1-2 2-4 4-12 1-2 1 0 1 1 1 2 3 10 2 5 2 3 3 2 4 1 6 0 27 0 22 0l0 3-489-1-215-2-146-1-161-1-68-3-107-4-115 0-44-2-48-7-28-6-24-4-24-7-12-2-8-3-28-13-20-7-28-16-20-8-28-16-16-6-8-3-37-21-9-5-9-2-40-4-41 0-10 1-21 5-17 3-26 7-21 3-36 7-16 2z"/><path id="d9" d="M2372 1555l12-1 16-3 19-6 12-4 6-3 4-3 3-4 2-6 2-11 1-10 2-35 2-63 3-125 1-27 1-5 1 19 4 158 1 30 2 39 2 18 2 8 1 2 2 3 4 3 4 2 3 0 8 1 8-1 23-5 2-1 2-2 5-14 1-2 1-1 1 1 5 7 2 2 3 0 16 1 23 2 2 0 2-2 4-5 1-1 1 1 1 1 4 12 2 4 3 3 19 9 24 14 8 4 8 4 12 3 8 4 24 14 4 2 12 5 4 2 20 12 8 4 4 2 12 3 4 1 8 4 16 8 8 4 4 1 8 2 24 6 8 2 12 1 8 1 24 7 8 1 44 5 44 3 32-1 32 2 8 0 16-1 22-3 3-1 2-1 2-3 1-3 2-9 4-28 1-6 1-4 1 1 1 4 4 26 1 4 1 2 1 0 1-2 1-5 4-25 1-3 1 0 1 5 5 35 1 4 1 3 1 1 1 1 1-1 2-5 4-19 1-4 1-2 1 0 1 3 5 25 1 4 2 4 2 2 3 1 12 0 1-18 1-413 12 0 1 413 1 19 33 2 28 1 24 1 7 0 3-1 2-2 2-3 5-12 1-1 1 0 1 1 1 2 5 11 2 3 2 1 3 0 6 0 22 0 6-1 2-1 2-3 2-5 2-12 3-24 1-6 1-3 1 2 1 5 4 30 1 4 1 2 1 0 1-3 1-4 5-37 1-3 1 0 2 5 1 0 1-3 3-22 1-3 1 3 3 28 1 8 1 3 1 1 1-3 1-6 3-29 3-43 1-211 1-104 11 0 1 121 1 306 1 8 11 1 23 2 8 1 12-1 28-1 29 1 8-1 3-1 2-3 2-5 4-14 1-3 1 0 1 1 1 2 4 15 2 4 1 2 2 1 4 1 47 3 13 0 20-1 12 0 28 2 8 1 12-1 20-2 12 0 8 0 24 2 8 0 12 0 28-2 36 1 19 0 9-1 4-1 2-1 2-2 2-5 1-4 4-20 1-4 1-2 1 1 1 3 4 21 2 7 1 3 2 2 2 2 3 1 8 1 9 0 10 0 29-2 9 1 24 1 9 0 3-1 2-2 1-1 2-4 4-10 1-2 1 0 1 1 4 9 2 4 2 1 1 1 2-1 2-2 1-2 5-13 1-1 1 0 1 1 4 9 2 4 2 2 1 0 2 0 2-1 1-1 2-3 1-4 2-10 4-32 1-5 1-3 1 2 1 5 3 19 1 3 1 2 1-2 1-4 3-20 1-6 1-2 1 2 1 4 3 21 2 8 1 1 1-2 1-5 1-11 1-28 1-67 2-295 5 0 2 275 1 80 1 34 1 15 2 14 2 6 2 4 3 4 3 2 5 2 8 1 16 2 12 1 8 0 4-1 2-2 1-2 2-4 4-13 1-1 1-1 1 2 1 3 4 12 2 3 1 1 2 1 5 1 2-1 2 0 2-2 2-4 4-13 1-2 1 0 1 1 1 2 3 10 2 5 2 3 3 2 7 2 12 0 40-2l0 4-489-1-215-1-146-2-161-1-68-3-107-4-115 1-44-3-48-6-28-7-24-4-24-7-12-2-8-3-28-13-20-6-28-17-20-8-28-16-16-5-8-4-37-21-9-4-9-3-40-4-41 0-10 2-21 5-17 2-26 7-21 3-36 7-16 2z"/><path id="d10" d="M2372 1563l12-1 12-2 12-3 23-7 6-3 4-3 3-4 2-5 2-9 1-8 2-30 2-56 4-160 1-15 1 8 1 29 3 125 1 33 2 45 1 13 2 14 1 4 2 4 2 2 2 2 3 1 3 1 7 1 8-1 26-4 2-1 2-3 2-5 3-9 1-2 1 0 1 0 5 8 3 2 18 1 21 4 3 0 2-1 2-2 3-4 1-1 1 0 1 2 4 11 2 4 1 1 2 2 12 4 7 4 8 4 20 12 8 5 8 3 8 2 8 4 24 14 4 2 12 4 4 2 28 16 4 1 12 4 4 2 16 8 8 4 8 2 16 2 8 3 16 6 8 2 28 6 16 3 16 1 24 3 24 2 24 2 12 1 32-2 28 1 12 0 17-2 14-2 3-1 2-2 2-4 1-4 2-10 4-29 1-4 1 0 1 3 3 21 2 10 1 2 1 1 1-3 1-4 4-26 1-3 1 0 1 4 1 6 4 29 1 4 1 4 1 1 1 1 1 0 1-2 2-7 4-19 1-3 1 1 1 2 1 5 4 21 1 3 2 5 2 2 3 1 12 2 1-18 1-423 12 0 1 423 1 19 33 0 32 3 8 0 8 0 9-1 4-1 3-3 2-3 5-12 1-1 1 0 1 1 1 2 5 11 2 3 3 2 8 1 12 1 9-1 6-1 2-1 2-1 2-5 1-3 2-11 4-32 1-3 1 1 1 5 4 29 1 4 1 2 1 0 1-2 2-10 4-32 1-3 1 0 2 5 1 0 1-3 3-22 1-3 1 3 3 29 1 8 1 4 1 0 1-3 1-6 3-28 3-43 1-210 1-112 11 0 1 129 1 307 1 8 46 3 12 0 24-1 29 1 8-1 3-1 2-3 1-2 2-6 3-11 1-3 1-1 1 1 1 3 4 14 2 5 1 1 2 2 4 1 48 2 56-1 32-1 12 1 20 2 12 0 32-1 36 2 32-2 26 0 9 0 4-1 3-1 2-1 2-4 2-6 4-21 1-4 1-1 1 1 1 3 4 21 2 7 1 2 2 3 2 1 2 0 10 2 12 0 11 0 28-3 12 1 18 1 8-1 3-1 2-2 2-4 4-10 1-2 1 0 1 1 4 10 2 4 2 1 2 1 2-1 2-3 5-13 1-1 1 0 1 1 4 10 2 3 2 2 1 1 2 0 2-1 1-1 2-4 1-3 2-10 4-32 1-6 1-2 1 1 1 5 3 19 1 4 1 1 1-2 1-4 3-21 1-5 1-2 1 1 1 5 3 20 2 8 1 1 1-2 1-5 1-11 1-28 1-67 2-303 5 0 2 283 1 80 1 34 1 16 2 13 2 7 3 6 3 3 4 2 5 2 6 1 12 1 24-1 4-1 2-1 1-2 2-4 4-12 1-2 1 0 1 1 1 3 4 12 2 4 1 1 2 2 3 0 3 1 3-1 2-2 1-2 2-5 3-10 1-2 1-1 1 1 1 2 3 9 2 5 2 3 2 2 5 0 23 0 32 1l0 3-489-1-215-1-146-2-161-1-68-3-107-4-115 1-44-3-48-6-28-7-24-4-24-7-12-2-8-2-28-14-20-6-28-17-20-7-28-17-16-5-8-4-37-21-9-4-9-3-40-4-41 0-10 2-21 5-17 2-26 7-21 3-36 7-16 2z"/><path id="d11" d="M2372 1571l12-2 12-2 28-7 10-3 5-3 3-2 3-4 2-6 2-11 1-9 2-34 2-61 3-118 1-25 1-3 1 18 4 143 1 27 2 35 2 18 1 5 2 7 2 4 2 4 2 2 3 2 2 1 3 1 7 0 29-5 2-1 2-2 1-1 5-14 1-2 1-1 1 1 5 8 2 1 3 1 16 0 23 1 2 0 2-2 4-5 1-1 1 1 1 1 4 12 2 4 3 3 15 7 32 20 12 5 12 4 4 1 8 5 12 7 8 5 4 2 12 4 4 2 8 4 16 11 8 4 16 5 20 10 8 3 4 1 16 3 28 7 20 3 28 7 48 7 36 2 16 1 44-2 48 0 7-1 5-1 2 0 2-2 2-4 1-3 2-10 4-28 1-4 1-1 1 2 4 23 1 5 1 2 1 0 1-1 1-4 4-24 1-3 1-1 1 3 1 6 4 26 1 4 2 6 1 1 1-1 1-1 1-2 2-7 3-14 1-3 1 0 1 2 1 4 4 20 1 3 2 5 2 2 4 2 5 2 6 1 1-19 1-430 12 0 1 431 1 19 61 2 20 0 10-1 3-1 3-2 2-3 5-12 1-1 1 0 1 1 1 2 5 11 2 2 2 2 2 0 4 0 15 0 10 0 6-1 2-1 2-3 2-5 2-11 4-30 1-3 1 1 1 4 3 21 2 10 1 3 1 0 1-2 2-9 4-29 1-4 1 0 2 3 1-1 1-3 3-22 1-2 1 3 3 30 1 8 1 4 1 0 1-3 1-5 3-29 3-42 1-210 1-122 11 0 1 140 1 306 1 8 14 1 20 0 76-2 9 0 3-1 2-3 1-1 2-6 3-10 1-3 1-1 1 1 1 2 4 14 2 4 1 2 2 1 4 2 5 0 11-1 12 2 8 0 104 2 28 0 64-1 66 1 18 0 4 0 3-1 2-2 1-1 2-5 1-3 4-20 1-3 1-1 1 1 1 3 3 15 2 8 1 3 2 3 1 1 2 0 5 1 12-2 3 0 9 1 6 1 56-1 9-1 3-1 2-2 2-4 4-10 1-2 1 0 1 2 1 2 4 10 1 1 2 2 1 1 2-1 2-1 2-4 4-10 1-2 1 0 1 1 4 10 2 4 2 2 1 0 2 0 2-1 1-1 2-4 1-3 2-10 4-32 1-6 1-2 1 1 1 5 3 19 1 3 1 2 1-2 1-4 3-21 1-5 1-3 1 2 1 5 3 20 2 8 1 1 1-2 1-5 1-11 1-28 1-67 2-311 5 0 2 292 1 80 1 34 1 15 2 14 2 7 2 4 3 3 4 3 5 2 7 1 12 2 14 0 10 0 4-1 2-2 1-1 2-4 4-12 1-1 1-1 1 1 1 2 4 12 2 3 1 1 2 1 3 1 3-1 2-1 3-2 2-4 4-12 1-2 1-1 1 1 1 2 5 14 2 3 3 2 4 0 12-1 15 2 28 0l0 4-489-1-215-1-146-2-161 0-68-4-107-3-115 0-44-3-48-6-28-7-24-4-24-7-12-2-8-2-28-13-20-7-28-17-20-7-28-17-16-5-8-3-37-22-9-4-9-3-40-4-41 0-10 2-21 5-17 3-26 6-21 3-36 7-16 2z"/><path id="d12" d="M2372 1580l8-1 8-1 27-9 21-5 4-2 3-3 2-3 2-4 2-8 1-8 2-25 2-48 4-131 1-14 1 4 1 20 4 110 1 19 2 26 3 23 4 18 2 6 2 4 2 3 3 2 2 1 3 1 7 0 9-1 18-4 2-1 2-3 5-14 1-2 1 0 1 0 5 8 3 1 17 2 19 2 4 0 3 0 2-2 4-5 1-1 1 0 1 2 4 11 2 4 3 3 15 7 24 16 8 5 8 3 16 5 4 2 8 5 12 7 8 5 4 1 12 4 4 1 8 5 16 10 8 5 16 5 24 10 8 3 16 3 24 7 20 4 20 7 12 2 4 1 16 0 8 0 24 3 28 2 20 2 12 1 16-1 28-2 32 1 12-1 4-1 2-1 2-2 2-4 2-6 1-5 4-26 1-4 1-2 1 1 1 3 4 17 1 2 1 1 1-1 1-3 4-19 1-4 1 0 1 1 1 5 3 16 2 9 1 4 2 3 1 1 1-1 1-1 2-5 3-11 1-3 1 0 1 1 1 3 5 19 3 6 3 3 4 3 4 2 5 1 1-19 1-433 1-3 10 0 1 4 1 434 1 19 21 2 32 0 24 2 8 1 5-1 4-1 3-2 2-3 5-12 1-2 1 0 1 1 1 2 5 11 2 3 2 1 5 1 12 0 11 0 7-2 3-1 2-2 2-4 1-3 2-10 4-28 1-4 1 0 1 3 3 17 2 8 1 3 1 0 1-1 2-7 4-25 1-4 1-1 2 0 1-1 1-5 3-22 1-2 1 4 3 31 1 8 1 5 1 1 1-3 1-5 3-28 3-42 2-340 11 0 1 148 1 306 1 8 46 0 28-1 12 0 20 2 7 0 5 0 4-1 2-2 1-2 2-4 3-9 1-2 1-1 1 0 1 2 4 10 2 4 2 2 3 1 3 0 3-1 8-3 3-1 2 0 2 1 9 5 6 1 26 1 24 1 12 0 20-1 12-1 28 1 32 0 32 1 28 0 24 1 12 0 36-4 3 0 2-1 2-2 2-4 5-18 1-3 1-1 1 2 1 3 3 12 2 6 2 4 1 1 2 1 2 0 3-1 3-1 6-4 3-1 3 1 7 5 3 1 4 2 6 1 11 0 11 0 38-3 3-1 2-2 2-3 4-10 1-2 1 0 1 1 1 3 4 10 1 2 2 2 1 0 2 0 2-2 2-4 4-10 1-2 1 0 1 1 4 10 2 4 2 1 1 1 2-1 2-1 1-1 2-3 1-4 2-10 4-32 1-6 1-3 1 2 1 4 3 19 1 4 1 1 1-2 1-4 3-20 1-6 1-2 1 1 1 5 3 20 2 8 1 1 1-1 1-5 1-12 1-28 1-67 2-318 5 0 2 299 1 79 1 35 1 15 2 13 2 7 2 4 3 4 3 2 5 2 8 2 16 3 10 1 8 0 4-1 2 0 3-3 2-3 4-10 1-1 1-1 1 1 1 2 4 9 2 2 2 2 2 0 2 0 3-1 3-2 2-3 2-3 4-10 1-1 1-1 1 1 1 2 4 11 2 4 2 2 2 1 4-1 8-3 4 0 3 1 7 2 5 2 11 1 17 1l0 2-489-1-215-1-146-2-161 0-68-3-107-4-115 0-44-3-48-6-28-7-24-4-24-7-12-2-8-2-28-13-20-7-28-17-20-7-28-17-16-5-8-3-37-22-9-4-9-3-40-4-41 0-10 2-21 5-17 3-26 6-21 3-36 7-16 3z"/><path id="d13" d="M2372 1588l16-2 12-2 13-4 19-6 6-2 4-3 3-3 2-4 2-7 1-6 2-18 1-15 2-44 3-85 1-19 1-7 1 6 1 14 3 54 2 29 2 22 3 27 3 20 3 14 2 6 2 3 2 3 2 1 3 1 5 0 18-3 10-1 2-1 2-1 1-2 2-4 3-9 1-2 1-1 1 1 5 8 2 1 3 1 18 1 21 2 2-1 2-1 4-6 1 0 1 0 1 2 4 11 2 4 2 3 2 1 12 5 10 5 24 15 8 5 4 2 16 6 28 16 4 2 12 4 4 2 24 14 8 4 12 3 4 2 24 13 8 3 4 1 8 0 12 3 20 4 16 3 24 6 8 1 20 2 20 3 12 1 12 0 12 1 24 2 16 1 32-2 36 1 11-1 8-1 3-2 2-1 2-3 1-2 2-8 4-21 2-7 1-1 1 1 4 10 1 2 1 0 1 0 1-2 4-13 1-2 1-1 1 1 1 2 4 16 2 6 2 4 1 2 1 0 1 0 1-1 1-1 4-10 1-1 1 1 2 4 5 13 5 8 3 4 3 3 3 1 4 1 1-18 1-434 1-11 10 0 1 12 1 434 1 19 25 2 48 2 8 0 9-1 4-1 3-2 2-3 5-12 1-2 1 0 1 1 1 2 5 11 2 2 2 2 5 1 18 0 7 0 5-1 3-1 2-2 2-4 1-3 2-9 4-24 1-4 1-1 1 1 4 15 2 5 1 1 1 0 1-2 2-8 4-20 1-2 2-3 1-3 4-29 1-2 1 4 3 33 1 8 1 5 1 2 1-3 1-5 3-27 3-42 2-346 11 0 1 154 1 306 1 8 30 1 36 2 33-1 21 0 3 0 2-2 2-3 3-6 2-2 1 0 1 1 4 8 2 3 2 1 2 0 3 0 3-1 3-2 7-7 3-1 3 2 7 6 4 3 5 1 8 1 13 0 32-1 36 2 36-1 32 0 24 0 12 0 28 2 12 0 25-2 27 1 4-1 2 0 2-2 1-1 2-4 4-11 1-2 1-1 1 1 1 2 3 9 2 4 2 2 2 1 2-1 3-2 3-3 6-8 2-1 1 0 1 0 2 2 7 9 3 3 3 2 4 1 5 1 6 0 26-1 26 0 3-2 2-1 2-4 4-10 1-2 1 0 1 1 4 10 2 4 2 2 2 0 2-1 2-3 5-13 1-1 1 0 1 1 4 9 2 4 2 1 1 1 2 0 2-1 1-1 2-4 1-3 2-11 4-32 1-6 1-2 1 2 1 4 3 19 1 4 1 1 1-2 1-4 3-20 1-6 1-2 1 2 1 4 3 21 2 8 1 1 1-2 1-5 1-12 1-27 1-67 2-327 5 0 2 307 1 80 1 34 1 15 2 14 2 7 2 4 3 3 4 3 5 2 7 2 12 2 10 0 10 0 6-1 4-1 3-3 4-7 1-2 1 0 1 0 1 1 4 7 2 2 3 0 3 0 3-2 3-3 3-4 5-9 1-1 1 0 1 1 1 2 5 12 2 3 2 1 2 1 3-1 8-5 3-1 3 1 8 6 5 2 8 1 20 1l0 2-489-1-215-1-146-2-161 0-68-3-107-4-115 0-44-3-48-6-28-6-24-5-24-6-12-3-8-2-28-13-20-7-28-16-20-8-28-16-16-6-8-3-37-22-9-4-9-3-40-4-41 0-10 2-21 5-17 3-26 7-21 2-36 8-16 2z"/><path id="d14" d="M2372 1596l12-1 12-2 14-4 20-6 7-3 4-2 3-3 3-5 2-7 1-4 2-15 1-12 2-32 4-83 1-11 1-4 1 3 1 6 2 15 8 83 4 32 2 11 3 9 3 5 3 2 4 1 5 0 25-3 2-1 2-1 1-2 2-4 3-9 1-2 1 0 1 0 4 7 2 2 2 1 4 1 37 0 2-1 2-1 4-6 1-1 1 1 1 1 5 14 1 2 2 3 2 1 13 8 21 13 8 5 8 4 8 3 12 3 4 1 8 5 12 8 8 5 4 2 12 4 4 2 28 16 4 2 12 4 4 1 20 10 8 3 8 2 12 2 28 7 20 4 28 7 40 5 32 1 28 4 8 1 16-1 32-3 12 0 21 0 11 0 4-1 3-2 2-2 2-4 3-10 4-18 2-5 1-1 1 0 4 2 2 0 2-2 4-8 1 0 1 0 2 3 6 14 3 5 2 2 1 0 5-6 1 0 1 1 4 6 8 16 3 5 4 4 2 2 3 1 1-18 1-434 1-19 10 0 1 20 1 434 1 18 13 1 12 0 32 4 12 0 12 1 10-1 3-1 3-2 2-3 5-12 1-1 1 0 1 1 1 2 5 11 2 3 2 1 5 1 12-1 11-1 6-1 3-1 2-2 3-5 3-11 4-21 1-3 1-2 1-1 1 2 4 10 2 3 1 0 1-1 1-2 5-18 3-8 2-12 3-25 1-2 1 5 3 35 1 9 1 5 1 2 1-2 1-5 3-27 3-42 2-355 11 0 1 162 1 306 1 8 22 0 40 2 34 0 24 1 3-1 2 0 2-2 4-5 1 0 1 0 1 1 4 4 2 2 2 0 2 0 3-1 3-2 3-3 7-10 2-1 1 0 1 0 2 1 6 9 3 3 2 2 3 1 7 2 24 2 20 0 28-1 16-1 80 2 44-1 38 2 16 0 15-1 6-1 3-3 5-8 1-1 1-1 1 1 1 1 3 5 2 2 2 1 1 0 2 0 2-1 2-3 3-4 6-12 2-2 1 0 1 0 2 2 7 14 3 4 2 2 2 1 4 2 6 0 26-1 25 2 6-1 2-1 2-2 2-4 4-10 1-2 1 0 1 1 4 10 2 4 2 1 2 0 2-1 2-3 5-13 1-1 1 0 1 1 4 9 2 4 2 1 1 1 2 0 2-1 1-1 2-4 1-3 2-11 4-32 1-5 1-3 1 2 1 5 3 19 1 3 1 1 1-1 1-4 3-21 1-5 1-2 1 1 1 5 3 21 2 8 1 1 1-2 1-5 1-11 1-28 1-67 2-335 5 0 2 316 1 80 1 34 1 16 2 13 2 7 2 4 3 4 4 3 5 1 7 2 12 1 15 0 11 0 3-1 3-1 5-5 2-1 2 1 3 3 2 1 2 0 3 0 2-2 3-2 3-4 6-9 2-2 1 0 1 0 1 1 6 12 2 3 2 1 2 0 3-1 2-2 6-6 2-1 1 0 1 0 2 1 6 7 3 3 4 2 3 1 4 1 21 0l0 3-489 0-215-2-146-2-161 0-68-3-107-4-115 0-44-3-48-6-28-6-24-4-24-7-12-3-8-2-28-13-20-7-28-16-20-8-28-16-16-6-8-3-37-22-9-4-9-3-40-4-41 1-10 1-21 5-17 3-26 7-21 3-36 7-16 2z"/><path id="d15" d="M2372 1604l12-1 12-2 12-4 20-6 7-3 5-2 3-3 3-4 2-4 2-8 2-12 1-9 2-23 5-78 2-17 1-5 1-2 1 0 1 3 2 15 6 74 2 20 2 15 2 11 3 10 3 4 2 2 2 1 5 1 6 0 20-3 3-1 2-2 1-1 5-14 1-2 1 0 1 0 4 7 2 2 3 1 4 1 29 2 7 0 2 0 2-2 4-5 1-1 1 0 1 2 4 11 2 4 2 3 2 1 10 6 20 12 8 5 12 5 20 6 8 5 16 11 8 5 4 1 12 3 8 4 8 5 12 8 8 5 4 1 16 5 28 11 12 3 20 7 12 2 16 2 28 8 8 1 12 0 8 1 24 4 8 1 44 2 16 0 28-2 8 0 24 2 8-1 11-1 6-1 4-2 3-2 2-3 2-4 2-5 6-22 3-5 2-2 1 0 3 0 2 0 4-2 2-1 2 1 2 3 6 12 2 4 1 1 2 0 4-3 2 0 2 0 1 1 3 4 6 14 3 5 4 5 4 2 1-18 1-434 1-25 10 0 1 28 1 435 1 18 7 2 6 0 8 0 16-1 8 0 8 1 20 3 8 0 6-1 6-1 3-2 3-5 5-12 1-1 1 0 1 1 1 2 5 11 2 3 2 1 5 2 12 2 9 0 4-1 3-1 3-1 2-2 2-3 2-4 3-10 5-22 2-5 1-1 1 1 4 6 2 1 1 0 1 0 2-4 4-13 2-8 5-41 1-1 1 5 3 37 2 16 1 2 1-2 1-5 3-26 3-42 2-362 11 0 1 170 1 306 1 8 17 1 29 2 32-1 31 1 14-1 3-1 5-2 2 0 6 2 4 0 4-1 3-2 3-4 7-11 2-2 1 0 1 0 2 2 6 11 4 5 2 2 2 1 4 1 19 0 20 1 8 1 24-2 8 0 8 1 16 2 8 0 8 0 20-3 8 0 8 1 20 2 8 0 20-2 8 0 24 3 12 0 25-4 19 0 3-1 4-2 2-1 2 1 4 2 2 1 2-1 3-2 3-4 3-7 6-15 2-3 1 0 1 0 2 2 7 18 3 5 2 3 2 2 3 2 3 0 10 2 12 0 35-2 4 0 2-1 2-2 2-4 4-10 1-2 1 0 1 2 1 2 4 10 1 1 2 2 1 1 2-1 2-1 2-4 4-10 1-2 1 0 1 1 4 10 2 3 2 2 1 0 2 0 2-1 1-1 2-3 1-4 2-10 4-32 1-5 1-3 1 2 1 4 3 19 1 4 1 1 1-1 1-5 3-20 1-6 1-2 1 2 1 5 3 20 2 8 1 1 1-2 1-5 1-12 1-28 1-67 2-343 5 0 2 323 1 80 1 34 1 15 2 14 2 6 2 5 3 3 3 2 5 3 8 2 12 2 8 0 8 0 14-1 9-3 7 2 2 0 2-1 3-2 2-2 8-12 2-2 1-1 2 1 1 1 6 10 2 2 2 2 1 0 2 0 2-1 2-2 7-11 2-2 1 0 1 0 2 2 8 12 3 3 3 2 4 2 7 2 8 1 8 0l0 2-489-1-215-2-146-1-161-1-68-3-107-4-115 0-44-2-48-7-28-6-24-4-24-7-12-2-8-3-28-13-20-7-28-16-20-8-28-16-16-6-8-3-37-21-9-5-9-2-40-4-41 0-10 1-21 5-17 3-26 7-21 3-36 7-16 2z"/><path id="d16" d="M2372 1612l33-6 12-3 12-4 8-3 4-2 3-3 3-5 2-5 2-9 3-21 3-34 6-81 1-9 1-4 1 0 1 4 1 8 7 91 3 27 2 12 3 10 3 5 3 2 3 1 5 0 16-2 9 0 2-1 2-1 1-2 2-5 3-8 1-2 1 0 1 0 5 8 2 2 3 1 18 1 21 3 2 0 2-2 4-5 1 0 1 0 1 2 4 11 2 4 2 2 3 2 12 5 9 4 28 16 8 4 12 3 8 4 8 4 16 11 8 4 8 3 4 2 20 11 8 4 4 1 12 3 4 2 20 10 8 3 4 1 16 4 20 8 8 2 4 1 20 2 28 6 52 4 24 4 8 0 12 1 16-1 24 0 32-2 22 0 6 0 3-1 3-1 3-2 2-3 2-4 2-6 7-24 2-5 1-2 1 0 1-1 4 2 2 0 6-3 1 0 1 1 1 1 2 4 4 10 2 4 1 1 1 1 2 0 5-3 1-1 1 1 1 1 2 3 6 15 3 6 2 3 2 2 4 2 1-18 1-434 1-34 10 0 1 35 1 434 1 18 13 1 32 4 36 1 10 0 3 0 3-3 2-3 5-12 1-1 1 0 1 1 1 2 5 11 2 2 2 2 5 0 18 0 7-1 4-1 2-1 2-1 2-3 2-4 3-9 5-19 2-6 1-1 1-1 1 0 4 5 2 2 1 0 1-1 2-4 3-9 2-10 4-37 1-7 1-1 1 6 3 37 2 16 1 2 1-2 2-11 3-31 2-30 2-370 11 0 1 179 1 307 1 8 10 0 28-1 32 1 28 1 25 1 17-1 5-1 4-4 4-6 7-14 2-2 1 0 1 1 2 2 7 14 4 6 2 2 3 1 3 1 5 1 12 0 25 0 32 1 36-1 28 1 32-1 32 2 28-1 31 1 16-1 28-2 3-1 2-1 3-4 2-3 3-7 6-17 2-3 1-1 1 1 2 3 7 19 3 7 2 2 2 2 4 2 6 1 34 2 13-1 9-1 3-1 2-2 2-4 4-10 1-2 1 0 1 1 1 2 4 10 1 2 2 2 1 0 2 0 2-2 2-3 4-10 1-2 1 0 1 1 4 10 2 4 2 2 1 0 2 0 2-1 1-1 2-4 1-3 2-10 4-32 1-6 1-3 1 2 1 4 3 19 1 4 1 1 1-2 1-4 3-21 1-5 1-3 1 2 1 5 3 20 2 8 1 1 1-1 1-5 1-12 1-27 1-67 2-352 5 0 2 333 1 80 1 34 1 15 2 14 2 6 2 5 3 3 4 3 5 2 5 1 6 0 31 1 9 0 13-1 3-2 2-1 4-4 8-14 2-2 1-1 1 0 2 1 2 3 6 10 3 3 2 1 2-1 2-1 2-3 6-9 2-2 1 0 1 0 2 2 8 14 2 2 3 3 3 1 4 1 21 1l0 3-489-1-215-1-146-2-161-1-68-3-107-4-115 1-44-3-48-6-28-7-24-4-24-7-12-2-8-3-28-13-20-6-28-17-20-8-28-16-16-5-8-4-37-21-9-4-9-3-40-4-41 0-10 2-21 5-17 2-26 7-21 3-36 7-16 2z"/><path id="d17" d="M2372 1620l12-1 12-3 13-3 19-7 8-3 5-3 3-2 3-5 2-6 2-8 3-20 3-33 6-83 1-9 1-5 1-1 1 4 1 8 7 93 3 28 2 12 3 11 3 5 2 1 2 1 4 1 4 0 24-2 2 0 2-2 1-1 2-5 3-8 1-2 1 0 1 0 4 7 2 2 2 1 4 1 37 0 2 0 2-2 4-5 1-1 1 1 1 1 4 12 2 4 3 3 43 24 12 5 12 5 8 4 16 10 8 5 8 3 12 3 4 2 8 4 16 11 8 4 16 5 28 12 8 2 8 2 20 7 12 4 20 2 24 6 8 2 32 3 28 1 28 3 8 0 28 0 36-1 20 0 12-1 6-1 3-2 3-2 3-4 2-4 2-5 7-25 2-5 1-1 1-1 1 0 4 2 2 0 2 0 3-3 2 0 1 0 2 3 5 13 3 6 1 0 2 0 4-2 2-1 1 0 1 1 2 3 6 16 3 6 2 3 2 3 4 2 1-18 1-433 1-44 10 0 1 45 1 434 1 19 21 1 36 2 16 0 18-2 3 0 3-3 2-3 5-11 1-2 1 0 1 1 1 2 5 12 2 3 3 1 6 1 10 1 9-1 7-2 3-1 2-2 2-3 2-4 3-10 5-19 2-6 1-1 1-1 1 0 4 5 2 2 1 0 1-1 1-1 2-4 2-7 2-10 4-36 1-7 1-1 1 6 3 37 2 16 1 3 1-2 2-11 3-31 2-30 2-379 11 0 1 187 1 306 1 8 22 0 32 2 8 0 28-1 10 1 24 2 8 0 6-1 6-1 3-2 2-2 4-7 7-14 2-2 1 0 1 0 2 2 7 15 2 3 3 3 3 2 3 1 9 2 14 0 32-1 8 0 32 2 36 0 36 1 36-1 40 1 55-1 5-1 4-1 3-1 3-3 3-5 2-5 7-20 2-3 1-1 1 1 2 3 7 20 3 7 2 2 2 3 2 1 3 1 6 1 10 0 40 0 6-1 2-1 2-2 2-3 4-11 1-1 1 0 1 1 4 10 2 4 2 2 2 0 2-1 2-3 5-12 1-2 1 0 1 1 4 10 2 4 2 1 1 1 2 0 2-1 1-1 2-4 1-3 2-11 4-31 1-6 1-3 1 2 1 5 3 19 1 3 1 2 1-2 1-4 3-21 1-5 1-2 1 1 1 5 3 21 2 8 1 1 1-2 1-5 1-11 1-28 1-67 2-361 5 0 2 342 1 79 1 34 1 16 2 13 2 7 2 4 3 3 3 2 5 2 8 1 28 2 10 1 9-1 6 0 4-1 3-1 3-2 4-5 7-13 2-2 1-1 1 0 1 1 2 2 5 9 3 4 2 1 2 1 2 0 2-2 2-2 6-10 2-1 1-1 1 1 2 2 8 14 2 2 3 2 3 2 4 0 21 0l0 4-489-1-215-1-146-2-161-1-68-3-107-4-115 1-44-3-48-6-28-7-24-4-24-7-12-2-8-2-28-14-20-6-28-17-20-7-28-17-16-5-8-4-37-21-9-4-9-3-40-4-41 0-10 2-21 5-17 2-26 7-21 3-36 7-16 2z"/><path id="d18" d="M2372 1628l16-3 16-3 12-2 11-4 8-3 5-3 4-3 3-5 2-6 2-8 3-21 3-33 6-83 1-9 1-5 1-1 1 4 1 8 7 93 3 28 2 12 3 11 3 6 2 1 2 2 5 1 7 0 19-4 3-1 2-2 1-2 5-14 1-1 1-1 1 1 5 7 3 2 17 2 19 4 4 0 3 0 2-2 4-5 1-1 1 0 1 2 4 11 2 4 1 1 2 2 11 4 8 4 8 5 16 11 8 5 8 3 12 4 8 3 8 4 16 9 16 6 8 5 16 12 8 4 8 3 8 1 4 1 8 3 16 8 8 3 12 3 20 6 12 3 12 1 8 1 8 2 20 6 8 1 12 2 20 2 28 0 28 3 12 1 12 0 28-1 36-1 9-1 7-1 4-1 3-2 3-3 2-3 4-11 6-22 2-5 1-1 1-1 1 0 4 2 2 0 2 0 3-3 2 0 1 0 2 3 5 13 3 5 1 1 2 0 4-3 2 0 1 0 1 1 2 3 6 16 3 6 2 3 2 3 4 2 1-18 1-433 1-52 10 0 1 54 1 434 1 18 11 1 30 0 12 0 28 3 10 0 3-1 3-2 2-4 5-11 1-2 1 0 1 1 1 2 5 11 2 3 2 1 5 0 16 0 8 0 5-1 2-1 2-2 2-3 2-4 3-9 5-19 2-5 1-2 1-1 1 0 4 5 2 2 1-1 1 0 1-2 2-4 2-7 2-11 4-36 1-8 1-1 1 6 3 37 2 16 1 2 1-2 2-11 3-32 2-29 2-385 11 0 2 500 1 8 21 3 13 1 12 0 20-2 12 0 29 2 11 0 10 0 10-1 6-2 3-2 2-2 4-5 7-14 2-2 1 0 1 0 2 3 7 14 2 4 3 3 2 2 3 1 4 1 5 1 15 0 24-1 12 0 36 1 40 0 36 1 40-1 12 0 34 1 43-1 5-1 4-1 3-2 2-3 2-3 2-5 7-20 2-3 1-1 1 1 2 3 7 20 3 6 2 3 2 2 4 2 5 0 23 1 24 1 6 0 4 0 3-1 2-2 2-4 4-11 1-1 1 0 1 1 4 10 2 3 2 2 2 0 2-1 2-3 5-13 1-1 1 0 1 1 4 9 2 4 2 2 1 0 2 0 2-1 1-1 2-3 1-4 2-10 4-32 1-5 1-3 1 2 1 4 3 19 1 4 1 1 1-1 1-4 3-21 1-5 1-3 1 2 1 5 3 20 2 8 1 1 1-2 1-5 1-11 1-28 1-67 2-368 5 0 2 348 1 80 1 34 1 15 2 14 2 6 2 4 3 4 4 3 5 1 11 2 21 3 11 1 10-1 6 0 5-1 3-1 3-2 4-5 7-13 2-3 1 0 1 0 1 0 2 2 5 8 3 4 2 2 2 1 2-1 2-2 2-2 6-10 2-1 1 0 1 0 2 2 6 11 3 4 2 3 3 2 3 1 5 1 19 0l0 3-489-1-215-1-146-2-161 0-68-4-107-3-115 0-44-3-48-6-28-7-24-4-24-7-12-2-8-2-28-13-20-7-28-17-20-7-28-17-16-5-8-3-37-22-9-4-9-3-40-4-41 0-10 2-21 5-17 3-26 6-21 3-36 7-16 2z"/><path id="d19" d="M2372 1636l40-7 9-2 8-3 7-2 5-3 3-3 3-6 2-5 2-8 3-21 3-33 6-83 1-10 1-5 1 0 1 3 1 8 7 93 3 28 2 12 3 11 3 5 2 2 2 1 4 1 6 0 22-3 2-1 2-2 1-1 5-14 1-2 1 0 1 1 4 6 2 3 3 1 5 1 35 2 2-1 2-1 4-6 1 0 1 0 1 2 5 13 1 2 2 3 3 2 13 7 24 14 8 4 12 5 12 4 4 2 28 15 16 6 8 5 20 14 8 3 12 3 8 3 20 9 8 4 32 8 8 2 20 2 28 7 20 3 24 5 8 1 8 1 20-1 8 0 28 2 12 0 36-2 28-1 10 0 5-1 3-1 3-3 2-3 2-4 2-5 7-24 2-5 1-2 1-1 1 0 4 3 2 0 2 0 3-3 2 0 1 0 2 3 5 13 2 4 1 1 1 1 2-1 4-3 2-1 1 0 1 1 2 3 6 15 3 6 2 3 2 2 4 2 1-18 1-434 1-57 10 0 1 60 1 434 1 18 13 3 12 1 32 0 24 2 10 0 3-1 3-2 2-3 5-12 1-1 1 0 1 1 1 1 5 12 2 2 2 1 5 1 12 0 10-1 6-1 3-2 2-2 2-2 2-5 3-9 5-19 2-6 1-2 1-1 1 0 1 1 3 4 2 2 1 0 1-1 1-1 2-5 2-6 2-11 4-36 1-7 1-1 1 6 3 37 2 16 1 3 1-2 2-11 3-31 2-29 2-395 11 0 2 510 1 8 30 0 32 1 33 0 33 1 12-1 5-2 4-3 4-6 7-14 2-2 1 0 1 1 2 2 7 15 4 6 2 1 3 2 3 1 5 1 10 0 27 0 28 0 32-1 8 0 20 2 12 1 36-2 28 1 12 0 52-1 31-1 4-1 3-1 3-2 2-2 2-3 2-5 7-19 2-3 1-1 1 1 2 3 7 20 3 7 2 3 2 1 4 2 6 1 22-1 25 1 9 0 3-1 2-3 2-3 4-11 1-1 1-1 1 1 4 10 2 4 2 2 2 0 2-1 2-3 5-13 1-1 1 0 1 1 4 9 2 4 2 2 1 0 2 0 2-1 1-1 2-3 1-3 2-11 4-32 1-6 1-2 1 2 1 4 3 19 1 4 1 1 1-2 1-4 3-20 1-6 1-2 1 2 1 4 3 21 2 8 1 1 1-2 1-5 1-11 1-28 1-67 2-376 5 0 2 357 1 80 1 34 1 16 2 13 2 7 3 6 3 3 4 3 6 1 9 1 29-1 23 0 5-1 2-1 2-2 3-4 6-10 2-3 1 0 1 0 2 1 7 11 2 2 2 1 2 1 2-1 2-2 2-3 6-10 2-1 1-1 1 1 2 2 6 11 3 4 2 2 3 3 4 1 5 1 18 1l0 2-489-1-215-1-146-2-161 0-68-3-107-4-115 0-44-3-48-6-28-7-24-4-24-7-12-2-8-2-28-13-20-7-28-17-20-7-28-17-16-5-8-3-37-22-9-4-9-3-40-4-41 0-10 2-21 5-17 3-26 6-21 3-36 7-16 3z"/><path id="d20" d="M2372 1645l8-1 12-2 27-7 13-4 5-2 4-3 3-3 3-4 2-6 2-8 3-21 3-33 6-83 1-9 1-6 1 0 1 3 1 8 7 92 3 28 2 12 3 11 3 5 2 2 2 1 5 2 6 0 20-2 3-1 2-1 1-2 2-4 3-9 1-2 1-1 1 1 5 8 2 1 3 1 17 0 22 1 2 0 2-2 4-5 1 0 1 0 1 2 4 11 2 4 2 2 2 2 14 7 28 18 12 5 4 2 12 3 8 3 24 15 4 2 12 5 4 2 24 14 8 3 12 3 4 2 8 4 16 8 8 3 16 3 28 7 16 3 20 6 8 2 8 1 20 1 28 4 28 2 16 1 20 0 40-2 12 0 22 0 10 0 4-1 3-2 3-3 2-4 4-11 6-22 2-5 1-2 1 0 1-1 4 2 2 1 2-1 3-3 2 0 1 0 2 3 5 13 3 5 1 1 2 0 4-3 2-1 1 1 1 1 2 3 6 16 3 6 2 4 2 2 4 3 1-19 1-433 1-68 10 0 1 69 1 434 1 19 17 0 12 1 28 3 8 0 12 0 12-1 5-1 3-3 2-3 5-12 1-1 1 0 1 1 1 2 5 11 2 3 2 1 5 2 12 1 10 0 6-2 3-1 2-2 2-3 2-4 3-9 5-20 2-6 1-2 1 0 1 0 1 0 3 4 2 2 1 0 1-1 1-1 2-5 2-7 2-10 4-37 1-7 1-1 1 6 3 37 2 16 1 2 1-1 2-11 3-32 2-29 2-402 11 0 2 517 1 8 58 3 12 0 29-2 10 1 22 1 9 0 5-1 2-1 2-2 4-6 7-15 2-2 1 0 1 0 2 2 8 16 2 2 3 3 3 2 4 1 21 2 16 1 24-2 8 0 12 0 20 3 12 0 8 0 20-3 12 0 8 0 20 2 12 1 32-1 37 0 37-2 5-1 3 0 3-3 2-2 2-3 2-5 7-20 2-3 1 0 1 0 2 4 7 20 3 6 2 3 2 2 4 2 6 0 22 0 25 2 9-1 3-1 2-2 2-4 4-11 1-1 1-1 1 1 4 10 2 4 2 1 2 1 2-2 2-2 5-13 1-1 1-1 1 1 4 10 2 4 2 2 1 0 2 1 2-1 1-1 2-4 1-3 2-10 4-32 1-5 1-3 1 2 1 5 3 19 1 3 1 2 1-2 1-4 3-21 1-5 1-2 1 1 1 5 3 20 2 8 1 1 1-2 1-5 1-12 1-27 1-68 1-144 1-240 5 0 2 364 1 80 1 34 1 15 1 8 2 9 2 5 3 4 3 3 4 2 9 2 17 4 10 1 9 0 8 0 9-2 5-1 4-2 3-2 2-3 8-13 2-3 1 0 1 0 2 1 7 12 2 2 2 2 2 1 2-1 2-2 2-2 6-10 2-1 1 0 1 0 2 2 8 14 2 2 3 2 3 2 4 0 21 1l0 3-489-1-215-1-146-2-161 0-68-3-107-4-115 0-44-3-48-6-28-6-24-5-24-6-12-3-8-2-28-13-20-7-28-16-20-8-28-16-16-6-8-3-37-22-9-4-9-3-40-4-41 0-10 2-21 5-17 3-26 7-21 2-36 8-16 2z"/><path id="d21" d="M2372 1654l12-2 28-9 19-4 6-1 3-2 3-2 2-2 2-4 2-5 2-8 3-21 3-33 6-84 1-9 1-5 1-1 1 3 1 8 7 91 3 28 2 12 3 11 3 5 2 2 2 1 5 1 7 0 15 0 5-1 2 0 2-2 1-2 2-4 3-10 1-1 1-1 1 1 5 7 2 2 2 0 17 0 23 4 2 0 2-2 4-5 1-1 1 1 1 1 4 11 2 5 3 3 12 5 7 3 24 15 8 5 8 3 12 3 8 3 8 5 16 10 4 2 16 7 16 10 8 4 8 3 8 2 8 3 20 11 8 4 8 2 12 1 12 2 52 15 12 2 12 0 8 0 24 5 8 1 32 0 32 2 12 0 52-1 9-1 8-1 5-1 4-2 3-3 2-3 2-4 2-5 7-25 2-5 1-2 1 0 1-1 4 3 2 1 2-1 3-2 2 0 1 0 2 3 5 13 3 6 1 1 2 0 4-3 2-1 1 1 1 0 2 4 6 15 3 6 2 3 2 2 4 2 1-18 1-434 1-75 10 0 1 76 1 434 1 19 11 1 22 2 8 1 32-1 19 0 3 0 2-2 2-3 5-11 1-1 1 0 1 1 1 2 5 12 2 2 3 2 6 0 10 0 10-1 6-2 3-1 2-2 2-3 2-4 3-9 5-20 2-5 1-2 1-1 1 1 4 5 2 1 1 0 1 0 1-2 2-4 2-7 2-10 4-37 1-7 1-1 1 6 3 37 2 16 1 2 1-1 2-12 3-31 2-30 2-410 11 0 2 525 1 8 46 2 28 1 20 0 47-2 5-1 2-1 2-3 3-4 7-14 2-2 1 0 1 1 2 2 6 12 4 7 2 2 3 2 6 1 52 2 48-2 36 2 16 1 40-1 40 0 38-1 29 0 4 0 3-1 3-2 2-3 2-3 2-5 7-20 2-3 1-1 1 0 2 3 7 20 3 6 2 3 2 2 4 2 6 1 34 1 13 0 9 0 3-2 2-2 2-4 4-10 1-2 1 0 1 1 4 10 2 4 2 2 2 0 2-1 2-3 5-12 1-1 1-1 1 2 4 10 2 3 2 2 1 1 2 0 2-1 1-1 2-4 1-3 2-11 4-31 1-6 1-3 1 2 1 4 3 19 1 4 1 1 1-2 1-4 3-21 1-5 1-2 1 1 1 5 3 20 2 8 1 1 1-2 1-5 1-11 1-28 1-67 1-144 1-248 5 0 2 372 1 80 1 34 1 16 2 13 2 7 3 6 3 3 4 2 5 2 6 1 8 0 35 2 10 0 6-1 3-1 2-2 4-5 6-11 2-3 1 0 1-1 2 2 7 10 2 3 2 1 2 0 2 0 2-2 2-3 6-9 2-2 1 0 1 0 2 2 6 11 3 5 2 2 3 2 4 2 5 0 8 1 10-1l0 3-489 0-215-2-146-2-161 0-68-3-107-4-115 0-44-3-48-6-28-6-24-4-24-7-12-3-8-2-28-13-20-7-28-16-20-8-28-16-16-6-8-3-37-22-9-4-9-3-40-4-41 1-10 1-21 5-17 3-26 7-21 3-36 7-16 2z"/><path id="d22" d="M2372 1662l8-1 8-1 20-6 19-5 6-2 5-2 4-3 3-3 2-4 2-5 2-9 3-21 3-33 6-84 1-9 1-5 1-1 1 4 1 7 7 92 2 20 2 15 2 10 3 9 3 4 4 3 6 1 7 1 12-2 6-1 2 0 2-2 1-2 5-14 1-2 1 0 1 0 5 8 3 1 17 2 20 3 4 0 3-1 2-2 3-4 1-1 1 0 1 2 4 11 2 4 3 3 15 8 24 15 8 5 8 3 4 1 12 3 8 3 24 15 4 2 12 5 4 1 8 5 12 7 8 5 4 2 16 5 24 11 8 3 16 3 24 8 8 2 16 2 20 5 12 2 12 0 8 1 28 4 12 1 12 1 32 0 24 1 32-1 27 0 9 0 4-1 3-2 3-4 2-3 4-11 6-23 2-5 1-1 1-1 1-1 4 2 2 1 2-1 3-3 2 0 1 0 2 3 5 13 3 5 1 1 2 0 4-2 2-1 2 1 2 4 6 15 3 7 2 3 2 2 4 3 1-19 1-433 1-84 10 0 1 85 1 434 1 18 17 1 20 2 12 1 43 0 3-1 2-1 2-3 5-11 1-2 1 0 1 1 1 2 5 12 2 3 3 1 5 1 7 0 13-2 7-2 3-1 2-2 2-3 2-4 3-9 5-19 2-6 1-2 1 0 1 0 4 5 2 1 1 0 1 0 1-2 2-4 2-7 2-10 4-37 1-7 1-1 1 5 3 38 2 16 1 2 1-2 2-11 3-32 2-29 2-418 11 0 2 533 1 8 14 1 12 1 40 0 58 2 10 0 6-1 5-1 2-1 2-2 4-6 7-14 2-3 1 0 1 1 2 2 7 14 4 5 2 2 3 1 3 1 5 1 21 1 32 0 32 1 36-1 8 0 24 2 8 1 32-2 32 1 33-2 9 0 19 1 8 0 5-1 3-1 3-2 2-2 3-5 2-5 7-21 2-3 1-1 1 1 2 3 7 20 3 6 2 3 2 2 3 2 3 2 10 1 12 1 12 0 23-1 4 0 2-1 2-2 2-4 4-10 1-2 1 0 1 2 4 10 2 3 2 2 2 1 2-1 2-3 5-13 1-1 1-1 1 2 4 9 2 3 2 2 1 0 2 0 2-1 1-1 2-4 1-3 2-11 4-32 1-6 1-2 1 1 1 5 3 19 1 3 1 1 1-1 1-4 3-21 1-5 1-3 1 2 1 5 3 20 2 9 1 0 1-1 1-5 1-12 1-27 1-67 1-144 1-250 1-6 4 0 2 381 1 80 1 34 1 15 1 8 2 10 2 5 3 5 4 3 5 2 8 1 12 1 19 1 16-1 10-1 3 0 3-2 4-5 7-12 2-2 1-1 1 0 2 2 7 11 2 3 2 1 2 1 2-1 2-1 2-3 6-10 2-2 1 0 1 1 2 2 6 10 3 5 2 2 3 2 3 1 5 1 19 0l0 3-489-1-215-1-146-2-161-1-68-3-107-4-115 0-44-2-48-6-28-7-24-4-24-7-12-2-8-3-28-13-20-7-28-16-20-8-28-16-16-6-8-3-37-21-9-5-9-2-40-4-41 0-10 1-21 5-17 3-26 7-21 3-36 7-16 2z"/><path id="d23" d="M2372 1669l12-2 43-9 7-2 5-2 3-2 3-4 2-3 2-6 2-8 3-21 3-33 6-84 1-10 1-5 1-1 1 4 1 8 7 91 3 28 2 12 3 10 3 5 2 2 2 1 4 1 6 1 21 0 3-1 2-1 1-2 2-4 3-9 1-2 1 0 1 1 5 7 2 2 3 0 20-1 17 2 3-1 3-1 4-5 1-1 1 1 1 1 4 12 2 4 2 2 2 2 14 7 32 18 8 4 16 6 4 2 8 4 12 8 8 5 4 1 12 4 8 3 24 15 4 1 12 4 4 2 24 12 8 3 16 3 16 5 8 2 8 1 12 1 8 1 20 6 8 2 36 5 28 1 28 2 36-1 28 1 12 0 12-1 12-2 6-1 3-1 3-3 3-4 2-4 2-5 7-25 2-5 1-1 1-1 1 0 4 3 2 0 2 0 3-2 2-1 1 1 2 3 5 13 3 5 1 1 2 0 4-3 2-1 1 1 1 0 2 4 6 14 3 7 2 3 2 2 4 2 1-18 1-434 1-91 10 0 1 92 1 435 1 18 29 4 12 1 8 0 24-1 19-1 3 0 2-2 2-3 5-11 1-1 1 0 2 3 5 12 2 3 3 1 6 1 10 0 10-1 6-2 3-2 2-2 2-3 2-4 3-9 5-20 2-6 1-1 1-1 1 0 1 1 3 4 2 1 1 0 1 0 1-2 2-4 2-7 2-10 4-36 1-7 1-2 1 6 3 38 2 16 1 2 1-1 2-12 3-31 2-29 2-427 11 0 2 542 1 8 10 1 12 0 48 0 43 2 14-1 12-1 3 0 3-1 4-3 4-6 7-14 2-2 1 0 1 0 2 3 7 14 4 6 2 2 3 2 3 1 5 0 13 1 32-2 12 0 20 2 12 1 12 0 32-2 36 1 36 0 36 1 12 0 25-2 19-1 3 0 3-1 3-2 2-3 2-3 2-5 7-19 2-3 1-1 1 1 2 3 7 20 3 7 2 3 2 2 4 2 7 0 21 0 25 1 6-1 4 0 2-1 2-2 2-4 4-11 1-1 1 0 1 1 4 10 2 3 2 2 2 1 2-2 2-2 5-13 1-1 1-1 1 2 4 9 2 4 2 2 1 0 2 0 2-1 1-1 2-4 1-3 2-10 4-32 1-6 1-2 1 1 1 5 3 19 1 4 1 1 1-2 1-4 3-20 1-6 1-2 1 2 1 4 3 21 2 8 1 1 1-2 1-5 1-12 1-27 1-67 1-144 1-250 1-15 4 0 2 389 1 80 1 34 1 16 1 8 2 9 2 5 3 5 4 3 6 2 7 1 12 1 41 0 6-1 3-1 2-1 4-5 6-11 2-2 1 0 1 0 2 1 7 11 2 3 3 2 2-1 2-1 2-2 7-12 2-2 1 0 1 0 2 2 8 13 2 2 3 2 3 1 3 1 22 2l0 4-489-1-215-1-146-2-161-1-68-3-107-4-115 1-44-3-48-6-28-7-24-4-24-7-12-2-8-3-28-13-20-6-28-17-20-8-28-16-16-5-8-4-37-21-9-4-9-3-40-4-41 0-10 2-21 5-17 2-26 7-21 3-36 7-16 2z"/><path id="d24" d="M2372 1677l12-1 12-2 14-3 15-5 9-3 6-3 4-4 3-5 2-6 2-8 3-20 3-33 6-84 1-9 1-5 1-1 1 4 1 8 7 92 3 28 2 13 3 11 3 5 2 2 2 1 5 1 6 0 20-3 3 0 2-2 1-2 2-5 3-9 1-1 1-1 1 1 5 7 2 2 4 1 14 0 20 2 4 0 2-1 2-1 4-6 1 0 1 0 1 2 4 11 2 4 3 3 11 5 8 4 24 16 8 5 8 4 12 4 4 1 28 16 4 2 12 4 4 2 8 4 16 11 8 4 16 5 20 9 8 3 8 2 12 2 28 8 20 4 28 6 16 2 24 4 8 1 24 0 36 2 16 0 16 0 32-2 24-2 6 0 3-1 3-2 2-2 2-4 4-10 6-21 2-5 1-2 1 0 1 0 4 2 2 1 2-1 3-2 2-1 1 1 2 3 5 13 3 5 1 0 2 1 4-4 2 0 1 0 1 1 2 3 6 15 3 6 2 3 2 2 4 3 1-18 1-434 1-100 10 0 1 102 1 434 1 19 21 1 24 1 32 1 8 0 6 0 3-1 3-2 2-3 5-12 1-1 1 0 1 1 1 2 5 11 2 2 2 2 5 0 12 0 11-1 6-2 2-1 2-2 2-3 2-4 3-9 5-19 2-5 1-2 1-1 1 1 4 5 2 2 1 0 1-1 1-1 2-5 2-6 2-11 4-36 1-7 1-1 1 6 3 37 2 16 1 2 1-1 2-11 3-32 2-29 2-436 11 0 2 550 1 8 30 0 48 2 55 0 8-1 5-2 2-1 2-2 3-5 7-14 2-2 1 0 1 1 2 2 7 14 4 6 2 2 3 1 3 1 5 1 37 2 16 0 48-2 48 2 12-1 36-1 12 0 43 2 19-1 21 0 6-1 4-1 3-2 2-2 3-5 2-4 7-21 2-3 1 0 1 0 2 3 7 21 3 6 2 3 2 2 2 1 3 1 5 1 8 0 39 1 9 0 3-2 2-2 2-3 4-11 1-1 1-1 1 2 4 9 2 4 2 2 2 0 2-1 2-3 5-12 1-2 1 0 1 1 4 10 2 3 2 2 1 0 2 0 2-1 1-1 2-4 1-3 2-10 4-32 1-6 1-3 1 2 1 5 3 19 1 3 1 1 1-1 1-4 3-21 1-5 1-2 1 1 1 5 3 21 2 8 1 1 1-2 1-5 1-11 1-28 1-67 1-144 1-250 1-23 4 0 2 398 1 80 1 35 1 15 1 8 2 9 3 7 3 4 4 3 6 2 6 1 8 0 44-1 7-1 3-1 2-2 4-5 6-11 2-2 1-1 1 0 2 1 7 12 2 2 2 1 2 1 2-1 2-2 2-2 6-10 2-2 1 0 1 0 2 2 6 11 3 4 2 2 3 2 3 1 5 1 19 1l0 4-489-1-215-1-146-2-161-1-68-3-107-4-115 1-44-3-48-6-28-7-24-4-24-7-12-2-8-2-28-14-20-6-28-17-20-7-28-17-16-5-8-4-37-21-9-4-9-3-40-4-41 0-10 2-21 5-17 2-26 7-21 3-36 7-16 2z"/><path id="d25" d="M2372 1686l12-2 12-2 23-6 13-3 5-2 4-3 3-2 3-5 2-6 2-8 3-21 3-33 6-83 1-9 1-6 1 0 1 3 1 8 7 92 3 28 2 12 3 10 3 5 3 3 4 1 6 0 23-3 2-1 2-2 1-1 2-5 3-9 1-2 1 0 1 1 5 8 2 1 4 1 14 1 20 3 4 0 2-1 2-1 4-5 1-1 1 0 1 2 4 11 2 4 3 3 11 6 8 4 24 15 8 4 8 4 12 4 4 2 8 4 12 7 8 5 4 1 12 4 4 1 8 5 12 7 8 5 4 1 12 4 4 2 20 10 8 4 4 1 16 4 24 6 24 4 28 6 44 6 28 1 28 2 28 0 28 0 28-2 15-1 4-1 3-1 3-3 2-3 2-4 2-5 7-25 2-5 1-1 1-1 1 0 4 3 2 0 2 0 3-2 2-1 1 1 2 3 5 13 3 5 1 1 2 0 4-3 2-1 1 0 1 1 2 4 6 15 3 6 2 3 2 2 4 3 1-18 1-434 1-109 10 0 1 110 1 434 1 19 65 3 16 0 10-1 3-1 3-2 2-3 5-12 1-1 1-1 1 1 1 2 5 12 2 2 2 1 5 1 12 0 11-1 6-1 2-1 2-2 2-2 2-4 3-9 5-19 2-6 1-1 1-1 1 0 4 5 2 2 1 0 1-1 1-1 2-4 2-7 2-10 4-36 1-7 1-2 1 6 3 37 2 17 1 2 1-2 2-11 3-31 2-30 2-444 11 0 2 559 1 8 90 1 34 0 16-1 5-1 4-3 4-6 7-14 2-2 1 0 1 1 2 2 7 14 4 6 2 2 3 2 4 1 5 0 11 1 13 0 56-1 56 1 52 0 52 1 23 0 25-1 8-1 4-1 3-1 3-3 3-5 2-5 7-20 2-3 1 0 1 0 2 3 7 21 3 6 2 3 2 3 3 1 3 1 10 2 16 0 20-1 9 0 5-1 3-1 2-3 2-4 4-10 1-2 1 0 1 1 4 10 2 4 2 1 2 1 2-1 2-3 5-13 1-1 1 0 1 1 4 10 2 3 2 2 1 1 2 0 2-1 1-1 2-4 1-3 2-11 4-32 1-5 1-3 1 2 1 4 3 19 1 4 1 1 1-2 1-4 3-20 1-6 1-2 1 2 1 4 3 21 2 8 1 1 1-2 1-5 1-12 1-27 1-67 1-144 1-250 1-30 4 0 2 404 1 80 1 35 1 15 1 8 2 9 2 5 3 5 4 3 6 3 7 1 15 2 23 1 14 0 4 0 3-1 3-1 2-2 4-5 6-10 2-3 1 0 1-1 2 2 7 11 2 2 2 1 2 1 2-1 2-2 2-2 6-11 2-1 1-1 1 1 2 1 6 11 3 4 2 2 3 2 3 1 4 1 20 1l0 3-489-1-215-1-146-2-161 0-68-4-107-3-115 0-44-3-48-6-28-7-24-4-24-7-12-2-8-2-28-13-20-7-28-17-20-7-28-17-16-5-8-3-37-22-9-4-9-3-40-4-41 0-10 2-21 5-17 3-26 6-21 3-36 7-16 2z"/><path id="d26" d="M2372 1695l8-1 8-2 27-9 21-6 4-2 3-2 2-2 2-4 2-5 2-8 3-20 3-33 6-83 1-9 1-5 1-1 1 4 1 8 7 92 3 28 2 13 3 10 3 5 3 2 4 1 6 0 23-4 2-1 2-2 1-1 5-14 1-2 1 0 1 1 5 8 3 2 4 1 28 4 8 0 3 0 2-2 4-5 1-1 1 0 1 2 4 11 2 4 1 1 2 2 11 4 8 5 24 15 8 4 8 4 12 4 4 1 8 4 20 12 4 2 12 4 4 2 8 5 12 8 8 4 8 4 12 3 20 8 8 3 8 3 12 2 20 7 12 3 16 3 24 4 20 3 24 4 12 2 60 1 28 1 12 0 12 0 12-1 23-4 5-1 3-2 3-3 3-6 3-8 6-21 2-5 1-2 1 0 1 0 4 2 2 1 2 0 3-2 2-1 1 1 2 3 5 13 3 5 1 1 2 0 4-3 2 0 1 0 1 1 2 3 6 15 3 6 2 3 2 2 4 2 1-18 1-434 1-116 10 0 1 117 1 434 1 19 21 1 28 2 16 1 16 1 10-1 3-1 3-2 2-3 5-12 1-1 1 0 1 1 1 2 5 12 2 2 3 2 3 0 5 1 12-1 8-1 5-1 2-1 2-2 2-3 2-4 3-10 5-19 2-6 1-2 1-1 1 1 1 0 3 4 2 2 1 0 1-1 1-1 2-5 2-6 2-11 4-36 1-7 1-2 1 6 3 38 2 16 1 2 1-1 2-12 3-31 2-29 2-451 11 0 2 567 1 8 11 1 11 0 36-1 12 0 12 0 25 2 12 1 11-1 9 0 3-1 3-1 4-4 4-6 7-14 2-2 1 0 1 0 2 3 7 14 2 3 3 3 3 2 3 2 10 1 13 1 12 0 48-1 48 2 44-1 60 1 48 0 15-1 5-1 4-1 3-1 3-3 3-5 2-5 7-20 2-3 1-1 1 1 2 3 7 20 3 6 2 3 2 2 2 2 3 1 10 1 29 2 14 0 8-1 3-1 2-2 2-4 4-11 1-1 1-1 1 2 4 9 2 4 2 2 2 0 2-1 2-3 5-13 1-2 1 0 1 1 4 10 2 3 2 2 1 1 2 0 2-1 1-1 2-4 1-3 2-11 4-32 1-5 1-3 1 2 1 5 3 19 1 3 1 1 1-1 1-4 3-21 1-5 1-2 1 1 1 5 3 21 2 8 1 1 1-2 1-5 1-11 1-28 1-67 1-144 1-250 1-39 4 0 1 250 1 165 1 79 1 35 1 15 1 8 2 9 3 7 3 4 4 3 6 2 6 1 8 0 44-1 7-1 3-1 2-2 4-5 6-10 2-3 1 0 1 0 2 1 7 12 2 2 2 2 2 0 2 0 2-2 2-3 6-9 2-2 1 0 1 0 2 2 6 10 3 5 2 2 3 2 3 1 5 1 19 0l0 3-489-1-215-1-146-2-161 0-68-3-107-4-115 0-44-3-48-6-28-7-24-4-24-7-12-2-8-2-28-13-20-7-28-17-20-7-28-17-16-5-8-3-37-22-9-4-9-3-40-4-41 0-10 2-21 5-17 3-26 6-21 3-36 7-16 3z"/><path id="d27" d="M2372 1702l12-2 17-3 14-4 12-4 8-3 5-3 4-4 3-5 2-6 2-8 3-21 3-32 6-84 1-9 1-5 1-1 1 4 1 8 7 93 2 20 2 15 2 10 3 8 3 5 4 2 5 1 6 0 20-2 2-1 2-1 1-2 2-5 3-9 1-1 1-1 1 1 4 7 2 2 3 1 4 0 30 3 6 0 2-1 2-2 4-5 1-1 1 1 1 1 4 11 2 4 3 3 15 8 28 17 12 6 16 4 4 2 8 4 20 13 4 2 12 4 4 2 8 5 12 7 8 5 4 1 16 6 20 10 8 3 8 1 12 2 8 2 20 7 16 3 28 7 8 1 36 4 8 0 16 0 8 0 28 3 8 1 12 0 28-1 32 0 9 0 8-2 5-1 4-2 3-2 2-3 2-4 2-6 7-25 2-5 1-1 1-1 1 0 4 3 2 0 2 0 3-3 2 0 1 1 2 3 5 13 3 5 1 1 2 0 4-3 2-1 1 0 1 1 2 3 6 16 3 6 2 3 2 2 4 2 1-18 1-434 1-124 10 0 1 125 1 434 1 19 41 3 40 1 11 0 3-1 2-2 2-3 5-11 1-2 1 0 1 1 1 2 5 11 2 3 2 1 4 1 9-1 15-1 6-1 2-1 2-2 2-3 2-4 3-9 5-19 2-5 1-2 1 0 1 0 4 5 2 2 1 0 1-1 1-1 2-4 2-7 2-10 4-37 1-7 1-1 1 5 3 38 2 16 1 2 1-1 2-12 3-31 2-30 2-460 11 0 2 575 1 8 15 1 15 0 28-1 12 0 12 0 22 2 12 0 14 0 10-1 5-1 4-3 4-6 7-14 2-2 1 0 1 0 2 3 7 14 3 5 2 2 3 1 3 1 3 1 32 0 28 2 12 0 32-1 40 1 32-1 36 1 39-2 34 2 12-1 5 0 4-2 3-2 2-2 2-4 2-5 7-20 2-3 1 0 1 0 2 3 7 21 3 6 2 3 2 2 2 2 3 1 7 1 11 0 40-2 4-1 2-1 2-2 2-4 4-10 1-1 1 0 1 1 1 2 4 10 1 2 2 2 1 0 2 0 2-2 2-3 4-11 1-1 1 0 1 1 4 10 2 3 2 2 1 0 2 0 2-1 1-1 2-3 1-4 2-10 4-32 1-6 1-2 1 1 1 5 3 19 1 3 1 1 1-1 1-5 3-20 1-6 1-2 1 2 1 5 3 20 2 8 1 1 1-2 1-5 1-11 1-28 1-67 1-144 1-250 1-47 4 0 1 257 1 165 1 80 1 34 1 15 1 8 2 9 2 5 3 5 4 3 5 2 5 1 7 0 36 3 11 0 5-1 3 0 3-2 2-1 4-6 6-11 2-2 1-1 1 0 2 2 7 11 2 2 2 2 2 0 2 0 2-2 2-3 6-9 2-2 1 0 1 0 2 2 6 11 3 4 2 3 3 2 3 1 5 0 19 0l0 3-489-1-215-1-146-2-161 0-68-3-107-4-115 0-44-3-48-6-28-6-24-5-24-6-12-3-8-2-28-13-20-7-28-16-20-8-28-16-16-6-8-3-37-22-9-4-9-3-40-4-41 0-10 2-21 5-17 3-26 7-21 2-36 8-16 2z"/><path id="d28" d="M2372 1710l12-2 26-5 10-3 9-2 7-3 5-3 3-3 3-6 2-5 2-9 3-21 3-34 6-82 1-8 1-5 1 0 1 4 1 8 7 91 3 28 2 12 3 11 3 5 2 2 2 1 4 1 5 0 23-3 2 0 2-2 1-2 2-4 3-9 1-2 1 0 1 1 4 7 2 2 3 1 4 1 36 1 2 0 2-2 4-5 1-1 1 1 1 1 4 11 2 5 2 2 2 2 14 6 36 20 8 4 12 5 4 2 20 12 8 4 4 2 12 4 4 2 24 14 8 3 12 3 4 1 8 4 20 11 8 2 12 3 24 6 20 4 24 5 8 2 16 1 28 5 8 0 16 0 8 1 24 3 8 0 12 0 28-2 32-1 20-2 4-1 3-2 2-2 2-2 2-4 2-6 7-23 2-5 1-1 1-1 1 0 4 2 2 1 2-1 4-2 1 0 1 0 1 2 2 4 4 10 2 3 1 1 1 1 2 0 5-4 1 0 1 0 1 1 2 3 6 15 3 6 2 3 2 2 4 2 1-18 1-434 1-131 10 0 1 134 1 434 1 19 17 1 52 2 12 1 10-1 3-1 3-2 2-3 5-12 1-1 1 0 1 1 1 2 5 12 2 2 3 2 6 1 10 1 9-1 7-2 3-2 2-2 2-3 2-4 3-9 5-21 2-5 1-2 1-1 1 1 4 5 2 1 1 0 1-1 1-1 2-5 2-7 2-10 4-36 1-7 1-1 1 6 3 37 2 16 1 3 1-2 2-11 3-31 2-30 2-467 11 0 2 583 1 8 15 1 19 1 12-1 20-1 12 0 26 2 10 1 9-1 17-1 5-2 4-3 4-6 7-13 2-2 1 0 1 0 2 3 7 14 4 6 2 2 3 1 3 1 5 1 25 1 16 0 12-1 20-1 8-1 12 1 20 3 12 0 32-1 44-1 44 2 30-2 18-1 6 0 3 0 3-2 2-2 2-2 3-7 7-20 2-3 1 0 1 0 2 3 7 20 3 6 2 3 2 2 4 2 8 0 24 1 24-1 7 0 2-1 2-2 2-4 4-10 1-1 1 0 1 1 1 2 4 10 1 2 2 2 1 0 2 0 2-1 2-4 4-10 1-2 1 0 1 1 4 10 2 3 2 2 1 0 2 0 2-1 1-1 2-4 1-3 2-11 4-32 1-6 1-3 1 2 1 4 3 19 1 4 1 1 1-2 1-4 3-21 1-5 1-3 1 2 1 5 3 20 2 8 1 1 1-2 1-5 1-11 1-28 1-67 1-144 1-250 1-54 4 0 1 265 1 164 1 80 1 35 1 15 1 8 2 9 2 6 3 4 4 4 5 2 6 1 10 1 22 1 12 0 14-1 3-1 3-1 4-4 8-14 2-2 1-1 1 0 2 1 8 13 3 3 2 1 2-1 2-2 2-2 6-10 2-1 1-1 1 1 2 2 8 13 2 2 3 2 3 1 3 1 22 1l0 3-489 0-215-2-146-2-161 0-68-3-107-4-115 0-44-3-48-6-28-6-24-4-24-7-12-3-8-2-28-13-20-7-28-16-20-8-28-16-16-6-8-3-37-22-9-4-9-3-40-4-41 1-10 1-21 5-17 3-26 7-21 3-36 7-16 2z"/><path id="d29" d="M2372 1718l12-2 12-2 14-3 19-6 7-2 4-2 3-3 3-4 2-4 2-8 2-12 1-9 2-23 5-78 2-17 1-5 1-2 1 0 1 4 2 15 6 73 2 20 2 15 2 11 3 10 3 4 3 2 4 1 6 0 23-4 2 0 2-2 1-2 5-13 1-2 1-1 1 1 5 8 2 1 4 1 14 1 19 3 5 0 2 0 2-2 4-5 1-1 1 0 1 2 4 11 2 4 3 3 12 5 7 4 32 19 8 4 12 4 4 2 8 4 12 8 8 5 4 1 12 4 4 2 8 5 12 7 8 4 4 2 16 5 24 11 8 3 16 3 28 8 16 3 28 6 8 1 16 2 32 4 36 3 12 1 24-1 66-3 10-1 4-1 3-1 2-2 2-3 3-8 6-22 3-5 2-2 1 0 3 0 2 0 4-3 2 0 2 1 2 2 2 4 4 9 2 3 1 1 2 1 4-3 2 0 2 1 1 1 3 4 6 14 3 6 2 2 2 2 4 2 1-18 1-434 1-140 10 0 1 142 1 434 1 19 57 4 20 0 14 0 3-1 3-2 2-3 5-12 1-1 1 0 1 1 1 1 5 12 2 2 2 2 5 1 12-1 11-1 6-1 3-2 2-2 3-6 3-10 5-21 2-5 1 0 1 0 4 6 2 2 1 0 1-1 2-4 4-12 2-8 5-41 1-1 1 5 3 36 2 16 1 2 1-2 2-11 3-32 2-29 2-476 11 0 2 592 1 8 9 0 10 1 35-1 12 0 47 2 7 0 4-1 8-3 2 0 5 2 3 0 4-2 4-3 3-4 7-12 2-2 1 0 1 0 2 2 7 13 4 5 2 1 3 2 4 0 5 1 20 1 44 0 36 2 16 0 12 0 28-2 12 0 12 0 28 2 16 0 37-2 20-1 5-1 5-3 2-1 2 1 3 2 2 1 3-1 2-1 3-3 2-3 8-20 2-3 1 0 1 0 2 3 7 18 3 5 2 3 2 2 2 1 3 1 7 0 40 1 9 0 5 0 3-1 2-2 2-4 4-11 1-1 1 0 1 1 4 9 2 4 2 2 2 0 2-1 2-3 5-13 1-2 1 0 1 1 4 10 2 3 2 2 1 0 2 0 2-1 1-1 2-4 1-3 2-11 4-31 1-6 1-3 1 2 1 4 3 19 1 4 1 1 1-1 1-5 3-20 1-5 1-3 1 2 1 5 3 20 2 9 1 1 1-2 1-5 1-11 1-28 1-67 1-144 1-250 1-63 3 0 1 2 1 272 1 164 1 80 1 35 1 15 1 8 2 9 2 6 2 3 3 3 3 2 4 2 5 1 7 0 8 0 29-1 3 0 5-2 2 0 6 1 2 1 2-1 3-1 2-2 3-4 6-9 2-2 1-1 2 1 1 1 6 10 2 3 2 2 1 0 2 0 2-1 2-2 7-10 2-1 1-1 1 1 2 1 8 12 2 2 3 2 3 1 4 1 21 1l0 3-489-1-215-1-146-2-161-1-68-3-107-4-115 0-44-2-48-6-28-7-24-4-24-7-12-2-8-3-28-13-20-6-28-17-20-8-28-16-16-5-8-4-37-21-9-5-9-2-40-4-41 0-10 1-21 5-17 3-26 7-21 3-36 7-16 2z"/><path id="d30" d="M2372 1725l8 0 12-3 32-7 9-2 5-3 4-2 3-4 2-4 2-6 1-5 2-15 1-11 2-33 4-83 1-11 1-4 1 2 1 6 2 16 8 82 4 33 2 10 3 9 3 5 2 2 2 1 5 1 8 1 15-2 5-1 2 0 2-2 1-2 2-5 3-9 1-2 1 0 1 1 5 7 2 1 3 1 15 0 24 3 2-1 2-1 4-5 1-1 1 0 1 2 5 13 1 2 2 2 2 2 14 6 24 16 8 4 8 4 4 1 12 3 4 2 8 4 16 11 8 5 16 6 20 11 8 4 4 2 12 3 4 2 24 12 8 3 16 2 28 8 24 3 28 6 32 6 12 1 20 0 32 4 12 0 28-1 28 0 12-1 15-1 9-2 3-1 2-2 2-4 2-5 5-22 2-5 1-1 1 0 4 3 2 0 2-2 4-7 1-1 1 0 2 3 6 14 3 5 1 1 1 0 1 0 5-6 1 0 1 1 2 2 2 3 8 16 3 4 4 5 2 1 3 1 1-18 1-434 1-148 10 0 1 150 1 434 1 19 17 2 28 1 28 1 12 0 6 0 3-1 3-2 2-4 5-11 1-2 1 0 1 1 1 2 5 12 2 2 3 2 8 1 13 0 8 0 5-2 3-2 2-2 3-7 2-8 4-21 1-4 1-2 1-1 1 1 4 10 2 3 1 0 1-1 1-2 5-18 3-9 2-12 3-25 1-2 1 5 3 35 1 9 1 6 1 1 1-2 2-12 3-31 2-30 2-484 11 0 2 599 1 8 9 0 29 0 28 1 28 0 26 2 3-1 2-1 2-2 4-4 1-1 1 0 1 1 4 4 2 2 2 1 2-1 3-1 3-2 3-3 7-10 2-1 1 0 1 0 2 2 8 11 2 2 3 2 3 1 4 1 14 2 15 0 32-1 28 0 28 0 36 0 36-1 40 2 32-1 22-1 4 0 3-2 2-2 4-6 1-2 1 0 1 0 1 1 3 5 2 3 2 1 1 0 2-1 2-1 2-3 3-5 6-12 2-2 1 0 1 0 2 3 7 13 3 5 4 3 3 2 3 0 7 1 9 0 26-1 16-1 3 0 2-1 2-2 2-4 4-10 1-1 1 0 1 1 1 2 4 10 1 2 2 2 1 0 2 0 2-2 2-4 4-10 1-2 1 0 1 1 4 10 2 3 2 2 1 0 2 0 2-1 1-1 2-4 1-3 2-10 4-32 1-6 1-3 1 2 1 4 3 19 1 4 1 1 1-2 1-4 3-20 1-6 1-2 1 2 1 5 3 20 2 8 1 1 1-1 1-5 1-12 1-27 1-67 1-144 1-251 1-71 3 0 1 11 1 271 1 165 1 80 1 34 1 15 1 8 2 9 3 8 2 2 3 3 3 2 4 1 11 2 21 1 14 0 3-1 2-1 5-5 2-1 2 1 3 2 2 1 2 1 2 0 3-2 3-3 9-13 2-2 1 0 1 1 1 1 6 12 2 3 2 1 2 0 3-1 2-2 6-6 2-1 1 0 1 0 2 1 8 9 2 1 3 2 6 1 22 0l0 4-489-1-215-1-146-2-161-1-68-3-107-4-115 1-44-3-48-6-28-7-24-4-24-7-12-2-8-3-28-13-20-6-28-17-20-7-28-17-16-5-8-4-37-21-9-4-9-3-40-4-41 0-10 2-21 5-17 2-26 7-21 3-36 7-16 2z"/><path id="d31" d="M2372 1734l12-1 12-2 19-5 16-5 6-2 4-3 3-3 3-5 2-7 1-6 2-19 1-15 2-44 3-84 1-20 1-7 1 6 1 14 3 54 2 29 3 32 3 24 3 19 3 12 3 6 2 3 3 2 5 1 6 0 24-3 2-1 2-2 1-1 2-5 3-9 1-2 1 0 1 0 5 8 2 2 3 0 16 1 23 2 2-1 2-1 4-6 1 0 1 0 1 2 4 11 2 4 3 3 15 8 32 19 12 5 12 4 4 2 8 4 12 8 8 4 4 2 12 4 4 2 8 4 12 8 8 4 4 2 12 3 4 1 28 13 8 3 12 2 24 9 8 2 12 1 20 5 12 2 24 1 40 4 28 4 12 1 24-1 65-3 9-1 4-2 2-1 2-3 1-3 2-7 4-21 2-7 1-1 1 1 4 10 1 1 1 1 1-1 1-1 4-13 1-3 1-1 1 1 1 2 4 16 2 6 2 4 1 2 1 0 1 0 1-1 1-1 4-10 1 0 1 0 2 4 5 13 5 9 3 4 3 3 3 1 4 2 1-19 1-433 1-158 10 0 1 159 1 434 1 18 61 5 16 0 13-1 4-1 3-2 2-4 5-12 1-1 1 0 1 1 1 2 5 11 2 3 2 1 2 0 4 1 19 0 8-1 4-1 3-3 2-4 1-3 2-8 4-24 1-4 1-1 1 1 4 16 2 5 1 1 1-1 1-1 2-8 4-19 1-2 2-3 1-3 4-30 1-2 1 5 3 33 1 8 1 5 1 2 1-3 2-12 3-33 2-30 2-494 11 0 2 608 1 8 46-1 52 3 20 0 4-1 3-2 2-3 3-7 2-2 1 0 1 1 4 8 2 2 2 2 2 0 3 0 3-2 3-2 7-6 3-1 3 1 7 7 4 2 5 2 10 1 27 1 24 0 72 0 100 1 37 0 16-1 4-1 2-1 2-2 1-2 5-14 1-2 1 0 1 1 1 2 3 8 2 4 2 2 2 1 2 0 3-2 3-4 6-7 2-2 1 0 1 0 2 2 7 9 3 3 3 2 4 1 10 2 23 1 16 0 12-1 4-1 2-1 1-1 2-4 4-11 1-1 1 0 1 1 4 9 2 4 2 2 1 0 2 0 2-2 1-2 5-12 1-2 1 0 1 1 4 10 2 3 2 2 1 0 2 0 2-1 1-1 2-4 1-3 2-10 4-32 1-6 1-3 1 2 1 5 3 18 1 4 1 1 1-1 1-5 3-20 1-6 1-2 1 2 1 4 3 21 2 8 1 1 1-2 1-5 1-11 1-28 1-67 1-144 1-250 1-79 3 0 1 18 1 271 1 165 1 80 1 34 1 15 1 8 2 9 3 8 2 2 3 3 3 2 4 1 11 2 22 1 10 0 4-1 2 0 2-2 5-8 1-1 1-1 1 1 1 1 3 5 2 3 2 1 3 0 4-2 4-3 3-4 5-9 1-1 1 0 1 0 1 2 5 12 2 3 2 1 2 1 3-1 8-6 3 0 3 1 9 6 5 2 7 0 20 0l0 4-489-1-215-1-146-2-161 0-68-4-107-4-115 1-44-3-48-6-28-7-24-4-24-7-12-2-8-2-28-13-20-7-28-17-20-7-28-17-16-5-8-4-37-21-9-4-9-3-40-4-41 0-10 2-21 5-17 2-26 7-21 3-36 7-16 2z"/><path id="d32" d="M2372 1743l8-1 8-1 24-7 18-5 5-1 4-2 3-2 3-4 2-5 2-8 1-7 2-26 2-48 4-132 1-14 1 5 1 20 4 109 1 20 2 26 3 22 4 18 2 6 2 4 3 4 3 2 5 1 8 0 23-4 3-1 2-1 1-2 5-14 1-2 1 0 1 0 5 8 2 1 4 1 14 1 19 2 5 0 2-1 2-2 4-5 1-1 1 1 1 1 5 14 1 1 2 3 15 9 21 14 8 4 8 4 8 3 12 3 4 1 8 5 16 10 8 4 12 4 4 2 8 4 16 11 8 4 12 3 8 2 28 13 12 4 16 5 8 2 8 2 12 1 8 1 20 4 8 2 20 2 24 5 8 1 12 0 24 1 28 1 12 0 24-1 32-1 11-1 8-1 3-2 2-1 2-4 1-3 2-8 4-26 1-4 1-2 1 1 1 3 4 17 1 3 1 0 1-1 1-2 4-19 1-4 1-1 1 2 1 5 3 17 2 9 1 3 2 4 1 0 1 0 1-1 2-5 3-11 1-3 1 0 1 1 1 3 5 18 3 7 3 3 4 3 4 2 5 1 1-19 1-434 1-166 10 0 1 168 1 434 1 18 21 2 32 0 24 1 8 0 6 0 3-1 3-2 2-3 5-12 1-1 1 0 1 1 1 2 5 11 2 3 3 1 8 2 13 0 9-1 3 0 3-2 2-1 2-3 2-5 2-10 4-28 1-4 1 0 1 3 3 17 2 8 1 2 1 1 1-1 2-7 4-26 1-4 1-1 2 1 1-2 1-4 3-23 1-2 1 4 3 31 1 8 1 5 1 1 1-3 2-13 3-32 2-30 2-503 11 0 2 616 1 8 26-1 40 1 12 1 26 2 7 0 6 0 4-1 3-3 2-3 5-14 1-1 1 0 1 2 4 10 2 4 2 2 3 1 3-1 3 0 8-4 3 0 2 0 2 1 7 4 4 1 4 1 6 1 48 0 32-1 12 1 20 2 8 0 8 0 20-2 12 0 24 0 28 0 32 1 13 0 24-2 3 0 2-1 2-3 1-2 5-19 1-3 1 0 1 1 1 3 3 12 2 6 2 4 1 1 2 1 2 0 3-1 3-2 6-4 3-1 3 1 7 4 3 2 4 1 4 0 28 2 12-1 21-1 3-1 2-2 1-1 2-4 4-10 1-1 1 0 1 1 1 2 4 10 1 2 2 2 1 0 2 0 2-2 2-4 4-10 1-2 1 0 1 1 4 10 2 4 2 2 1 0 2 0 2-1 1-1 2-4 1-3 2-10 4-32 1-6 1-3 1 2 1 5 3 19 1 3 1 2 1-2 1-4 3-21 1-5 1-2 1 2 1 4 3 21 2 8 1 1 1-2 1-5 1-11 1-28 1-67 1-144 1-250 1-89 3 0 1 28 1 271 1 164 1 80 1 34 1 15 1 8 2 10 2 5 2 3 3 3 4 1 4 1 5 1 27 3 9 0 6-1 3-2 2-3 4-9 1-2 1 0 1 0 1 2 3 7 2 4 2 2 3 1 2 0 3-1 2-1 2-2 3-5 4-10 1-1 1-1 1 1 1 2 5 13 2 3 2 1 2 1 3 0 8-3 4-1 3 1 7 2 5 2 28 3l0 1-489-1-215-1-146-2-161 0-68-4-107-3-115 0-44-3-48-6-28-7-24-4-24-7-12-2-8-2-28-13-20-7-28-17-20-7-28-17-16-5-8-3-37-22-9-4-9-3-40-4-41 0-10 2-21 5-17 3-26 6-21 3-36 7-16 2z"/><path id="d33" d="M2372 1749l16-2 17-3 15-3 11-3 6-3 4-3 2-2 2-3 2-6 2-11 1-9 2-35 2-60 3-119 1-24 1-4 1 18 4 143 1 27 2 35 2 18 1 5 2 7 2 4 2 4 2 2 3 2 2 1 3 1 7 1 8-1 22-4 2-1 2-3 2-5 3-9 1-1 1-1 1 1 5 7 2 1 3 1 17 0 22 2 2-1 2-1 4-6 1 0 1 0 1 2 4 11 2 4 2 3 2 1 14 7 24 15 12 6 8 4 12 3 4 2 28 16 4 2 12 3 8 4 24 16 4 2 16 5 16 9 8 3 8 3 12 1 8 2 24 6 16 3 20 5 8 2 8 1 20 1 60 8 16 1 44-2 44 0 11-1 6-1 2-2 1-1 2-4 1-3 2-10 4-28 1-4 1-1 1 2 4 23 1 5 1 2 1 0 1-1 1-4 4-24 1-4 1 0 1 3 1 5 4 27 1 4 2 6 1 0 1 0 1-1 1-2 2-8 3-13 1-3 1 0 1 2 1 4 4 19 1 4 2 4 2 3 4 2 5 1 6 1 1-19 1-434 1-174 10 0 1 175 1 434 1 18 21 1 44 4 16 0 10-1 3 0 3-3 2-3 5-11 1-2 1 0 1 1 1 2 5 12 2 2 3 2 8 1 15 1 9-1 5-1 2-2 1-2 2-5 2-11 4-30 1-4 1 1 1 4 3 21 2 10 1 2 1 0 1-2 2-9 4-30 1-4 1 0 2 3 1-1 1-3 3-23 1-2 1 3 3 29 1 8 1 4 1 0 1-2 2-14 3-33 2-31 2-508 11 0 2 622 1 8 26 3 16 0 40 0 30 0 7 0 3-1 2-3 1-1 2-6 3-10 1-2 1-2 1 1 1 2 4 14 2 4 1 2 2 2 4 1 5-1 11-1 17 3 39 1 128-2 16 1 28 2 12 0 16 0 44-3 4 0 3-1 2-1 1-2 2-4 1-4 4-19 1-3 1-1 1 1 1 3 4 20 2 6 1 2 2 2 3 2 5 0 11-2 11 2 6 0 28 0 30 0 8 0 3-2 2-2 2-4 4-10 1-1 1-1 1 1 4 10 2 4 2 2 2 0 2-1 2-3 5-12 1-2 1 0 1 1 4 10 2 3 2 2 1 0 2 0 2-1 1-1 2-4 1-3 2-10 4-32 1-6 1-2 1 1 1 5 3 19 1 3 1 2 1-2 1-4 3-21 1-5 1-2 1 1 1 5 3 21 2 8 1 1 1-2 1-5 1-12 1-27 1-67 1-144 1-250 1-96 3 0 1 35 1 271 1 165 1 80 1 34 1 15 1 8 2 10 2 5 3 5 3 2 5 3 7 2 10 1 13 0 12 0 6-1 3-2 2-3 1-2 4-11 1-2 1-1 1 1 1 3 4 11 2 3 1 1 2 1 3 0 3 0 2-1 3-3 2-4 4-11 1-3 1 0 1 0 1 2 5 14 2 3 3 2 4 1 12-1 17 3 26 1l0 2-489-1-215-1-146-2-161 0-68-3-107-4-115 0-44-3-48-6-28-7-24-4-24-7-12-2-8-2-28-13-20-7-28-16-20-8-28-17-16-5-8-3-37-22-9-4-9-3-40-4-41 0-10 2-21 5-17 3-26 6-21 3-36 8-16 2z"/><path id="d34" d="M2372 1758l24-5 24-4 11-3 6-3 4-3 3-5 2-4 2-10 1-8 2-30 2-56 4-159 1-16 1 8 1 29 3 125 1 33 2 45 2 22 2 9 1 3 2 3 4 3 6 2 4 1 4 0 6-1 16-3 10-2 2-1 2-3 5-14 1-1 1-1 1 1 4 7 2 2 3 1 5 1 35 0 2 0 2-2 4-5 1-1 1 1 1 1 4 12 2 4 2 2 2 2 11 6 23 15 12 6 12 6 12 4 4 1 20 12 8 4 4 1 12 4 4 2 8 4 16 11 8 4 12 3 8 3 20 9 8 3 12 3 28 8 20 3 20 5 8 2 8 1 12 0 8 1 24 4 8 1 24 2 20 1 20 0 36-1 32 0 8 0 7-2 3-1 2-2 2-4 1-4 2-11 4-29 1-4 1 0 1 3 3 20 2 10 1 3 1 0 1-3 1-4 4-26 1-3 1 0 1 4 1 6 4 29 1 4 2 6 1 0 1 0 1-2 2-6 4-19 1-3 1 0 1 3 1 5 4 21 1 3 2 5 2 2 3 1 5 1 7 1 1-19 1-434 1-184 10 0 1 184 1 434 1 19 25 1 32 0 28 2 7 0 3-1 2-2 2-3 5-12 1-1 1 0 1 1 1 1 5 12 2 2 2 1 5 1 22 0 7-1 4-1 2-1 1-2 2-5 2-12 4-31 1-3 1 1 1 6 4 29 1 4 1 2 1 0 1-2 1-4 5-38 1-3 1 0 2 4 1 0 1-3 3-22 1-3 1 4 3 28 1 8 1 4 1 0 1-3 2-14 3-33 2-30 2-518 11 0 2 632 1 8 30-1 8 0 28 3 12 1 34-1 7-1 3-1 2-2 1-2 2-6 3-11 1-3 1-1 1 1 1 3 4 14 2 5 1 1 2 2 2 1 3 0 24 1 30 1 37-2 28 2 12 1 28-1 28-1 28-1 12 0 20 2 12 0 31-1 26 0 4-1 2-1 2-2 1-2 2-7 4-20 1-4 1-2 1 1 1 4 4 21 2 6 2 4 2 2 2 0 8 1 25 1 12 0 25-1 25 1 5 0 3-1 2-2 2-4 4-10 1-2 1 0 1 1 4 10 2 4 2 2 2 0 2-1 2-3 5-13 1-1 1-1 1 1 4 10 2 4 2 1 1 1 2 0 2-1 1-1 2-4 1-3 2-11 4-32 1-6 1-2 1 1 1 5 3 19 1 4 1 1 1-2 1-4 3-21 1-5 1-2 1 1 1 5 3 20 2 8 1 1 1-2 1-5 1-11 1-28 1-67 1-144 1-250 1-104 3 0 1 42 1 272 1 164 1 80 1 34 1 15 1 9 2 9 2 5 2 3 2 3 3 2 4 2 4 1 5 1 8 1 9 1 10 0 9-1 4-1 2-2 2-4 5-15 1-1 1-1 1 2 1 2 3 10 2 5 2 2 3 2 3 1 3 0 2-1 2-2 2-4 4-12 1-2 1-1 1 1 1 2 5 15 2 3 3 2 3 0 5 0 21 0 30 0l0 3-489-1-215-1-146-2-161 0-68-3-107-4-115 0-44-3-48-6-28-6-24-5-24-6-12-3-8-2-28-13-20-7-28-16-20-8-28-16-16-6-8-3-37-22-9-4-9-3-40-4-41 0-10 2-21 5-17 3-26 7-21 2-36 8-16 2z"/><path id="d35" d="M2372 1767l8-1 8-1 22-6 18-4 6-2 5-3 3-3 2-3 2-6 2-11 1-9 2-35 2-63 3-126 1-27 1-5 1 19 4 158 1 30 2 39 1 11 2 12 1 3 2 4 2 2 2 1 3 1 4 1 4 1 4 0 9-2 23-6 2-1 2-3 5-14 1-1 1-1 1 1 5 8 3 2 5 1 23 3 10 0 4 0 3-2 4-6 1 0 1 0 1 1 4 11 2 4 3 4 15 7 24 15 12 7 8 3 12 4 4 2 24 14 8 3 8 2 4 1 4 2 8 4 16 12 8 4 16 5 24 12 8 3 4 1 12 2 28 6 16 3 24 6 8 2 20 2 20 4 8 1 8 1 24 0 28 1 36-1 24 0 8 0 12-1 10-1 6-1 2-1 2-2 2-4 1-4 2-11 3-23 1-6 1-3 1 0 1 4 4 27 1 4 1 2 1 0 1-2 1-5 4-26 1-2 1 0 1 5 5 34 1 5 1 3 1 1 1 1 1-1 2-5 4-19 1-4 1-2 1 0 1 3 5 25 1 3 2 4 2 2 3 1 12 1 1-18 1-434 1-191 10 0 1 191 1 434 1 19 29 1 36 4 12 0 11-1 6-1 3-3 2-3 5-12 1-1 1 0 1 1 1 2 5 11 2 3 3 2 3 1 6 0 12 0 10-1 4-1 2-1 2-1 1-2 2-6 2-12 3-24 1-7 1-3 1 2 1 6 4 29 1 4 1 2 1-1 1-2 1-4 5-37 1-3 1 0 2 5 1 0 1-3 3-22 1-3 1 3 3 29 1 7 1 4 1 1 1-3 1-6 2-18 2-23 2-31 2-526 11 0 2 640 1 8 34 2 32-1 34 1 9 0 8-1 4-1 2-2 1-2 2-5 4-14 1-3 1-1 1 1 1 3 4 15 1 2 2 4 2 2 3 1 12 1 13 1 48 2 12-1 20-2 8 0 8 0 20 2 12 0 80 0 28 1 8 0 8 0 23-2 18-1 3 0 2-1 2-2 1-2 2-7 4-20 1-4 1-2 1 1 1 3 4 21 2 7 1 3 2 2 2 1 2 1 7 1 40 1 53-2 3-2 2-2 2-4 4-10 1-2 1 0 1 1 4 10 2 4 2 2 2 0 2-1 2-3 5-13 1-1 1-1 1 1 4 10 2 4 1 1 2 1 3 0 2-1 1-2 2-5 1-5 2-13 3-24 1-6 1-2 1 2 1 4 3 19 1 4 1 1 1-1 1-4 3-21 1-5 1-2 1 1 1 5 3 20 2 9 1 0 1-1 1-5 1-12 1-28 1-67 1-144 1-250 1-113 3 0 1 52 1 271 1 164 1 80 1 34 1 15 1 9 2 9 2 5 3 4 3 3 5 2 7 2 10 1 12 0 14 0 5-1 2-1 1-1 2-3 1-3 4-12 1-2 1 0 1 2 1 2 4 13 2 4 1 1 2 1 2 1 3 0 3-1 2-1 1-1 2-5 4-12 1-2 1-1 1 1 1 2 3 10 2 4 2 3 2 2 4 0 19 1 24 2 13 0l0 1-489 0-215-2-146-1-161-1-68-3-107-4-115 0-44-3-48-6-28-6-24-4-24-7-12-3-8-2-28-13-20-7-28-16-20-8-28-16-16-6-8-3-37-22-9-4-9-3-40-4-41 1-10 1-21 5-17 3-26 7-21 3-36 7-16 2z"/><path id="d36" d="M2372 1776l12-2 12-2 20-5 13-4 6-3 4-3 2-2 2-3 2-5 2-9 1-8 2-28 2-55 4-161 1-18 1 6 1 28 4 158 2 47 2 22 2 10 1 2 2 4 4 3 3 1 4 1 8 1 10-1 22-4 2-1 2-3 5-14 1-2 1 0 1 1 5 7 2 1 3 1 15 1 20 2 4 1 2-1 2-1 4-6 1 0 1 0 1 1 4 12 2 4 1 1 2 1 12 5 7 4 8 4 20 13 8 4 20 8 8 5 12 7 8 5 4 2 12 3 4 2 20 12 8 4 4 1 12 3 4 1 8 4 20 10 8 3 8 2 24 7 8 2 12 1 8 1 24 7 8 1 56 4 32 5 12 0 12 0 48-2 28-2 11-1 2-1 2-1 2-3 1-3 2-9 4-29 1-6 1-2 1 1 1 4 4 26 1 4 1 2 1-1 1-3 4-24 1-6 1-2 1 1 1 5 5 35 1 4 1 3 1 1 1 0 1-1 1-1 2-8 3-15 1-4 1-2 1 1 1 4 5 25 1 3 2 4 2 2 3 1 12 1 1-19 1-434 1-199 10 0 1 200 1 434 1 19 37 2 55 0 3-1 2-1 2-3 5-12 1-1 1 0 1 1 1 2 5 12 2 2 3 2 3 1 5 0 13 0 10-1 4-1 2-1 2-2 1-1 2-7 2-11 3-25 1-6 1-3 1 2 1 6 4 29 1 4 1 1 1 0 1-2 1-5 5-37 1-3 1 1 2 5 1 0 1-4 3-22 1-3 1 3 3 28 1 8 1 4 1 0 1-3 1-6 2-18 2-23 2-31 2-533 11 0 2 647 1 8 34 3 12 1 40-2 25 1 7 0 3-1 2-2 1-2 2-5 4-14 1-2 1-1 1 1 1 3 4 15 2 4 1 1 2 2 4 1 27 0 41 2 96-1 12 0 36 2 12 0 32-2 12 1 25 1 15-1 7 0 4-1 2-1 2-3 2-4 1-4 4-21 1-4 1-2 1 1 1 3 4 20 2 7 1 3 2 2 2 2 2 0 15 2 21 1 55-1 9-1 3-1 2-1 1-1 2-4 4-11 1-1 1 0 1 1 4 10 2 3 2 2 2 0 2-1 2-3 5-12 1-2 1 0 1 1 4 10 2 4 1 1 2 1 3 0 2-2 1-1 2-6 1-4 2-13 3-25 1-6 1-2 1 2 1 4 3 19 1 4 1 1 1-1 1-5 3-20 1-6 1-2 1 2 1 5 3 20 2 8 1 1 1-2 1-5 1-11 1-28 1-67 1-144 1-250 1-121 3 0 1 59 1 272 1 164 1 80 1 34 1 15 1 8 2 9 2 6 3 4 3 2 4 2 6 2 8 1 22 2 10 0 4-1 2-1 3-7 4-12 1-1 1 0 1 1 4 13 2 4 1 1 2 2 2 1 3 0 4-1 2-2 1-1 2-5 4-12 1-2 1-1 1 1 1 3 3 9 2 5 2 3 3 2 7 1 17 1 35 0l0 3-489-1-215-1-146-2-161-1-68-3-107-4-115 0-44-2-48-6-28-7-24-4-24-7-12-2-8-3-28-13-20-6-28-17-20-8-28-16-16-5-8-4-37-21-9-4-9-3-40-4-41 0-10 1-21 5-17 3-26 7-21 3-36 7-16 2z"/><path id="d37" d="M2372 1783l20-3 14-3 12-3 10-3 6-3 5-3 2-3 2-3 2-5 2-11 1-10 2-33 2-62 3-126 1-29 1-7 1 17 5 188 2 40 2 19 2 8 1 2 2 3 4 3 3 2 4 1 4 0 5 0 10-1 21-4 2-1 2-3 5-14 1-2 1 0 1 0 5 8 2 1 3 1 15 0 24 3 2-1 2-1 4-6 1 0 1 0 1 2 4 11 2 4 3 3 12 6 7 3 24 15 8 5 8 4 12 3 4 2 8 5 12 7 8 5 4 2 12 4 4 2 20 12 8 3 4 2 12 3 4 1 8 4 16 8 8 3 36 9 8 2 12 1 8 2 20 6 12 3 56 3 28 4 12 1 40-1 40 0 12 0 9-1 4-2 2-1 2-4 1-3 2-9 4-30 1-5 1-2 1 1 1 5 4 26 1 3 1 1 1-1 1-3 4-26 1-5 1-1 1 1 1 5 4 29 1 6 2 6 1 1 1 0 1-1 1-2 2-8 3-15 1-3 1-2 1 2 1 3 5 25 1 3 2 4 2 2 3 1 12 2 1-19 1-434 1-207 10 0 1 208 1 434 1 19 33 2 52 1 7 0 3-1 2-2 2-3 5-12 1-1 1 0 1 1 1 2 5 11 2 3 3 1 7 1 13-1 12-2 5-1 2-2 1-2 2-6 2-12 3-24 1-6 1-2 1 2 1 6 4 29 1 4 1 2 1-1 1-2 1-5 5-36 1-3 1 2 2 5 1 0 1-3 3-23 1-3 1 3 3 29 1 8 1 4 1 0 1-3 1-6 2-17 2-24 2-30 2-544 11 0 2 657 1 8 22 0 28 1 12 1 52-2 5 0 3-2 2-2 2-5 4-15 1-2 1 0 1 2 1 3 4 14 2 5 1 1 2 2 3 1 4 0 14 1 35 0 48-1 44 1 36-1 12 0 24 2 12 1 12-1 20-1 12 0 31 1 10-1 4 0 3-1 2-3 1-1 2-7 4-20 1-5 1-2 1 0 1 3 4 21 2 7 1 2 2 3 3 2 5 0 35 2 15 1 18-1 29-2 3-1 2-1 1-2 2-3 4-11 1-1 1-1 1 2 4 9 2 4 2 2 2 0 2-1 2-3 5-12 1-2 1 0 1 1 4 10 2 4 2 2 1 0 2 0 2-1 1-1 2-4 1-3 2-11 4-32 1-5 1-3 1 2 1 4 3 19 1 4 1 1 1-2 1-4 3-20 1-6 1-2 1 2 1 4 3 21 2 8 1 1 1-2 1-5 1-11 1-28 1-67 1-144 1-250 1-128 3 0 1 67 1 271 1 165 1 80 1 34 1 15 1 8 2 9 2 6 3 4 3 3 5 2 5 1 8 1 20 2 11 0 4-1 2-1 1-1 2-4 4-12 1-2 1-2 1 1 1 1 4 13 2 4 1 1 2 2 2 1 3 0 4-1 2-2 1-1 2-5 4-12 1-2 1-1 1 1 1 3 3 9 2 5 2 3 2 1 5 1 34 3 11 0 10 0l0 2-489-1-215-1-146-2-161-1-68-3-107-4-115 1-44-3-48-6-28-7-24-4-24-7-12-2-8-3-28-13-20-6-28-17-20-7-28-17-16-5-8-4-37-21-9-4-9-3-40-4-41 0-10 2-21 5-17 2-26 7-21 3-36 7-16 2z"/><path id="d38" d="M2372 1792l16-4 37-9 7-2 5-2 3-3 3-5 2-6 2-12 1-11 2-40 5-191 1-20 1 4 1 26 4 158 2 48 1 14 2 15 1 4 2 4 2 3 2 1 3 2 4 1 7 0 6-1 17-3 12-1 2-1 2-3 2-5 3-9 1-1 1-1 1 1 5 8 2 1 4 1 14 1 19 2 5 0 2 0 2-2 4-5 1-1 1 0 1 2 4 11 2 4 1 1 2 2 12 5 7 3 8 5 20 13 8 5 8 3 12 4 20 11 8 4 4 2 12 3 4 2 8 5 16 11 8 3 16 5 24 11 8 3 16 4 20 5 8 2 12 1 8 2 24 6 8 2 16 1 28 4 28 3 12 0 12 0 16-1 12 0 28 2 12 1 16-2 11-1 7-2 3-1 2-1 2-4 1-3 2-10 4-30 1-5 1-1 1 2 5 31 1 3 1 1 1-2 1-3 4-26 1-4 1-1 1 2 1 5 4 30 1 5 2 6 1 1 1 0 1-1 1-3 2-7 3-16 1-3 1-1 1 2 1 4 4 21 1 4 2 5 2 3 3 1 5 1 8 1 1-19 1-434 1-216 10 0 1 217 1 434 1 18 53 2 28 1 11 0 3-1 2-2 2-3 5-12 1-1 1 0 1 1 1 2 5 11 2 3 2 1 2 0 4 1 19-1 9-1 4-1 2-2 1-1 2-7 2-12 3-24 1-6 1-2 1 3 1 6 4 29 1 3 1 2 1-1 1-3 1-4 5-37 1-2 1 1 2 5 1 0 1-3 3-23 1-4 1 3 3 29 1 7 1 4 1 0 1-3 1-5 2-18 2-24 2-30 2-550 11 0 2 664 1 8 26 2 12 1 12 0 28-2 12 0 21 2 7-1 3-1 2-2 1-1 2-6 4-14 1-2 1 0 1 2 1 3 4 15 2 4 1 1 2 1 5 1 10 1 17 0 48-1 40 2 12 0 32-2 12 0 32 1 36 0 40 1 21-1 15-2 3-1 2-2 2-4 1-4 4-20 1-4 1-3 1 0 1 3 4 21 1 4 2 6 1 2 2 2 4 1 14 2 20 0 42 0 12-1 12-1 4-1 2-1 1-2 2-4 4-10 1-1 1-1 1 1 1 3 4 10 1 1 2 2 1 1 2-1 2-1 2-4 4-10 1-1 1-1 1 2 4 10 2 4 1 1 2 1 3 0 2-2 1-1 2-6 1-4 2-13 3-25 1-6 1-2 1 1 1 5 3 19 1 3 1 1 1-1 1-4 3-21 1-6 1-2 1 1 1 5 3 20 2 8 1 1 1-2 1-5 1-12 1-28 1-67 3-530 3 0 1 74 1 272 1 164 1 80 1 34 1 15 1 8 2 10 2 5 3 4 3 3 5 3 7 2 10 1 11 1 11 1 7-1 2-1 2-1 2-3 1-2 4-13 1-2 1-2 1 1 1 2 4 12 1 2 2 3 2 2 2 1 4 0 3-1 2-2 2-3 5-15 1-1 1 0 1 1 1 3 3 9 2 5 2 3 3 1 4 1 6 0 30 0 19 1l0 3-489-1-215-1-146-2-161 0-68-4-107-4-115 1-44-3-48-6-28-7-24-4-24-7-12-2-8-2-28-13-20-7-28-17-20-7-28-17-16-5-8-4-37-21-9-4-9-3-40-4-41 0-10 2-21 5-17 2-26 7-21 3-36 7-16 2z"/><path id="d39" d="M2372 1801l8-1 12-3 29-8 9-3 5-2 4-4 3-4 2-5 2-10 1-9 2-33 2-61 3-126 1-30 1-9 1 14 1 34 4 155 2 41 1 12 2 12 1 4 2 4 2 2 2 1 3 2 5 1 4 1 5 0 11-1 21-5 2-1 2-3 5-14 1-1 1-1 1 1 5 7 2 1 3 1 15 0 20 3 4 0 2 0 2-2 4-5 1-1 1 1 1 1 5 14 1 1 2 3 2 1 14 7 28 18 8 4 4 2 8 2 8 2 8 3 8 4 16 10 4 2 12 4 4 2 8 5 12 8 8 4 4 2 12 4 4 2 16 8 8 4 8 3 12 1 8 2 24 6 16 3 28 7 8 1 12 1 24 4 12 1 12 0 12 0 28 3 16 0 60-1 13-1 9-2 3-1 2-2 2-4 1-3 2-11 4-29 1-5 1-1 1 3 4 25 1 5 1 3 1 1 1-2 1-4 4-26 1-4 1-1 1 3 1 6 4 29 1 5 2 6 1 1 1 0 1-2 1-2 2-8 3-15 1-3 1 0 1 2 1 4 4 21 1 4 2 5 2 3 3 1 5 1 8 1 1-19 1-434 1-224 10 0 1 225 1 434 1 18 37 2 28 1 21 1 6-1 3-1 2-1 2-3 5-12 1-1 1 0 1 1 1 2 5 11 2 3 3 1 7 1 16-1 9-1 5-2 2-2 1-1 2-7 2-13 3-24 1-6 1-1 1 3 5 35 1 3 1 1 1 0 1-3 1-5 4-32 1-5 1-2 1 2 2 6 1 0 1-4 3-23 1-4 1 3 3 29 1 7 1 4 1 0 1-3 1-5 2-18 2-24 2-30 1-210 1-348 11 0 2 672 1 9 19 2 15 0 32-1 38 0 9-1 5 0 3-1 2-3 1-1 2-6 3-11 1-3 1-2 1 0 1 2 5 18 1 2 2 3 2 2 3 1 13 2 10 0 9 0 37-1 32 1 32 0 32 1 12 0 24-2 12 0 36 2 28 0 24 1 9 0 5-1 3-1 2-1 2-3 2-6 1-5 4-20 1-3 1 0 1 2 4 20 2 8 1 2 2 3 3 2 6 0 39 2 30-1 23 0 6 0 3-1 2-1 1-2 2-3 4-11 1-1 1-1 1 1 4 10 2 4 2 2 2 0 2-1 2-3 5-13 1-1 1 0 1 1 4 9 2 4 1 1 2 1 3 0 2-2 1-1 2-6 1-4 2-13 3-25 1-6 1-2 1 2 1 4 3 19 1 4 1 1 1-1 1-4 3-21 1-5 1-2 1 1 1 5 3 21 2 8 1 1 1-2 1-5 1-12 1-27 1-67 3-540 3 0 1 84 1 272 1 164 1 80 1 34 1 15 1 9 2 9 2 5 3 4 3 3 5 2 8 2 13 1 11 0 10 0 4-1 2 0 2-2 1-1 2-4 4-13 1-2 1-1 1 0 1 2 4 12 2 5 1 1 2 1 3 1 3 0 3-1 2-1 1-2 2-4 4-12 1-2 1 0 1 2 4 13 2 5 2 2 3 2 6 1 10 1 43 0l0 2-489-1-215-1-146-2-161 0-68-4-107-3-115 0-44-3-48-6-28-7-24-4-24-7-12-2-8-2-28-13-20-7-28-17-20-7-28-17-16-5-8-3-37-22-9-4-9-3-40-4-41 0-10 2-21 5-17 3-26 6-21 3-36 7-16 2z"/><path id="d40" d="M2372 1808l12-1 12-3 21-5 12-4 6-3 4-4 3-5 2-5 2-13 1-11 2-38 2-67 3-124 1-22 1 2 1 24 4 159 2 49 2 24 2 11 1 2 2 4 2 2 2 1 3 1 4 1 8 1 7-1 27-4 2-1 2-3 2-5 3-9 1-2 1 0 1 1 5 7 2 2 4 1 14 0 19 2 5 0 2-1 2-2 4-5 1-1 1 0 1 2 4 11 2 4 3 3 11 5 8 4 8 5 16 11 8 5 8 4 16 5 8 4 20 11 4 2 12 4 4 2 20 13 8 4 4 2 12 2 4 2 8 3 20 10 8 3 32 8 8 1 12 2 8 1 24 8 8 2 4 0 20 2 32 1 28 3 12 1 32-1 28 1 12 0 12-1 15-2 4-2 3-1 2-3 1-3 2-8 5-35 1-4 1-1 1 3 4 27 1 4 1 3 1 0 1-2 1-4 4-26 1-3 1-1 1 4 1 6 4 29 1 5 2 5 1 1 1-1 1-1 1-3 5-23 1-2 1 0 1 2 1 5 4 21 1 3 2 5 2 2 3 1 5 1 8 1 1-19 1-433 1-233 10 0 1 233 1 434 1 19 77 3 8 0 7-1 3-1 2-2 2-3 5-11 1-2 1 0 1 1 1 2 5 12 2 2 3 2 7 0 17 0 9-1 4-1 2-2 1-2 2-7 2-12 3-25 1-5 1-1 1 3 4 30 2 8 1 1 1-1 1-3 1-5 4-31 1-5 1-2 1 2 2 6 1 0 1-3 3-24 1-3 1 3 3 28 1 7 1 4 1 1 1-3 1-6 2-18 2-23 2-31 1-210 1-357 11 0 2 681 1 8 21 1 37-1 12 0 31 3 9 0 7-1 2 0 2-1 2-3 1-2 2-5 3-12 1-3 1-1 1 0 1 2 4 15 1 2 2 4 1 1 2 2 5 0 32 2 31-1 12 0 32 2 8 1 12-1 20-1 12-1 40 2 40-1 40 1 22 0 9-1 4-1 2-1 2-2 2-4 1-3 5-25 1-3 1 0 1 2 1 5 4 20 2 7 1 2 2 2 4 1 7 1 9 1 42-3 12 0 24 1 10 0 3-1 2-2 2-4 4-10 1-2 1 0 1 1 4 10 2 4 2 2 2 0 2-1 2-3 5-12 1-2 1 0 1 1 4 10 2 3 2 2 1 1 2 0 2-1 1-1 2-4 1-4 2-10 4-32 1-6 1-2 1 1 1 5 3 19 1 3 1 1 1-1 1-5 3-20 1-6 1-2 1 1 1 5 3 20 2 8 1 1 1-2 1-5 1-11 1-28 1-67 3-546 3 0 1 91 1 271 1 165 1 80 1 34 1 15 1 8 2 9 2 6 3 4 4 3 5 3 7 1 9 2 14 1 12 0 5-1 2-2 1-1 2-4 4-12 1-3 1-1 1 1 1 2 4 13 2 4 1 1 2 2 2 0 3 0 2 0 2-1 2-1 3-7 4-12 1-1 1 0 1 1 5 15 2 4 1 1 2 1 6 1 23 0 31 1l0 2-489-1-215-1-146-2-161 0-68-3-107-4-115 0-44-3-48-6-28-7-24-4-24-7-12-2-8-2-28-13-20-7-28-16-20-8-28-17-16-5-8-3-37-22-9-4-9-3-40-4-41 0-10 2-21 5-17 3-26 6-21 3-36 8-16 2z"/><path id="d41" d="M2372 1816l12-2 16-3 16-3 11-4 6-3 5-4 3-4 2-5 2-10 1-8 2-32 2-59 3-126 1-32 1-11 1 12 1 32 4 156 2 43 1 12 2 13 1 3 2 4 2 2 2 2 3 1 4 1 4 1 4 0 8-1 27-5 2-1 2-3 2-4 3-9 1-2 1-1 1 1 5 8 2 1 3 1 17 0 22 3 2-1 2-1 4-5 1-1 1 1 1 1 4 12 2 4 2 2 2 2 13 6 21 12 12 6 8 3 16 5 4 2 8 4 20 13 4 3 12 4 4 2 20 12 8 4 4 1 12 3 4 2 8 3 16 8 8 4 16 4 20 6 8 2 20 2 28 7 36 5 12 1 24 0 32 2 36 1 20 0 20-1 14-1 8-1 3-1 2-2 2-4 1-4 2-11 4-29 1-4 1 0 1 4 4 26 1 4 1 2 1 0 1-2 1-5 4-26 1-3 1 0 1 4 5 35 1 4 1 3 1 2 1 1 1-1 1-2 2-6 4-20 1-2 1 0 2 8 4 20 1 4 2 4 2 2 3 2 5 1 8 1 1-19 1-434 1-240 10 0 1 241 1 434 1 19 53 1 32 2 7-1 3-1 2-1 2-3 5-12 1-1 1 0 1 1 1 2 5 12 2 2 3 2 7 1 13-1 10 0 6-2 2-1 2-4 2-7 2-13 3-24 1-5 1-1 1 4 4 29 2 8 1 1 1-1 2-8 4-32 1-4 1-1 3 8 1 0 1-4 3-24 1-3 1 3 3 28 1 8 1 4 1 0 1-3 1-6 2-17 2-24 2-30 1-211 1-365 11 0 2 689 1 8 30-1 12 0 12 1 28 2 13 1 13 0 9-1 2-1 2-1 2-3 2-4 4-15 1-3 1-1 1 1 1 2 4 14 2 5 1 2 2 2 2 0 4 1 38 3 16 0 13 0 28-1 16-1 44 1 48 0 36 2 16 0 20 0 28-2 7-1 4-1 2-1 2-3 2-5 1-4 4-21 1-3 1-1 1 2 5 25 2 7 1 1 2 3 4 1 6 1 10 0 32 1 35 0 13-1 8 0 3-1 2-2 1-1 2-4 4-10 1-2 1 0 1 1 4 10 2 4 2 2 2 0 2-1 2-3 5-12 1-2 1 0 1 1 4 10 2 4 1 1 2 1 3 0 2-1 1-2 2-5 1-5 2-13 3-24 1-6 1-3 1 2 1 5 3 19 1 3 1 1 1-1 1-4 3-21 1-5 1-2 1 1 1 5 3 20 2 8 1 1 1-2 1-5 1-11 1-28 1-67 3-556 3 0 1 101 1 271 1 165 1 79 1 35 1 15 1 8 2 9 2 5 3 4 3 3 5 2 5 1 8 1 21 0 10 0 4 0 2-2 1-1 2-4 4-12 1-3 1 0 1 1 1 2 4 13 2 4 1 1 2 1 2 1 3 0 2 0 2-1 2-2 1-2 2-4 3-10 1-2 1-2 1 1 1 1 4 13 2 4 2 3 2 1 7 1 53 2l0 1-489-1-215-1-146-2-161 0-68-3-107-4-115 0-44-3-48-6-28-6-24-5-24-6-12-3-8-2-28-13-20-7-28-16-20-8-28-16-16-6-8-3-37-22-9-4-9-3-40-4-41 0-10 2-21 5-17 3-26 7-21 2-36 8-16 2z"/><path id="d42" d="M2372 1823l38-6 10-3 7-2 6-3 5-4 3-5 2-5 2-12 1-11 2-37 2-66 3-125 1-23 1-1 1 23 4 159 2 50 2 25 2 11 1 3 2 3 2 2 2 1 3 2 5 1 4 1 5 0 10-1 23-5 2-1 2-3 5-14 1-2 1 0 1 0 5 8 2 1 3 1 15 1 24 2 2 0 2-1 4-6 1 0 1 0 1 2 4 11 2 4 2 2 2 1 10 5 8 4 24 14 8 4 8 4 12 4 4 2 8 4 12 8 8 4 4 2 12 3 4 2 8 4 20 12 8 4 12 4 20 9 8 3 4 1 12 2 8 2 20 7 8 2 36 7 24 3 24 5 8 2 8 0 32 0 28 2 12 0 12 0 28-3 27 0 8-1 2 0 2-2 2-5 1-4 2-11 3-23 1-6 1-3 1 1 1 4 4 25 1 4 1 2 1 0 1-3 5-31 1-3 1 1 1 4 5 34 1 5 1 2 1 2 1 0 1-1 2-5 4-19 1-4 1-2 1 1 1 3 5 25 1 4 2 4 2 2 3 1 5 2 8 1 1-19 1-434 1-248 10 0 1 249 1 434 1 19 29 0 32 3 12 0 12 0 6-1 3 0 3-3 2-3 5-12 1-1 1 0 1 1 1 2 5 12 2 2 3 2 8 1 13 0 9 0 6-2 2-1 2-4 2-7 2-13 3-24 1-5 1-1 1 4 4 30 1 4 1 3 1 1 1-1 2-9 4-31 1-5 1 0 3 9 1 0 1-4 3-25 1-3 1 3 3 28 1 8 1 4 1 0 1-3 1-5 2-18 2-23 2-31 1-210 1-374 11 0 2 698 1 8 38 0 32 1 12 0 26-1 10-1 3-1 2-3 1-2 2-5 3-12 1-2 1-1 1 1 1 2 4 15 1 3 2 4 1 1 2 1 3 1 4 0 16 1 37-1 40 1 52 0 56 2 44-1 36 1 16 0 12-2 3-1 2-2 2-4 1-3 5-25 1-3 1-1 1 1 1 4 4 21 2 6 1 2 2 3 2 1 3 1 15 1 14 1 12 0 21-2 9-1 12 1 16 1 6-1 3-1 2-2 2-4 4-10 1-1 1-1 1 1 4 10 2 4 2 1 2 1 2-2 2-3 5-13 1-1 1-1 1 1 4 10 2 3 2 2 1 0 2 0 2-1 1-1 2-3 1-4 2-10 4-32 1-5 1-3 1 2 1 5 3 19 1 4 1 1 1-2 1-4 3-20 1-5 1-3 1 2 1 5 3 21 2 8 1 1 1-2 1-5 1-11 1-28 1-67 3-564 3 0 1 109 1 271 1 165 1 80 1 34 1 15 2 13 1 4 2 5 3 4 2 2 3 2 7 1 36 4 5 0 3-1 2-1 2-3 5-15 1-2 1 0 1 1 1 2 4 12 2 4 1 1 2 1 3 1 3-1 3-1 2-2 1-2 2-5 3-9 1-3 1-1 1 1 1 1 4 13 2 4 2 2 2 2 3 0 7 1 21 2 12 0 17-1l0 3-489-1-215-2-146-1-161-1-68-3-107-4-115 0-44-3-48-6-28-6-24-4-24-7-12-3-8-2-28-13-20-7-28-16-20-8-28-16-16-6-8-3-37-21-9-5-9-2-40-4-41 0-10 1-21 5-17 3-26 7-21 3-36 7-16 2z"/><path id="d43" d="M2372 1832l12-2 30-6 7-1 6-2 6-3 4-3 3-4 2-5 2-10 1-8 2-31 2-58 4-159 1-14 1 10 4 155 1 33 2 43 1 13 2 14 1 3 2 4 2 2 2 2 4 2 6 1 5 1 5 0 11-2 20-5 2-1 2-3 5-14 1-2 1-1 1 1 5 7 3 2 33 5 7 1 3-1 2-2 4-5 1-1 1 0 1 2 5 13 1 2 2 2 15 8 25 16 12 6 8 3 12 3 4 2 8 5 12 8 8 4 8 3 8 2 8 3 8 5 12 8 8 4 16 7 20 9 12 4 16 3 20 7 8 2 16 2 28 6 8 1 16 1 32 6 48 2 24 1 32-2 28 0 10-1 8-1 2-1 2-2 2-3 1-3 2-9 4-30 1-6 1-2 1 1 1 4 4 26 1 4 1 1 1 0 1-3 4-25 1-5 1-3 1 2 1 5 5 35 1 4 1 3 1 1 1 0 1 0 1-2 2-8 3-15 1-3 1-2 1 1 1 4 5 25 1 3 2 4 2 2 3 1 5 0 8 0 1-18 1-434 1-256 10 0 1 256 1 434 1 19 25 3 8 1 8 0 24-1 21 1 6 0 3-1 2-2 2-3 5-12 1-1 1 0 1 1 1 2 5 11 2 2 2 2 5 0 23 0 6 0 4-2 2-2 1-2 2-7 5-38 1-4 1 0 1 4 3 23 2 11 1 3 1 1 1-2 2-9 4-31 1-5 1 0 3 9 1 0 1-4 3-25 1-3 1 3 3 28 1 7 1 4 1 1 1-3 1-6 2-18 2-23 2-30 1-211 1-381 11 0 2 706 1 9 14 0 32-1 32 1 12 0 18 0 9-1 2-1 2-1 2-3 2-4 4-15 1-2 1-1 1 1 1 3 4 14 1 3 2 3 2 2 2 1 9 1 21 2 12 0 10 0 27-1 12 0 20 1 8 0 32-1 32 1 32 0 28 1 12 0 20-1 8-1 22 2 7-1 4 0 2-1 2-3 1-2 2-7 4-21 1-4 1-1 1 1 1 4 3 16 2 8 1 2 2 4 1 0 2 1 18 1 21 3 9 0 9 0 22-1 29 0 3-1 2-2 1-1 2-3 4-11 1-1 1-1 1 2 4 9 2 4 2 2 2 0 2-1 2-3 5-12 1-2 1 0 1 1 4 10 2 3 1 1 2 2 3-1 2-1 1-2 2-5 1-5 2-13 3-25 1-6 1-2 1 1 1 5 3 19 1 4 1 1 1-2 1-4 3-21 1-5 1-3 1 2 1 5 3 20 2 8 1 1 1-2 1-5 1-12 1-27 1-68 1-144 2-426 3 0 1 115 1 271 1 165 1 80 1 34 1 15 1 8 2 10 2 5 2 3 2 3 3 2 4 2 4 1 5 1 8 2 9 0 11 0 7-1 4-1 2-1 2-4 5-15 1-1 1-1 1 2 1 2 3 10 2 5 2 2 3 2 3 0 3 0 2-1 2-2 2-3 4-13 1-2 1-1 1 1 1 2 5 15 2 3 3 2 7 1 14 0 39-1l0 4-489-1-215-1-146-2-161-1-68-3-107-4-115 0-44-2-48-6-28-7-24-4-24-7-12-2-8-3-28-13-20-6-28-17-20-8-28-16-16-5-8-4-37-21-9-4-9-3-40-4-41 0-10 1-21 5-17 3-26 7-21 3-36 7-16 2z"/><path id="d44" d="M2372 1840l12-1 12-2 16-4 14-5 6-3 5-4 3-4 2-6 2-11 1-10 2-36 2-64 3-125 1-26 1-2 1 20 4 159 1 30 2 37 1 11 2 11 1 3 2 3 2 2 2 2 3 1 5 1 4 0 4 0 7-1 17-4 11-2 2-1 2-3 5-14 1-2 1 0 1 1 5 8 2 1 4 1 14 1 20 3 4 0 2-1 2-1 4-5 1-1 1 0 1 2 4 11 2 4 3 3 11 4 8 4 32 20 8 4 12 4 4 1 24 14 8 4 12 3 4 2 8 4 12 8 8 5 4 1 16 6 24 11 8 3 16 4 20 6 8 2 20 3 24 5 24 3 24 4 8 1 32 2 16-1 24 0 48 1 19 0 6-1 5-1 2-1 2-2 2-3 1-3 2-10 4-29 1-5 1-2 1 1 1 5 4 26 1 3 1 1 1-1 1-3 4-26 1-5 1-1 1 2 1 5 4 29 1 5 2 6 1 2 1 0 1-2 1-2 2-8 3-15 1-3 1-1 1 1 1 4 3 16 2 9 1 3 2 4 2 1 3 2 5 0 8 1 1-19 1-434 1-264 10 0 1 265 1 434 1 18 13 1 44 3 20 0 14-1 3-1 3-2 2-3 5-12 1-1 1 0 1 1 1 2 5 12 2 3 3 1 8 2 13 0 9 0 6-1 2-2 1-1 2-6 1-4 5-38 1-4 1 0 1 5 4 29 1 4 1 3 1 0 1-1 2-10 4-31 1-4 1 0 3 9 1 0 1-4 3-25 1-4 1 3 3 28 1 7 1 4 1 1 1-3 1-6 2-18 2-23 2-31 1-210 1-389 11 0 2 713 1 8 30 1 40 0 38 1 9 0 2-1 2-1 2-3 2-5 4-14 1-2 1-1 1 1 1 3 4 15 2 4 1 2 2 1 2 1 4 1 31 1 19 1 17-1 28-1 16-1 12 0 40 2 52 0 48 2 16 0 22-2 6 0 4-1 2-1 2-3 2-5 1-4 4-20 1-4 1-1 1 1 1 4 4 20 2 7 2 4 2 1 2 1 4 0 7 1 39-1 45 1 13 0 3-1 2-1 1-2 2-4 4-10 1-2 1 0 1 1 4 10 2 4 2 2 2 0 2-1 2-3 5-13 1-1 1 0 1 1 4 10 2 3 1 1 2 1 3 0 2-1 1-2 2-5 1-5 2-13 3-24 1-6 1-3 1 2 1 5 3 19 1 3 1 2 1-2 1-4 3-21 1-5 1-2 1 1 1 5 3 21 2 8 1 1 1-2 1-5 1-11 1-28 1-67 1-144 2-437 3 0 1 126 1 271 1 165 1 79 1 35 1 15 2 13 1 4 2 5 3 5 2 2 3 1 4 2 4 0 8 1 16 0 13-1 5 0 2-2 2-2 2-4 4-13 1-1 1 0 1 1 1 3 3 9 2 5 2 3 3 1 3 1 3-1 2 0 2-2 2-4 4-13 1-2 1-1 1 1 1 2 3 10 2 5 2 3 3 2 4 1 7 0 49 2l0 2-489-1-215-1-146-2-161-1-68-3-107-4-115 1-44-3-48-6-28-7-24-4-24-7-12-2-8-3-28-13-20-6-28-17-20-7-28-17-16-5-8-4-37-21-9-4-9-3-40-4-41 0-10 2-21 5-17 2-26 7-21 3-36 7-16 2z"/></defs>
<g transform="scale(0.25)" fill="#fff" stroke="#000" stroke-width="1.80" stroke-linejoin="round">
<use href="#d0" stroke-dasharray="5313.7 99999"/><use href="#d0" fill="none" stroke-width="3.60" stroke-dasharray="0 80.1 544.9 716.0 166.9 13.3 50.8 881.4 2.4 215.1 77.8 1206.0 53.6 226.2 839.1 99999"/>
<use href="#d1" stroke-dasharray="5374.2 99999"/><use href="#d1" fill="none" stroke-width="3.60" stroke-dasharray="0 78.7 550.9 714.3 165.0 13.2 60.1 890.1 2.4 215.1 78.0 1226.0 53.7 225.3 860.9 99999"/>
<use href="#d2" stroke-dasharray="5412.8 99999"/><use href="#d2" fill="none" stroke-width="3.60" stroke-dasharray="0 81.3 543.1 720.3 155.4 16.9 56.8 907.5 2.4 216.9 78.0 1243.1 47.3 226.6 876.8 99999"/>
<use href="#d3" stroke-dasharray="5469.3 99999"/><use href="#d3" fill="none" stroke-width="3.60" stroke-dasharray="0 80.4 551.0 716.9 160.7 21.2 52.3 924.4 2.8 216.3 76.5 1258.5 53.3 226.5 889.1 99999"/>
<use href="#d4" stroke-dasharray="5514.4 99999"/><use href="#d4" fill="none" stroke-width="3.60" stroke-dasharray="0 82.6 543.0 721.9 160.1 11.9 57.3 938.4 2.4 217.4 76.0 1274.1 57.4 223.1 911.0 99999"/>
<use href="#d5" stroke-dasharray="5560.0 99999"/><use href="#d5" fill="none" stroke-width="3.60" stroke-dasharray="0 81.6 546.8 721.2 160.5 13.2 56.8 956.8 2.4 214.5 77.0 1290.6 52.7 223.2 922.9 99999"/>
<use href="#d6" stroke-dasharray="5606.9 99999"/><use href="#d6" fill="none" stroke-width="3.60" stroke-dasharray="0 84.1 545.9 714.5 164.3 13.3 55.9 971.3 2.8 214.8 76.4 1307.6 52.4 222.8 941.8 99999"/>
<use href="#d7" stroke-dasharray="5662.0 99999"/><use href="#d7" fill="none" stroke-width="3.60" stroke-dasharray="0 82.4 546.8 716.5 166.1 12.4 59.2 987.9 2.4 213.6 75.4 1327.0 52.3 221.8 961.0 99999"/>
<use href="#d8" stroke-dasharray="5702.7 99999"/><use href="#d8" fill="none" stroke-width="3.60" stroke-dasharray="0 82.1 550.0 719.6 154.4 13.9 60.0 1003.0 2.4 213.1 75.0 1341.7 53.7 221.2 976.0 99999"/>
<use href="#d9" stroke-dasharray="5748.2 99999"/><use href="#d9" fill="none" stroke-width="3.60" stroke-dasharray="0 83.9 549.0 718.7 155.0 16.9 55.4 1017.8 2.4 213.2 73.5 1360.3 52.7 219.3 992.8 99999"/>
<use href="#d10" stroke-dasharray="5801.4 99999"/><use href="#d10" fill="none" stroke-width="3.60" stroke-dasharray="0 82.7 549.9 712.8 160.1 21.6 52.7 1038.3 2.4 213.8 75.0 1376.6 52.9 217.9 1008.3 99999"/>
<use href="#d11" stroke-dasharray="5783.4 99999"/><use href="#d11" fill="none" stroke-width="3.60" stroke-dasharray="0 84.4 507.9 720.6 77.9 0.0 70.0 16.9 52.5 1054.2 2.4 203.5 75.5 1393.0 44.8 221.0 1026.9 99999"/>
<use href="#d12" stroke-dasharray="5695.4 99999"/><use href="#d12" fill="none" stroke-width="3.60" stroke-dasharray="0 91.2 428.8 739.5 54.7 5.1 59.7 17.4 39.8 1064.8 2.4 187.2 80.8 1398.4 41.0 221.0 1039.2 99999"/>
<use href="#d13" stroke-dasharray="5593.7 99999"/><use href="#d13" fill="none" stroke-width="3.60" stroke-dasharray="0 95.2 313.7 775.9 42.3 6.5 37.4 17.9 18.1 1266.5 87.3 1418.5 7.3 233.3 1057.9 99999"/>
<use href="#d14" stroke-dasharray="5527.9 99999"/><use href="#d14" fill="none" stroke-width="3.60" stroke-dasharray="0 108.3 250.1 2116.0 96.2 1672.2 1074.2 99999"/>
<use href="#d15" stroke-dasharray="5548.4 99999"/><use href="#d15" fill="none" stroke-width="3.60" stroke-dasharray="0 137.0 102.6 2209.0 103.3 1692.3 1089.1 99999"/>
<use href="#d16" stroke-dasharray="5626.0 99999"/><use href="#d16" fill="none" stroke-width="3.60" stroke-dasharray="0 2472.0 107.3 1719.9 1108.0 99999"/>
<use href="#d17" stroke-dasharray="5693.6 99999"/><use href="#d17" fill="none" stroke-width="3.60" stroke-dasharray="0 2502.0 107.2 1739.2 1126.8 99999"/>
<use href="#d18" stroke-dasharray="5736.3 99999"/><use href="#d18" fill="none" stroke-width="3.60" stroke-dasharray="0 2521.8 107.3 1749.9 1138.0 99999"/>
<use href="#d19" stroke-dasharray="5781.0 99999"/><use href="#d19" fill="none" stroke-width="3.60" stroke-dasharray="0 2531.0 107.2 1768.0 1156.9 99999"/>
<use href="#d20" stroke-dasharray="5836.6 99999"/><use href="#d20" fill="none" stroke-width="3.60" stroke-dasharray="0 2555.2 107.3 1785.1 1167.7 99999"/>
<use href="#d21" stroke-dasharray="5878.2 99999"/><use href="#d21" fill="none" stroke-width="3.60" stroke-dasharray="0 2565.0 107.3 1800.1 1187.0 99999"/>
<use href="#d22" stroke-dasharray="5933.8 99999"/><use href="#d22" fill="none" stroke-width="3.60" stroke-dasharray="0 2586.2 107.3 1818.8 1199.9 99999"/>
<use href="#d23" stroke-dasharray="5974.5 99999"/><use href="#d23" fill="none" stroke-width="3.60" stroke-dasharray="0 2596.0 108.1 1834.5 1217.0 99999"/>
<use href="#d24" stroke-dasharray="6028.0 99999"/><use href="#d24" fill="none" stroke-width="3.60" stroke-dasharray="0 2616.4 106.3 1850.4 1234.1 99999"/>
<use href="#d25" stroke-dasharray="6077.1 99999"/><use href="#d25" fill="none" stroke-width="3.60" stroke-dasharray="0 2630.0 108.1 1870.1 1247.7 99999"/>
<use href="#d26" stroke-dasharray="6125.7 99999"/><use href="#d26" fill="none" stroke-width="3.60" stroke-dasharray="0 2645.6 108.1 1885.6 1266.1 99999"/>
<use href="#d27" stroke-dasharray="6174.4 99999"/><use href="#d27" fill="none" stroke-width="3.60" stroke-dasharray="0 2665.3 107.3 1900.0 1280.1 99999"/>
<use href="#d28" stroke-dasharray="6215.5 99999"/><use href="#d28" fill="none" stroke-width="3.60" stroke-dasharray="0 2676.1 107.2 1912.5 1298.6 99999"/>
<use href="#d29" stroke-dasharray="6227.6 99999"/><use href="#d29" fill="none" stroke-width="3.60" stroke-dasharray="0 136.6 102.6 2432.0 102.3 1922.6 1315.0 99999"/>
<use href="#d30" stroke-dasharray="6306.8 99999"/><use href="#d30" fill="none" stroke-width="3.60" stroke-dasharray="0 108.7 249.2 2374.1 96.4 1933.8 1329.9 99999"/>
<use href="#d31" stroke-dasharray="6476.7 99999"/><use href="#d31" fill="none" stroke-width="3.60" stroke-dasharray="0 95.4 324.7 766.5 42.3 5.7 38.3 17.9 17.2 1559.9 89.3 1716.4 6.9 232.3 1344.9 99999"/>
<use href="#d32" stroke-dasharray="6676.3 99999"/><use href="#d32" fill="none" stroke-width="3.60" stroke-dasharray="0 91.6 429.8 739.6 54.7 5.6 61.0 16.4 38.8 1391.4 2.4 187.9 81.6 1723.6 40.8 220.3 1365.6 99999"/>
<use href="#d33" stroke-dasharray="6846.4 99999"/><use href="#d33" fill="none" stroke-width="3.60" stroke-dasharray="0 84.6 508.9 720.1 77.9 0.0 70.5 16.1 51.5 1408.3 2.4 205.6 75.5 1747.0 49.0 215.3 1379.0 99999"/>
<use href="#d34" stroke-dasharray="6973.3 99999"/><use href="#d34" fill="none" stroke-width="3.60" stroke-dasharray="0 82.3 550.9 715.0 160.6 21.0 53.2 1426.9 2.4 211.7 75.0 1768.5 53.7 217.9 1394.1 99999"/>
<use href="#d35" stroke-dasharray="7020.4 99999"/><use href="#d35" fill="none" stroke-width="3.60" stroke-dasharray="0 83.7 545.8 717.1 159.7 17.9 55.4 1439.4 2.4 215.1 74.5 1786.3 52.7 225.1 1405.8 99999"/>
<use href="#d36" stroke-dasharray="7066.8 99999"/><use href="#d36" fill="none" stroke-width="3.60" stroke-dasharray="0 82.1 550.9 719.9 154.9 12.5 60.9 1456.2 2.4 215.1 75.0 1797.4 52.7 224.4 1422.8 99999"/>
<use href="#d37" stroke-dasharray="7121.9 99999"/><use href="#d37" fill="none" stroke-width="3.60" stroke-dasharray="0 82.5 550.9 712.1 163.5 12.4 59.8 1472.9 2.4 214.4 76.0 1816.8 53.3 221.9 1442.7 99999"/>
<use href="#d38" stroke-dasharray="7162.8 99999"/><use href="#d38" fill="none" stroke-width="3.60" stroke-dasharray="0 83.6 543.9 713.1 165.1 13.3 55.9 1493.6 2.4 213.7 76.0 1827.6 53.2 228.9 1453.2 99999"/>
<use href="#d39" stroke-dasharray="7223.1 99999"/><use href="#d39" fill="none" stroke-width="3.60" stroke-dasharray="0 81.4 546.8 717.2 166.9 13.2 55.4 1509.1 2.4 215.5 77.0 1849.7 47.2 228.3 1473.0 99999"/>
<use href="#d40" stroke-dasharray="7266.0 99999"/><use href="#d40" fill="none" stroke-width="3.60" stroke-dasharray="0 82.2 545.0 721.8 161.5 12.8 55.5 1524.8 2.4 215.0 75.4 1860.2 57.4 223.0 1488.3 99999"/>
<use href="#d41" stroke-dasharray="7318.3 99999"/><use href="#d41" fill="none" stroke-width="3.60" stroke-dasharray="0 79.9 550.0 714.8 160.6 20.9 52.3 1540.8 2.4 215.0 77.0 1879.1 53.7 228.3 1504.0 99999"/>
<use href="#d42" stroke-dasharray="7366.5 99999"/><use href="#d42" fill="none" stroke-width="3.60" stroke-dasharray="0 80.5 544.1 717.2 159.5 17.4 55.8 1557.6 2.4 216.5 78.0 1890.6 57.0 224.3 1527.6 99999"/>
<use href="#d43" stroke-dasharray="7417.9 99999"/><use href="#d43" fill="none" stroke-width="3.60" stroke-dasharray="0 78.2 552.0 714.7 165.6 12.9 60.0 1570.0 2.4 215.6 77.4 1910.2 48.7 233.6 1536.7 99999"/>
<use href="#d44" stroke-dasharray="7461.9 99999"/><use href="#d44" fill="none" stroke-width="3.60" stroke-dasharray="0 80.0 543.0 715.4 163.3 14.0 49.9 1595.8 2.4 216.6 78.4 1923.5 51.9 231.5 1556.6 99999"/>
</g>
<rect x="793.0" y="305.2" width="8.0" height="3" fill="#fff"/>
<rect x="848.9" y="305.2" width="8.0" height="3" fill="#fff"/>
<rect x="1022.9" y="305.2" width="8.0" height="3" fill="#fff"/>
<path d="M916.4 213V236" stroke="#444" stroke-width="1.1"/>
<path d="M593.5 523.5H1075.2" fill="none" stroke="#2b2b2b" stroke-width="2.2"/>
<text x="620.2" y="553.4" text-anchor="middle" font-size="16" fill="#2a2a2a" stroke="#2a2a2a" stroke-width="0.30">10</text>
<text x="711.0" y="553.4" text-anchor="middle" font-size="16" fill="#2a2a2a" stroke="#2a2a2a" stroke-width="0.30">15</text>
<text x="801.7" y="553.4" text-anchor="middle" font-size="16" fill="#2a2a2a" stroke="#2a2a2a" stroke-width="0.30">20</text>
<text x="892.5" y="553.4" text-anchor="middle" font-size="16" fill="#2a2a2a" stroke="#2a2a2a" stroke-width="0.30">25</text>
<text x="983.2" y="553.4" text-anchor="middle" font-size="16" fill="#2a2a2a" stroke="#2a2a2a" stroke-width="0.30">30</text>
<text x="1074.0" y="553.4" text-anchor="middle" font-size="16" fill="#2a2a2a" stroke="#2a2a2a" stroke-width="0.30">35</text>
<path d="M620.2 523.5V531.0M665.6 523.5V528.0M711.0 523.5V531.0M756.3 523.5V528.0M801.7 523.5V531.0M847.1 523.5V528.0M892.5 523.5V531.0M937.8 523.5V528.0M983.2 523.5V531.0M1028.6 523.5V528.0M1074.0 523.5V531.0" fill="none" stroke="#2b2b2b" stroke-width="1.8"/>
<text x="833" y="569" font-size="21" fill="#2a2a2a" stroke="#2a2a2a" stroke-width="0.30">2<tspan font-size="17">&#920;</tspan>,<tspan font-size="11.5" dx="0.6" dy="-11.3">o</tspan></text>
<text x="557" y="37.4" font-size="27" fill="#2a2a2a" stroke="#2a2a2a" stroke-width="0.30">b)</text>
<text x="558" y="319.7" font-size="27" fill="#2a2a2a" stroke="#2a2a2a" stroke-width="0.30">d)</text>
<text transform="translate(637.9 58.5) skewX(-12)" font-size="12.4" fill="#333" stroke="#333" stroke-width="0.30">(111)</text>
<text transform="translate(744.5 106.4) skewX(-12)" font-size="12.4" fill="#333" stroke="#333" stroke-width="0.30">(311)</text>
<text transform="translate(886.7 152.4) skewX(-12)" font-size="12.4" fill="#333" stroke="#333" stroke-width="0.30">(331)</text>
<text transform="translate(967.8 137.5) skewX(-12)" font-size="12.4" fill="#333" stroke="#333" stroke-width="0.30">(511)</text>
<text transform="translate(1046.0 141.0) skewX(-12)" font-size="12.4" fill="#333" stroke="#333" stroke-width="0.30">(531)</text>
<path d="M647.0 69.0L630.9 82.4" stroke="#222" stroke-width="1.4"/>
<path d="M627.1 85.6L629.7 79.3L633.8 84.2z" fill="#222"/>
<path d="M762.0 117.4L770.7 124.4" stroke="#222" stroke-width="1.4"/>
<path d="M774.6 127.5L767.9 126.2L771.9 121.3z" fill="#222"/>
<path d="M899.1 157.4L893.5 162.3" stroke="#222" stroke-width="1.4"/>
<path d="M889.7 165.6L892.1 159.2L896.3 164.1z" fill="#222"/>
<path d="M981.8 144.8L979.0 149.3" stroke="#222" stroke-width="1.4"/>
<path d="M976.4 153.5L976.8 146.7L982.3 150.1z" fill="#222"/>
<path d="M1061.2 147.2L1057.6 152.5" stroke="#222" stroke-width="1.4"/>
<path d="M1054.8 156.6L1055.5 149.8L1060.8 153.4z" fill="#222"/>
<path d="M650.20 128.40L650.99 130.31L653.05 130.47L651.48 131.82L651.96 133.83L650.20 132.75L648.44 133.83L648.92 131.82L647.35 130.47L649.41 130.31z" fill="#111"/>
<path d="M796.00 60.20L796.79 62.11L798.85 62.27L797.28 63.62L797.76 65.63L796.00 64.55L794.24 65.63L794.72 63.62L793.15 62.27L795.21 62.11z" fill="#111"/>
<path d="M826.30 144.00L827.09 145.91L829.15 146.07L827.58 147.42L828.06 149.43L826.30 148.35L824.54 149.43L825.02 147.42L823.45 146.07L825.51 145.91z" fill="#111"/>
<path d="M851.20 57.20L851.99 59.11L854.05 59.27L852.48 60.62L852.96 62.63L851.20 61.55L849.44 62.63L849.92 60.62L848.35 59.27L850.41 59.11z" fill="#111"/>
<path d="M1026.50 59.40L1027.29 61.31L1029.35 61.47L1027.78 62.82L1028.26 64.83L1026.50 63.75L1024.74 64.83L1025.22 62.82L1023.65 61.47L1025.71 61.31z" fill="#111"/>
<path d="M650.70 343.30L651.49 345.21L653.55 345.37L651.98 346.72L652.46 348.73L650.70 347.65L648.94 348.73L649.42 346.72L647.85 345.37L649.91 345.21z" fill="#111"/>
<path d="M796.40 290.50L797.19 292.41L799.25 292.57L797.68 293.92L798.16 295.93L796.40 294.85L794.64 295.93L795.12 293.92L793.55 292.57L795.61 292.41z" fill="#111"/>
<path d="M825.20 374.00L825.99 375.91L828.05 376.07L826.48 377.42L826.96 379.43L825.20 378.35L823.44 379.43L823.92 377.42L822.35 376.07L824.41 375.91z" fill="#111"/>
<path d="M851.70 290.20L852.49 292.11L854.55 292.27L852.98 293.62L853.46 295.63L851.70 294.55L849.94 295.63L850.42 293.62L848.85 292.27L850.91 292.11z" fill="#111"/>
<path d="M1026.20 290.20L1026.99 292.11L1029.05 292.27L1027.48 293.62L1027.96 295.63L1026.20 294.55L1024.44 295.63L1024.92 293.62L1023.35 292.27L1025.41 292.11z" fill="#111"/>
<path d="M1095.0 166.4L1084.0 166.4" stroke="#415668" stroke-width="1.6"/>
<path d="M1079.5 166.4L1085.0 163.2L1085.0 169.6z" fill="#415668"/>
<text x="1099" y="170.9" font-size="18.5" font-weight="bold" fill="#415668">2.2 V</text>
<path d="M1095.0 210.5L1084.0 210.5" stroke="#415668" stroke-width="1.6"/>
<path d="M1079.5 210.5L1085.0 207.3L1085.0 213.7z" fill="#415668"/>
<text x="1099" y="215.0" font-size="18.5" font-weight="bold" fill="#415668">4.9 V</text>
<path d="M1095.0 260.0L1084.0 260.0" stroke="#415668" stroke-width="1.6"/>
<path d="M1079.5 260.0L1085.0 256.8L1085.0 263.2z" fill="#415668"/>
<text x="1099" y="264.5" font-size="18.5" font-weight="bold" fill="#415668">2.2 V</text>
<path d="M1095.0 401.6L1084.0 401.6" stroke="#415668" stroke-width="1.6"/>
<path d="M1079.5 401.6L1085.0 398.4L1085.0 404.8z" fill="#415668"/>
<text x="1099" y="406.1" font-size="18.5" font-weight="bold" fill="#415668">2.2 V</text>
<path d="M1095.0 443.1L1084.0 443.1" stroke="#415668" stroke-width="1.6"/>
<path d="M1079.5 443.1L1085.0 439.9L1085.0 446.3z" fill="#415668"/>
<text x="1099" y="447.6" font-size="18.5" font-weight="bold" fill="#415668">4.9 V</text>
<path d="M1095.0 487.6L1084.0 487.6" stroke="#415668" stroke-width="1.6"/>
<path d="M1079.5 487.6L1085.0 484.4L1085.0 490.8z" fill="#415668"/>
<text x="1099" y="492.1" font-size="18.5" font-weight="bold" fill="#415668">2.2 V</text>
<g fill="#fff"><rect x="95.82" y="256.94" width="2.97" height="3.36"/><rect x="100.12" y="256.94" width="2.73" height="3.36"/><rect x="145.12" y="256.94" width="2.97" height="3.36"/><rect x="149.42" y="256.94" width="2.73" height="3.36"/><rect x="194.42" y="256.94" width="2.97" height="3.36"/><rect x="198.72" y="256.94" width="2.73" height="3.36"/><rect x="243.82" y="256.94" width="2.97" height="3.36"/><rect x="248.12" y="256.94" width="2.73" height="3.36"/><rect x="327.27" y="286.53" width="2.10" height="3.07"/><rect x="330.36" y="286.53" width="1.91" height="3.07"/><rect x="134.52" y="548.34" width="2.97" height="3.36"/><rect x="138.82" y="548.34" width="2.73" height="3.36"/><rect x="197.22" y="548.34" width="2.97" height="3.36"/><rect x="201.52" y="548.34" width="2.73" height="3.36"/><rect x="259.92" y="548.34" width="2.97" height="3.36"/><rect x="264.22" y="548.34" width="2.73" height="3.36"/><rect x="322.62" y="548.34" width="2.97" height="3.36"/><rect x="326.92" y="548.34" width="2.73" height="3.36"/><rect x="385.32" y="548.34" width="2.97" height="3.36"/><rect x="389.62" y="548.34" width="2.73" height="3.36"/><rect x="330.27" y="578.63" width="2.10" height="3.07"/><rect x="333.36" y="578.63" width="1.91" height="3.07"/><rect x="611.57" y="550.90" width="3.65" height="3.60"/><rect x="616.84" y="550.90" width="3.39" height="3.60"/><rect x="702.37" y="550.90" width="3.65" height="3.60"/><rect x="707.64" y="550.90" width="3.39" height="3.60"/><g transform="translate(637.9 58.5) skewX(-12)"><rect x="4.27" y="-2.23" width="2.85" height="3.33"/><rect x="8.42" y="-2.23" width="2.63" height="3.33"/></g><g transform="translate(637.9 58.5) skewX(-12)"><rect x="10.24" y="-2.23" width="2.85" height="3.33"/><rect x="14.39" y="-2.23" width="2.63" height="3.33"/></g><g transform="translate(637.9 58.5) skewX(-12)"><rect x="16.20" y="-2.23" width="2.85" height="3.33"/><rect x="20.35" y="-2.23" width="2.63" height="3.33"/></g><g transform="translate(744.5 106.4) skewX(-12)"><rect x="11.16" y="-2.23" width="2.85" height="3.33"/><rect x="15.32" y="-2.23" width="2.63" height="3.33"/></g><g transform="translate(744.5 106.4) skewX(-12)"><rect x="17.13" y="-2.23" width="2.85" height="3.33"/><rect x="21.28" y="-2.23" width="2.63" height="3.33"/></g><g transform="translate(886.7 152.4) skewX(-12)"><rect x="18.04" y="-2.23" width="2.85" height="3.33"/><rect x="22.19" y="-2.23" width="2.63" height="3.33"/></g><g transform="translate(967.8 137.5) skewX(-12)"><rect x="11.16" y="-2.23" width="2.85" height="3.33"/><rect x="15.32" y="-2.23" width="2.63" height="3.33"/></g><g transform="translate(967.8 137.5) skewX(-12)"><rect x="17.13" y="-2.23" width="2.85" height="3.33"/><rect x="21.28" y="-2.23" width="2.63" height="3.33"/></g><g transform="translate(1046.0 141.0) skewX(-12)"><rect x="18.04" y="-2.23" width="2.85" height="3.33"/><rect x="22.19" y="-2.23" width="2.63" height="3.33"/></g></g>
</svg>
</body></html>
